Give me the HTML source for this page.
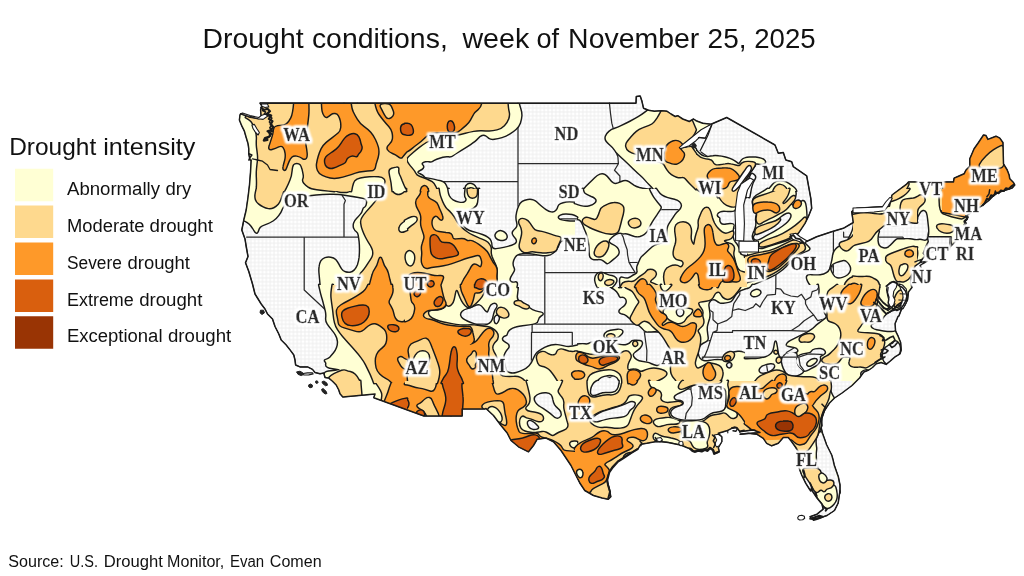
<!DOCTYPE html>
<html lang="en"><head><meta charset="utf-8"><title>Drought conditions, week of November 25, 2025</title>
<style>html,body{margin:0;padding:0;background:#fff;overflow:hidden}svg{display:block}</style></head>
<body>
<svg width="1024" height="576" viewBox="0 0 1024 576">
<defs>
<pattern id="dots" width="3.86" height="3.86" patternUnits="userSpaceOnUse"><rect width="3.86" height="3.86" fill="#f0f0f0"/><rect x="0.55" y="0.55" width="2.76" height="2.76" fill="#fff"/></pattern>
<clipPath id="land"><path d="M260,103 L636,103.2 L636.3,96.5 L640.2,96 L641.8,100.7 L643.5,108.2 L648.5,110.2 L654.3,111.2 L661.8,110.7 L666.8,111.2 L671,114 L675.2,116.5 L677.7,115.7 L682.7,119 L689.3,121.5 L693.5,119 L696,120.7 L702.7,123.2 L711,124.3 L726.7,117.5 L775,145 L778.3,153.3 L783.3,152.5 L785.8,160 L791.7,161.7 L793.3,166.7 L806.7,175.8 L810.8,198.3 L811.7,208.3 L808.3,216.7 L805,223.3 L801.7,228.3 L798.3,233.3 L795.8,236.7 L800,241.7 L803.3,243 L816.7,236.7 L831.7,231.7 L843.3,228.3 L853.3,222.5 L851.7,211.7 L856.7,208.3 L889.5,206.2 L892,195 L907,183.8 L908.5,181.9 L953.5,181.9 L954.1,178.1 L958.5,176.2 L964.1,173.8 L966,170 L969.8,166.2 L969.8,158.8 L974.1,148.8 L978.5,142.5 L983.5,135 L986,135.6 L987.9,139.4 L996,136.2 L999.8,138.1 L1002.9,142.5 L1003.5,163.8 L1007.2,170 L1009.1,175 L1009.8,178.8 L1013.5,182.5 L1014.8,185 L1012.2,188.1 L1006,190 L998.1,192.5 L992.5,196.7 L988.3,200.9 L982.7,205.2 L978.4,208 L971.4,212.2 L965.8,216.4 L967.2,219.2 L964.4,222 L965.1,224.8 L963,231 L958,238 L953,244 L950,247 L940,250 L930,252 L925,256 L922.5,258.8 L920,262.5 L915,266.2 L913.1,271.2 L911.2,277.5 L910.6,282.5 L911.9,287.5 L908.5,291.9 L907.5,300 L905,305 L901.2,310 L898.8,316.2 L898.1,316.2 L895,323.8 L895.6,331.2 L898.1,336.2 L900.6,342.5 L901.2,350 L900,353.8 L895,356.9 L890,361.2 L886.2,364.4 L881.2,362.5 L876.2,363.8 L872.5,367.5 L868.8,370 L863.8,372 L859.5,378 L852,385.5 L842,393 L834.5,398 L829.5,403 L824.5,410.5 L822,418 L821.2,428 L822.5,433.3 L826.7,445 L831.7,455 L833.3,460.8 L834.2,465 L838.3,476.7 L840,485 L840,493.3 L840,490.5 L838.2,503 L834.5,510.5 L827,515.5 L819.5,518 L812,519.2 L810,516.8 L817,514.2 L823.2,509.2 L822,504.2 L817,498 L812,490.5 L810,490 L805.8,483.3 L801.7,475 L799.2,468.3 L798.3,451.7 L795.8,447.5 L791.7,441.7 L788.3,437.5 L783.3,437.5 L778.3,443.3 L771.7,445.8 L766.7,443.3 L763.3,438.3 L756.7,434.2 L748.3,433.3 L740,434.2 L760,432.5 L753.3,430 L746.7,430.8 L740,431.7 L736.7,427.5 L731.7,428.3 L726.7,430.8 L718.3,433.3 L721.7,436.7 L721.7,441.7 L718.3,447.5 L719.2,451.7 L714.2,453.7 L713.3,450 L710,447.5 L706.7,450 L700,450.8 L694.2,451.7 L691.7,449.2 L686.7,447.5 L680.8,445 L676.7,444.2 L668.3,442.5 L661.7,441.7 L655,441.7 L646.7,443.3 L640.8,444.2 L638.3,448.3 L631.7,452.5 L625,456.7 L618.3,460.8 L612.5,466.7 L609.2,471.7 L606.7,480 L609.2,488.3 L610.8,496.7 L608.3,499.2 L602.2,498 L593.5,495.5 L584.8,490.5 L579.8,483 L576,475.5 L571,465.5 L566,458 L561,450.5 L553.5,441.8 L546,438 L537.2,439.2 L533.5,445.5 L528.5,451.8 L518.5,446.8 L511,440.5 L507.2,433 L501,425.5 L493.5,415.5 L486,408.5 L484.8,408.9 L462.2,408.9 L462.2,416 L423.9,416 L373.8,397.7 L375,394 L342.8,397 L340,393.8 L338.8,390 L336.2,385 L332.5,381.2 L328.8,378.1 L325,377.5 L323.8,373.1 L320,373.8 L315,372.5 L312.5,369.4 L307.5,366.9 L300,366.9 L295.6,365 L295,360 L293.8,355 L290.6,350.6 L286.2,345 L281.2,340 L278.8,334 L275,326.5 L272.5,319 L267.5,314 L265,309 L261.2,304 L255,294 L252.5,284 L248.8,271.5 L245.5,262.8 L248,256.5 L246.2,246.5 L245,239 L241.8,230 L243.8,220 L246.2,210 L248,197.5 L249.5,185 L250.5,172.5 L251.2,160 L250,160 L248.8,153.8 L248.8,148.8 L248.1,143.8 L246.2,137.5 L244.4,131.2 L241.9,126.2 L239.4,120 L240,115 L240.6,113.8 L248.8,116.9 L258.8,118.8 L261.2,116.9 L260.6,110 L261.9,106.2 L260,103.1Z"/></clipPath>
<filter id="halo" x="-20%" y="-30%" width="140%" height="160%"><feMorphology in="SourceAlpha" operator="dilate" radius="1.6" result="d"/><feGaussianBlur in="d" stdDeviation="0.8" result="b"/><feFlood flood-color="#fff"/><feComposite in2="b" operator="in" result="h"/><feMerge><feMergeNode in="h"/><feMergeNode in="h"/><feMergeNode in="SourceGraphic"/></feMerge></filter>
</defs>
<rect width="1024" height="576" fill="#fff"/>
<path d="M260,103 L636,103.2 L636.3,96.5 L640.2,96 L641.8,100.7 L643.5,108.2 L648.5,110.2 L654.3,111.2 L661.8,110.7 L666.8,111.2 L671,114 L675.2,116.5 L677.7,115.7 L682.7,119 L689.3,121.5 L693.5,119 L696,120.7 L702.7,123.2 L711,124.3 L726.7,117.5 L775,145 L778.3,153.3 L783.3,152.5 L785.8,160 L791.7,161.7 L793.3,166.7 L806.7,175.8 L810.8,198.3 L811.7,208.3 L808.3,216.7 L805,223.3 L801.7,228.3 L798.3,233.3 L795.8,236.7 L800,241.7 L803.3,243 L816.7,236.7 L831.7,231.7 L843.3,228.3 L853.3,222.5 L851.7,211.7 L856.7,208.3 L889.5,206.2 L892,195 L907,183.8 L908.5,181.9 L953.5,181.9 L954.1,178.1 L958.5,176.2 L964.1,173.8 L966,170 L969.8,166.2 L969.8,158.8 L974.1,148.8 L978.5,142.5 L983.5,135 L986,135.6 L987.9,139.4 L996,136.2 L999.8,138.1 L1002.9,142.5 L1003.5,163.8 L1007.2,170 L1009.1,175 L1009.8,178.8 L1013.5,182.5 L1014.8,185 L1012.2,188.1 L1006,190 L998.1,192.5 L992.5,196.7 L988.3,200.9 L982.7,205.2 L978.4,208 L971.4,212.2 L965.8,216.4 L967.2,219.2 L964.4,222 L965.1,224.8 L963,231 L958,238 L953,244 L950,247 L940,250 L930,252 L925,256 L922.5,258.8 L920,262.5 L915,266.2 L913.1,271.2 L911.2,277.5 L910.6,282.5 L911.9,287.5 L908.5,291.9 L907.5,300 L905,305 L901.2,310 L898.8,316.2 L898.1,316.2 L895,323.8 L895.6,331.2 L898.1,336.2 L900.6,342.5 L901.2,350 L900,353.8 L895,356.9 L890,361.2 L886.2,364.4 L881.2,362.5 L876.2,363.8 L872.5,367.5 L868.8,370 L863.8,372 L859.5,378 L852,385.5 L842,393 L834.5,398 L829.5,403 L824.5,410.5 L822,418 L821.2,428 L822.5,433.3 L826.7,445 L831.7,455 L833.3,460.8 L834.2,465 L838.3,476.7 L840,485 L840,493.3 L840,490.5 L838.2,503 L834.5,510.5 L827,515.5 L819.5,518 L812,519.2 L810,516.8 L817,514.2 L823.2,509.2 L822,504.2 L817,498 L812,490.5 L810,490 L805.8,483.3 L801.7,475 L799.2,468.3 L798.3,451.7 L795.8,447.5 L791.7,441.7 L788.3,437.5 L783.3,437.5 L778.3,443.3 L771.7,445.8 L766.7,443.3 L763.3,438.3 L756.7,434.2 L748.3,433.3 L740,434.2 L760,432.5 L753.3,430 L746.7,430.8 L740,431.7 L736.7,427.5 L731.7,428.3 L726.7,430.8 L718.3,433.3 L721.7,436.7 L721.7,441.7 L718.3,447.5 L719.2,451.7 L714.2,453.7 L713.3,450 L710,447.5 L706.7,450 L700,450.8 L694.2,451.7 L691.7,449.2 L686.7,447.5 L680.8,445 L676.7,444.2 L668.3,442.5 L661.7,441.7 L655,441.7 L646.7,443.3 L640.8,444.2 L638.3,448.3 L631.7,452.5 L625,456.7 L618.3,460.8 L612.5,466.7 L609.2,471.7 L606.7,480 L609.2,488.3 L610.8,496.7 L608.3,499.2 L602.2,498 L593.5,495.5 L584.8,490.5 L579.8,483 L576,475.5 L571,465.5 L566,458 L561,450.5 L553.5,441.8 L546,438 L537.2,439.2 L533.5,445.5 L528.5,451.8 L518.5,446.8 L511,440.5 L507.2,433 L501,425.5 L493.5,415.5 L486,408.5 L484.8,408.9 L462.2,408.9 L462.2,416 L423.9,416 L373.8,397.7 L375,394 L342.8,397 L340,393.8 L338.8,390 L336.2,385 L332.5,381.2 L328.8,378.1 L325,377.5 L323.8,373.1 L320,373.8 L315,372.5 L312.5,369.4 L307.5,366.9 L300,366.9 L295.6,365 L295,360 L293.8,355 L290.6,350.6 L286.2,345 L281.2,340 L278.8,334 L275,326.5 L272.5,319 L267.5,314 L265,309 L261.2,304 L255,294 L252.5,284 L248.8,271.5 L245.5,262.8 L248,256.5 L246.2,246.5 L245,239 L241.8,230 L243.8,220 L246.2,210 L248,197.5 L249.5,185 L250.5,172.5 L251.2,160 L250,160 L248.8,153.8 L248.8,148.8 L248.1,143.8 L246.2,137.5 L244.4,131.2 L241.9,126.2 L239.4,120 L240,115 L240.6,113.8 L248.8,116.9 L258.8,118.8 L261.2,116.9 L260.6,110 L261.9,106.2 L260,103.1Z" fill="url(#dots)" stroke="#222" stroke-width="1" stroke-linejoin="round"/>
<path id="borders" fill="none" stroke="#2a2a2a" stroke-width="1.25" stroke-linejoin="round" stroke-linecap="round" d="M344,103 L343.9,154.4 L345.5,162.5M250.6,157.5 L261.3,159.1 L266.7,165.4 L267.3,170.2 L274.7,171.2 L280.1,168.3 L288.1,168.3 L297.5,169.3 L309.6,164.5 L317.9,162.5 L345.5,162.5M345.5,162.5 L351.5,170.2 L348.4,176 L346.4,183.6 L341.7,191.1 L342.4,195.8 L345.4,200.5 L344,204.2 L344,237.1M246.6,237.1 L424.2,237.1M304.2,237.1 L304.2,290 L376.2,357.2M384.1,237.1 L384,324M384,324 L384,337.4 L379.3,339.1 L374.7,340.7 L375.8,349 L376.2,357.2M376.2,357.2 L379.5,366.2 L382.8,369.2 L377.9,375.1 L375,383.1 L377.9,389.5 L375,394M384,324 L644.4,324M424.2,237.1 L424.2,255 L451,255 L451,324 L451,416M451,255 L544.8,255 L544.8,272.6M424.2,181.7 L424.2,237.1M424.2,181.7 L518,181.7M357.2,103 L357.2,123.2 L361.6,129.2 L361.8,134.2 L367.2,138.1 L371.9,144.1 L376.6,149.9 L380.2,149.9 L379.3,164.5 L377.3,171.2 L380.6,173.1 L385.3,168.3 L388.7,176 L394.7,185.5 L400,192 L407.4,191.1 L414.1,190.2 L418.1,190.2 L419.5,186.4 L424.2,191.1M518,103 L518,255M518,163.7 L618.4,163.7M518,218.9 L592.4,218.9 L600.4,221.7 L607.1,221.7 L612.5,223.5 L619.5,228.1M544.8,272.6 L544.8,324M544.8,272.6 L635.2,272.6M609.4,103 L610.5,113.2 L611.8,123.2 L614.5,133.2 L614.8,143.1 L615.4,150.9 L617.9,156.7 L618.4,163.7M618.4,163.7 L614.5,170.2 L619.9,176 L619.9,209.7M619.9,209.7 L618.5,213.4 L619.9,217.1 L618.5,220.8 L619.5,228.1M619.9,209.7 L690,209.7M619.5,228.1 L621.2,233.5 L623.2,237.1 L624.6,242.5 L627.2,249.7 L627.6,255 L629,262.1 L631.9,267.4 L635.2,272.6M629,262.5 L683.1,262.1 L687.3,266M635.2,272.6 L640.6,276.1 L638,280.5 L640.6,284.8 L644.5,288.3 L644.4,324 L644.4,332.4M644.4,332.4 L704.3,332.4 L701.4,340.7 L710.3,340.7M644.4,332.4 L646.9,350.6 L646.1,379.3M532.1,324 L532.1,332.4M531.5,332.4 L572.3,332.4 L572.3,364.4 L576.3,367 L583,370.2 L591.1,371.8 L597.8,371 L603.1,375.1 L609.8,377.5 L613.8,375.1 L620.5,378.3 L628.6,375.9 L636.6,374.3 L642,378.3 L646.1,379.3 L652.2,380.7M652.2,380.7 L652.2,405.4 L658.7,421.1 L656.5,428.9 L656.7,435.1 L654.7,441.3M652.2,389.2 L690.6,389.2M531.5,332.4 L531.3,405.4 L483.6,405.4 L484.8,408.9M675.6,149.7 L675.6,161 L667.9,168.3 L670.1,176 L668.8,186.4 L675.5,190.2 L687.6,200.5 L690,209.7 L690.9,218.9 L696.9,224.4 L697.7,228.1 L704,235.3 L702.3,241.6 L699.6,246.1 L692.3,247.9 L692.9,256.8 L687.6,262.1 L687.3,266 L687.2,274.4 L688.2,277.9 L696.3,284.8 L699,291.7 L704.3,292.6 L703.6,296.9 L701.6,303.7 L707.7,308.8 L713,312.2 L713,319.8 L717.7,324 L717,330.7 L713,332.4 L710.3,340.7 L707.7,349 L705,355.5 L699.6,362.1 L694.3,370.2 L691.6,378.3 L690.9,389.5 L692.3,397.5 L691.6,405.4 L686.2,413.3 L684.9,421.1M684.9,421.1 L709.9,421.1 L709,426.6 L712.4,433.6M697.7,228.1 L735.8,228.1M701,151.9 L707.7,156.7 L718.4,160.6 L725.1,163.5 L731.8,166.4 L735.1,174.1 L738.5,179.8M739.4,242.5 L739.4,284 L739.8,294.3 L733.8,303.7 L732.5,310.5M776,242.5 L775.8,288.3M743.9,241.4 L776,241.4 L794.1,242M717.7,324 L726.4,320.7 L731.8,316.5 L732.5,310.5 L738.5,308.8 L745.2,310.5 L753.2,307.1 L755.9,303.7 L759.9,307.1 L762.6,302 L767.3,295.2 L775.4,294.3 L775.8,288.3 L780.7,289.2 L784.1,293.5 L790.8,296 L797.5,296.9 L801.5,294.3 L805.5,300.3 L810.9,296.9 L812.2,291.7 L816.9,290 L821.6,283.1 L827,279.6 L829,277.9 L832.3,265.6 L833.4,261.4M833.4,277.5 L833.4,231.7M843.6,232.2 L843.6,237.1 L902.7,237.1 L911.4,248.6 L922.1,255M833.4,277.5 L896.9,277.5M805.5,300.3 L805.5,303.7 L808.2,308.8 L813.6,314.8 L804.2,320.7 L798.8,325.7 L791,330.7M817.8,331.6 L791,330.7 L732.5,330.7 L732.5,332.4 L713,332.4M817.8,331.6 L895.7,331.6M817.8,330.9 L817.6,334.9 L812.2,339.1 L805.5,341.5 L797.5,344.9 L793.5,348.2 L786.8,352.3 L782.5,357.2M798.8,357.2 L702.3,357.2M730.5,357.2 L731.8,358.8 L727.1,405.4 L727.1,421.1 L727.8,432.8M765.3,357.2 L770.9,391.6 L774,400.7 L772.7,413.3 L773.3,421.1 L775.2,425.7M739.8,432.4 L740.5,430.5 L738.5,421.1 L773.3,421.1M775.2,425.7 L810.6,427.8 L812.9,431.1 L814.2,425 L820.9,425.8M798.8,357.2 L800.2,365.3 L806.2,373.5 L813.6,381.5 L820.3,389.5 L822.9,397.5 L828.3,404.6M798.8,357.2 L808.2,353.9 L826.3,354.7 L828.3,356.4 L829.6,360.5 L844.4,360.5 L859.8,375.9M813.6,314.8 L817.6,320.7 L824.3,319 L829.6,319 L836.3,315.6 L840.4,308.8 L844.4,300.3 L849.7,296.9 L855.5,292.6 L862.5,288.3 L870.5,284.8 L870.9,284.5M870.9,284.5 L864.5,279.6 L856.5,278.8 L853.8,282.2 L847.2,286.6 L847.3,277.5M870.9,284.5 L873.9,288.3 L879.9,291.7 L876.6,300.3 L881.9,303.7 L890,307.1M900.7,275.6 L896.9,277.5 L898,299.5 L906.7,299.5M911.4,248.6 L906,255 L904.7,262.1 L910.1,269.1 L905.4,274.4 L900,279.6M925.5,255 L927.5,249.7 L927.5,236.2 L930.6,223.5 L930.8,207.9 L928.8,207.9 L929.5,191.1 L929.5,181.7M954.3,181.7 L953,186.4 L951.6,193 L946.9,194.9 L946.3,202.3 L942.2,207.9 L941.6,215.3 L941.4,223.9M930.6,223.5 L957,223.9 L963.4,221.1M959.9,176 L961.3,207.9 L964.4,217.1M927.5,236.2 L950.3,236.6 L949.6,249.3"/>
<g clip-path="url(#land)" stroke-linejoin="round">
<defs>
<path id="p1" d="M235,93L407,93L407,191L235,191ZM405,93L516,93L517.7,99.8Q519.3,106.5 520.3,109.4Q521.3,112.3 521.2,115.7Q521,119 519.8,122.8Q518.5,126.5 515.6,129Q512.7,131.5 509.3,133.6Q506,135.7 501.8,136.9Q497.7,138.2 494.3,138.6Q491,139 489.3,137.8Q487.7,136.5 486,135.2Q484.3,134 481.8,134.8Q479.3,135.7 477.7,137.8Q476,139.8 474.3,141.1Q472.7,142.3 470.2,144Q467.7,145.7 464.3,147.8Q461,149.8 457.7,151.9Q454.3,154 452.7,155.2Q451,156.5 448.5,156.1Q446,155.7 442.7,156.5Q439.3,157.3 436.4,158.6Q433.5,159.8 432.2,160.7Q431,161.5 429.3,161.1Q427.7,160.7 425.2,161.1Q422.7,161.5 421.8,162.8Q421,164 422.2,165.2Q423.5,166.5 422.7,167.8Q421.8,169 419.8,169.8Q417.7,170.7 417.2,171.9Q416.8,173.2 419.8,174.4Q422.7,175.7 423.5,176.9Q424.3,178.2 426.8,178.6Q429.3,179 433.5,179.8Q437.7,180.7 440.6,181.5Q443.5,182.3 444.8,184Q446,185.7 446.8,188.3L447.7,191L405,191ZM465.2,191L465.6,188.3Q466,185.7 467.7,184.7Q469.3,183.7 471.4,184.2Q473.5,184.8 474.8,186.5Q476,188.2 476.4,189.6L476.8,191ZM648.5,102.3L712.7,102.3L712.7,124.3L710.2,124.8L705.6,127.3Q701,129.8 696.8,133.2Q692.7,136.5 688.5,139.8Q684.3,143.2 681.8,145.4L679.3,147.7L681,148.2Q682.7,148.7 686.8,147.8Q691,147 693.1,147.6Q695.2,148.2 695.6,149L696,149.8L696,191L656,191L654.3,189.2Q652.7,187.3 650.2,184.8Q647.7,182.3 645.2,179.4Q642.7,176.5 640.2,174.4Q637.7,172.3 633.5,168.2Q629.3,164 625.2,160.2Q621,156.5 618.5,154Q616,151.5 614.8,149.4Q613.5,147.3 611,145.2Q608.5,143.2 606.8,141.1Q605.2,139 606,136.5Q606.8,134 609.3,131.9Q611.8,129.8 614.8,129Q617.7,128.2 621.8,126.1Q626,124 630.2,121.9Q634.3,119.8 638.5,117.3Q642.7,114.8 645.6,112.5L648.5,110.2ZM582.7,191L584.3,189.2Q586,187.3 589.3,184Q592.7,180.7 595.2,178.2Q597.7,175.7 600.2,174.8Q602.7,174 604.8,175.2Q606.8,176.5 608.9,179.4Q611,182.3 613.1,183.6Q615.2,184.8 618.1,183.6Q621,182.3 623.5,181.5Q626,180.7 628.5,182.3Q631,184 633.5,185.7Q636,187.3 639.3,188.2Q642.7,189 646,189.4Q649.3,189.8 651,190.4L652.7,191ZM767.7,191L769.3,189.2Q771,187.3 772.7,185.2Q774.3,183.2 776.8,182.1Q779.3,181 782.7,181.7Q786,182.3 788.5,184Q791,185.7 793.1,187.3Q795.2,189 795.6,190L796,191ZM895.7,191L909,180.7L944,180.7L944,191ZM235,189L407,189L407,287L321,287L320.6,282.7Q320.2,278.3 319.8,274.2Q319.3,270 319.8,266.7Q320.2,263.3 321.4,261.2Q322.7,259.2 325.2,258.3Q327.7,257.5 330.6,257.9Q333.5,258.3 335.2,260Q336.8,261.7 338.1,264.2Q339.3,266.7 341,269.2Q342.7,271.7 345.2,272.5Q347.7,273.3 350.2,272.9Q352.7,272.5 354.8,270.4Q356.8,268.3 358.1,265Q359.3,261.7 359.8,257.5Q360.2,253.3 360.2,249.2Q360.2,245 359.8,241.2Q359.3,237.5 358.9,235Q358.5,232.5 356.8,231.2Q355.2,230 354.3,227.9Q353.5,225.8 354.3,223.3Q355.2,220.8 357.2,218.8Q359.3,216.7 361,214.6Q362.7,212.5 363.1,210.4Q363.5,208.3 365.2,207.5Q366.8,206.7 367.2,203.3Q367.7,200 366,198.8Q364.3,197.5 358.5,196.7Q352.7,195.8 347.7,195Q342.7,194.2 339.3,193.8Q336,193.3 329.3,193.5Q322.7,193.7 316,194.3Q309.3,195 302.7,195.8Q296,196.7 291,199.2Q286,201.7 283.9,205Q281.8,208.3 281.2,210Q280.7,211.7 278.3,215Q276,218.3 272.7,220.4Q269.3,222.5 265.2,223.9Q261,225.3 259.8,226.8Q258.5,228.3 257.7,231Q256.8,233.7 255.6,231.8Q254.3,230 253.1,227.9Q251.8,225.8 249.8,223.8Q247.7,221.7 245.2,220.7L242.7,219.7L235,219.7ZM405,189L577,189L577,287L405,287ZM575,189L747,189L747,287L575,287ZM794.3,189L795.2,192Q796,195 794.3,197.5Q792.7,200 791,201.7Q789.3,203.3 791,204.6Q792.7,205.8 794.3,207.1Q796,208.3 798.5,205Q801,201.7 802.7,201.2Q804.3,200.8 805,203.8Q805.7,206.7 806,210.8Q806.3,215 806.3,218.3Q806.3,221.7 805.8,223.8Q805.2,225.8 803.5,227.9Q801.8,230 800.6,232.5Q799.3,235 800.2,237.5Q801,240 802.7,241.7Q804.3,243.3 806,245Q807.7,246.7 808.8,247.9Q810,249.2 807.5,250.2Q805,251.2 801.8,252.7Q798.7,254.2 795.6,256.7Q792.5,259.2 790,261.7Q787.5,264.2 785,266.7Q782.5,269.2 779.3,271.4Q776.2,273.7 773.1,275.2Q770,276.7 767.5,277.9Q765,279.2 761.8,280.4Q758.7,281.7 755.7,282.9Q752.7,284.2 749.3,285.6L746,287L745,287L745,252L745.5,252Q746,252 749.3,251Q752.7,250 755.2,248.8Q757.7,247.5 758.1,245.8Q758.5,244.2 757.2,242.9Q756,241.7 754.3,240Q752.7,238.3 753.1,235.8Q753.5,233.3 754.8,230.8Q756,228.3 756.4,225.8Q756.8,223.3 756.4,220.8Q756,218.3 756.8,215.8Q757.7,213.3 756.4,210.8Q755.2,208.3 753.9,205.8Q752.7,203.3 753.1,201.2Q753.5,199.2 754.8,197.5Q756,195.8 759.3,194.2Q762.7,192.5 765.2,190.8L767.7,189ZM917,189L917,287L812.7,287L811,285.2Q809.3,283.3 808.1,280.8Q806.8,278.3 807.2,276.7Q807.7,275 811.8,275.4Q816,275.8 820.2,275.4Q824.3,275 826.8,273.3Q829.3,271.7 830.2,269.2Q831,266.7 831.8,263.3Q832.7,260 833.1,256.7Q833.5,253.3 834.8,251.2Q836,249.2 837.7,247.9Q839.3,246.7 841.8,245.8Q844.3,245 846,243.3Q847.7,241.7 848.9,239.2Q850.2,236.7 851.4,234.2Q852.7,231.7 853.5,228.3Q854.3,225 854.3,220.8Q854.3,216.7 853.5,214.2Q852.7,211.7 857.7,210.7Q862.7,209.7 867.7,209.2Q872.7,208.7 878.5,208.1Q884.3,207.5 886,204.6Q887.7,201.7 889.3,198.8Q891,195.8 893.5,192.4L896,189ZM853,189L1025,189L1025,287L853,287ZM407,285L407,383L326.8,383L326.4,380.3Q326,377.7 325.2,376Q324.3,374.3 325.2,373.1Q326,371.8 331,371.4Q336,371 338.5,370.3Q341,369.7 338.5,369.1Q336,368.5 332.7,368.1Q329.3,367.7 327.7,366.8Q326,366 326.4,364.3Q326.8,362.7 325.6,361.4Q324.3,360.2 326.4,359.8Q328.5,359.3 330.2,357.7Q331.8,356 333.9,353.5Q336,351 337.2,347.7Q338.5,344.3 338.1,341Q337.7,337.7 336,334.8Q334.3,331.8 331.8,328.9Q329.3,326 327.7,323.5Q326,321 326.4,317.7Q326.8,314.3 326,311Q325.2,307.7 324.3,304.3Q323.5,301 322.2,296.8Q321,292.7 320.2,288.8L319.3,285ZM405,285L577,285L577,383L405,383ZM575,285L747,285L747,383L575,383ZM745,285L917,285L917,383L745,383ZM235,381L407,381L407,479L235,479ZM405,381L577,381L577,479L405,479ZM575,381L747,381L747,479L575,479ZM745,381L917,381L917,479L745,479ZM817.2,496.2Q816,493.3 817.7,491.7Q819.3,490 821.8,490.8Q824.3,491.7 825.2,490Q826,488.3 828.5,487.9Q831,487.5 832.7,486.2Q834.3,485 835.2,487.5Q836,490 836.4,493.3Q836.8,496.7 836,499.2Q835.2,501.7 833.5,503.8Q831.8,505.8 829.8,507.1Q827.7,508.3 826,507.5Q824.3,506.7 823.1,504.6Q821.8,502.5 820.2,500.8Q818.5,499.2 817.2,496.2ZM695,149.3L696.5,151Q698,152.7 699.9,154.4Q701.9,156.1 704.3,156.8Q706.7,157.6 708.7,157.1Q710.6,156.6 713.1,156.4Q715.5,156.1 718.5,156.5Q721.4,156.8 724.3,157.4Q727.2,158.1 729.7,159Q732.1,160 734.1,161.2Q736,162.5 737.5,163.7Q739,164.9 739.9,163.4Q740.9,162 741.9,160.5Q742.9,159 744.8,158.6Q746.8,158.1 749.7,157.8Q752.6,157.6 755.6,157.8Q758.5,158.1 760.9,158.8Q763.4,159.5 764.4,160.8Q765.3,162 764.4,162.9Q763.4,163.9 760.9,163.7Q758.5,163.4 757,163.2Q755.6,162.9 755.1,164.2Q754.6,165.4 753.6,166.9Q752.6,168.3 751.2,170.3Q749.7,172.2 748.2,174.7Q746.8,177.1 745.3,179.6Q743.9,182 742.9,184.4Q741.9,186.9 741.2,189.3Q740.4,191.8 739.9,194.4L739.5,197.1L695,197.1Z"/>
</defs>
<path d="M235,93M407,93M407,191M235,191M405,93M516,93L517.7,99.8Q519.3,106.5 520.3,109.4Q521.3,112.3 521.2,115.7Q521,119 519.8,122.8Q518.5,126.5 515.6,129Q512.7,131.5 509.3,133.6Q506,135.7 501.8,136.9Q497.7,138.2 494.3,138.6Q491,139 489.3,137.8Q487.7,136.5 486,135.2Q484.3,134 481.8,134.8Q479.3,135.7 477.7,137.8Q476,139.8 474.3,141.1Q472.7,142.3 470.2,144Q467.7,145.7 464.3,147.8Q461,149.8 457.7,151.9Q454.3,154 452.7,155.2Q451,156.5 448.5,156.1Q446,155.7 442.7,156.5Q439.3,157.3 436.4,158.6Q433.5,159.8 432.2,160.7Q431,161.5 429.3,161.1Q427.7,160.7 425.2,161.1Q422.7,161.5 421.8,162.8Q421,164 422.2,165.2Q423.5,166.5 422.7,167.8Q421.8,169 419.8,169.8Q417.7,170.7 417.2,171.9Q416.8,173.2 419.8,174.4Q422.7,175.7 423.5,176.9Q424.3,178.2 426.8,178.6Q429.3,179 433.5,179.8Q437.7,180.7 440.6,181.5Q443.5,182.3 444.8,184Q446,185.7 446.8,188.3L447.7,191M405,191M465.2,191L465.6,188.3Q466,185.7 467.7,184.7Q469.3,183.7 471.4,184.2Q473.5,184.8 474.8,186.5Q476,188.2 476.4,189.6L476.8,191M648.5,102.3M712.7,102.3M712.7,124.3M710.2,124.8L705.6,127.3Q701,129.8 696.8,133.2Q692.7,136.5 688.5,139.8Q684.3,143.2 681.8,145.4L679.3,147.7L681,148.2Q682.7,148.7 686.8,147.8Q691,147 693.1,147.6Q695.2,148.2 695.6,149L696,149.8M696,191M656,191L654.3,189.2Q652.7,187.3 650.2,184.8Q647.7,182.3 645.2,179.4Q642.7,176.5 640.2,174.4Q637.7,172.3 633.5,168.2Q629.3,164 625.2,160.2Q621,156.5 618.5,154Q616,151.5 614.8,149.4Q613.5,147.3 611,145.2Q608.5,143.2 606.8,141.1Q605.2,139 606,136.5Q606.8,134 609.3,131.9Q611.8,129.8 614.8,129Q617.7,128.2 621.8,126.1Q626,124 630.2,121.9Q634.3,119.8 638.5,117.3Q642.7,114.8 645.6,112.5L648.5,110.2M582.7,191L584.3,189.2Q586,187.3 589.3,184Q592.7,180.7 595.2,178.2Q597.7,175.7 600.2,174.8Q602.7,174 604.8,175.2Q606.8,176.5 608.9,179.4Q611,182.3 613.1,183.6Q615.2,184.8 618.1,183.6Q621,182.3 623.5,181.5Q626,180.7 628.5,182.3Q631,184 633.5,185.7Q636,187.3 639.3,188.2Q642.7,189 646,189.4Q649.3,189.8 651,190.4L652.7,191M767.7,191L769.3,189.2Q771,187.3 772.7,185.2Q774.3,183.2 776.8,182.1Q779.3,181 782.7,181.7Q786,182.3 788.5,184Q791,185.7 793.1,187.3Q795.2,189 795.6,190L796,191M895.7,191L909,180.7L944,180.7L944,191L895.7,191M235,189M407,189M407,287M321,287L320.6,282.7Q320.2,278.3 319.8,274.2Q319.3,270 319.8,266.7Q320.2,263.3 321.4,261.2Q322.7,259.2 325.2,258.3Q327.7,257.5 330.6,257.9Q333.5,258.3 335.2,260Q336.8,261.7 338.1,264.2Q339.3,266.7 341,269.2Q342.7,271.7 345.2,272.5Q347.7,273.3 350.2,272.9Q352.7,272.5 354.8,270.4Q356.8,268.3 358.1,265Q359.3,261.7 359.8,257.5Q360.2,253.3 360.2,249.2Q360.2,245 359.8,241.2Q359.3,237.5 358.9,235Q358.5,232.5 356.8,231.2Q355.2,230 354.3,227.9Q353.5,225.8 354.3,223.3Q355.2,220.8 357.2,218.8Q359.3,216.7 361,214.6Q362.7,212.5 363.1,210.4Q363.5,208.3 365.2,207.5Q366.8,206.7 367.2,203.3Q367.7,200 366,198.8Q364.3,197.5 358.5,196.7Q352.7,195.8 347.7,195Q342.7,194.2 339.3,193.8Q336,193.3 329.3,193.5Q322.7,193.7 316,194.3Q309.3,195 302.7,195.8Q296,196.7 291,199.2Q286,201.7 283.9,205Q281.8,208.3 281.2,210Q280.7,211.7 278.3,215Q276,218.3 272.7,220.4Q269.3,222.5 265.2,223.9Q261,225.3 259.8,226.8Q258.5,228.3 257.7,231Q256.8,233.7 255.6,231.8Q254.3,230 253.1,227.9Q251.8,225.8 249.8,223.8Q247.7,221.7 245.2,220.7L242.7,219.7M235,219.7M405,189M577,189M577,287M405,287M575,189M747,189M747,287M575,287M794.3,189L795.2,192Q796,195 794.3,197.5Q792.7,200 791,201.7Q789.3,203.3 791,204.6Q792.7,205.8 794.3,207.1Q796,208.3 798.5,205Q801,201.7 802.7,201.2Q804.3,200.8 805,203.8Q805.7,206.7 806,210.8Q806.3,215 806.3,218.3Q806.3,221.7 805.8,223.8Q805.2,225.8 803.5,227.9Q801.8,230 800.6,232.5Q799.3,235 800.2,237.5Q801,240 802.7,241.7Q804.3,243.3 806,245Q807.7,246.7 808.8,247.9Q810,249.2 807.5,250.2Q805,251.2 801.8,252.7Q798.7,254.2 795.6,256.7Q792.5,259.2 790,261.7Q787.5,264.2 785,266.7Q782.5,269.2 779.3,271.4Q776.2,273.7 773.1,275.2Q770,276.7 767.5,277.9Q765,279.2 761.8,280.4Q758.7,281.7 755.7,282.9Q752.7,284.2 749.3,285.6L746,287M745,287M745,252L745.5,252Q746,252 749.3,251Q752.7,250 755.2,248.8Q757.7,247.5 758.1,245.8Q758.5,244.2 757.2,242.9Q756,241.7 754.3,240Q752.7,238.3 753.1,235.8Q753.5,233.3 754.8,230.8Q756,228.3 756.4,225.8Q756.8,223.3 756.4,220.8Q756,218.3 756.8,215.8Q757.7,213.3 756.4,210.8Q755.2,208.3 753.9,205.8Q752.7,203.3 753.1,201.2Q753.5,199.2 754.8,197.5Q756,195.8 759.3,194.2Q762.7,192.5 765.2,190.8L767.7,189M917,189M917,287M812.7,287L811,285.2Q809.3,283.3 808.1,280.8Q806.8,278.3 807.2,276.7Q807.7,275 811.8,275.4Q816,275.8 820.2,275.4Q824.3,275 826.8,273.3Q829.3,271.7 830.2,269.2Q831,266.7 831.8,263.3Q832.7,260 833.1,256.7Q833.5,253.3 834.8,251.2Q836,249.2 837.7,247.9Q839.3,246.7 841.8,245.8Q844.3,245 846,243.3Q847.7,241.7 848.9,239.2Q850.2,236.7 851.4,234.2Q852.7,231.7 853.5,228.3Q854.3,225 854.3,220.8Q854.3,216.7 853.5,214.2Q852.7,211.7 857.7,210.7Q862.7,209.7 867.7,209.2Q872.7,208.7 878.5,208.1Q884.3,207.5 886,204.6Q887.7,201.7 889.3,198.8Q891,195.8 893.5,192.4L896,189M853,189M1025,189M1025,287M853,287M407,285M407,383M326.8,383L326.4,380.3Q326,377.7 325.2,376Q324.3,374.3 325.2,373.1Q326,371.8 331,371.4Q336,371 338.5,370.3Q341,369.7 338.5,369.1Q336,368.5 332.7,368.1Q329.3,367.7 327.7,366.8Q326,366 326.4,364.3Q326.8,362.7 325.6,361.4Q324.3,360.2 326.4,359.8Q328.5,359.3 330.2,357.7Q331.8,356 333.9,353.5Q336,351 337.2,347.7Q338.5,344.3 338.1,341Q337.7,337.7 336,334.8Q334.3,331.8 331.8,328.9Q329.3,326 327.7,323.5Q326,321 326.4,317.7Q326.8,314.3 326,311Q325.2,307.7 324.3,304.3Q323.5,301 322.2,296.8Q321,292.7 320.2,288.8L319.3,285M405,285M577,285M577,383M405,383M575,285M747,285M747,383M575,383M745,285M917,285M917,383M745,383M235,381M407,381M407,479M235,479M405,381M577,381M577,479M405,479M575,381M747,381M747,479M575,479M745,381M917,381M917,479M745,479M817.2,496.2Q816,493.3 817.7,491.7Q819.3,490 821.8,490.8Q824.3,491.7 825.2,490Q826,488.3 828.5,487.9Q831,487.5 832.7,486.2Q834.3,485 835.2,487.5Q836,490 836.4,493.3Q836.8,496.7 836,499.2Q835.2,501.7 833.5,503.8Q831.8,505.8 829.8,507.1Q827.7,508.3 826,507.5Q824.3,506.7 823.1,504.6Q821.8,502.5 820.2,500.8Q818.5,499.2 817.2,496.2M695,149.3L696.5,151Q698,152.7 699.9,154.4Q701.9,156.1 704.3,156.8Q706.7,157.6 708.7,157.1Q710.6,156.6 713.1,156.4Q715.5,156.1 718.5,156.5Q721.4,156.8 724.3,157.4Q727.2,158.1 729.7,159Q732.1,160 734.1,161.2Q736,162.5 737.5,163.7Q739,164.9 739.9,163.4Q740.9,162 741.9,160.5Q742.9,159 744.8,158.6Q746.8,158.1 749.7,157.8Q752.6,157.6 755.6,157.8Q758.5,158.1 760.9,158.8Q763.4,159.5 764.4,160.8Q765.3,162 764.4,162.9Q763.4,163.9 760.9,163.7Q758.5,163.4 757,163.2Q755.6,162.9 755.1,164.2Q754.6,165.4 753.6,166.9Q752.6,168.3 751.2,170.3Q749.7,172.2 748.2,174.7Q746.8,177.1 745.3,179.6Q743.9,182 742.9,184.4Q741.9,186.9 741.2,189.3Q740.4,191.8 739.9,194.4L739.5,197.1M695,197.1" fill="none" stroke="#1a1a1a" stroke-width="2.9" stroke-linecap="round"/>
<use href="#p1" fill="#ffffd4"/>
<defs>
<path id="p2" d="M577,189L577,201.7L573.2,201.2Q569.3,200.8 566,201.2Q562.7,201.7 560.2,202.9Q557.7,204.2 557.2,206.2Q556.8,208.3 555.2,210Q553.5,211.7 551.4,211.2Q549.3,210.8 546.8,209.2Q544.3,207.5 541.8,205.4Q539.3,203.3 537.7,201.7Q536,200 533.5,199.2Q531,198.3 527.7,198.8Q524.3,199.2 521.8,200.8Q519.3,202.5 518.1,205.4Q516.8,208.3 516,211.7Q515.2,215 515.2,217.5Q515.2,220 516,222.9Q516.8,225.8 515.2,227.5Q513.5,229.2 512.2,230.8Q511,232.5 511.8,234.6Q512.7,236.7 514.3,238.3Q516,240 515.6,241.7Q515.2,243.3 511.4,244.6Q507.7,245.8 503.5,246.7Q499.3,247.5 496,247.9Q492.7,248.3 492.7,245.8Q492.7,243.3 491.8,240.8Q491,238.3 488.5,236.7Q486,235 482.7,233.8Q479.3,232.5 476,231.7Q472.7,230.8 469.8,229.8Q466.8,228.7 464.6,226Q462.3,223.3 462.5,219.2Q462.7,215 466.4,212.9Q470.2,210.8 473.9,208.8Q477.7,206.7 478.3,202.5Q479,198.3 479,193.7L479,189ZM464.3,189L463.9,192.8Q463.5,196.7 464.8,198.3Q466,200 464.3,201Q462.7,202 459.3,201.4Q456,200.8 453.5,199.2Q451,197.5 450,195.4Q449,193.3 448.8,191.2L448.5,189ZM517.7,287L518.1,285.2Q518.5,283.3 517.7,282.1Q516.8,280.8 514.8,281.2Q512.7,281.7 511.4,280.8Q510.2,280 511.4,277.5Q512.7,275 514.3,272.5Q516,270 514.8,267.5Q513.5,265 513.9,262.5Q514.3,260 515.6,257.9Q516.8,255.8 519.8,255Q522.7,254.2 526,254.2Q529.3,254.2 533.5,255Q537.7,255.8 541,256.2Q544.3,256.7 547.7,256.2Q551,255.8 553.5,253.8Q556,251.7 557.7,249.2Q559.3,246.7 560.2,243.8Q561,240.8 569,240.8L577,240.8L577,287ZM559.3,217.7Q558.5,216.7 560.6,215.7Q562.7,214.7 566,214.7Q569.3,214.7 571.8,215.2Q574.3,215.8 575.7,216.7L577,217.5L577,220L574,220.2Q571,220.3 567.7,220Q564.3,219.7 562.2,219.2Q560.2,218.7 559.3,217.7ZM575,189L582.7,189L583.1,191.2Q583.5,193.3 586,194.8Q588.5,196.3 591,197.2Q593.5,198 594.8,199.4Q596,200.8 594.3,202.5Q592.7,204.2 589.3,205Q586,205.8 583.5,205.4Q581,205 578.5,204.2Q576,203.3 575.5,203.2L575,203ZM575,220L577.2,220.2Q579.3,220.5 580.3,221.9Q581.3,223.3 582.4,226.2Q583.5,229.2 584.8,232.1Q586,235 586.8,238.3Q587.7,241.7 588.1,245Q588.5,248.3 588.5,252.1Q588.5,255.8 589.3,257.5Q590.2,259.2 592.2,260Q594.3,260.8 597.7,260.4Q601,260 603.1,261.7Q605.2,263.3 606.4,264.2Q607.7,265 609.8,263.3Q611.8,261.7 613.9,260Q616,258.3 618.1,256.2Q620.2,254.2 619.9,251.7Q619.7,249.2 617.8,247.1Q616,245 613.9,244.2Q611.8,243.3 610.6,242.3Q609.3,241.3 610.6,239.8Q611.8,238.3 613.9,236.7Q616,235 618.1,234.3Q620.2,233.7 621.4,234.3Q622.7,235 624.3,234.6Q626,234.2 628.5,235.2Q631,236.3 634.3,237.2Q637.7,238 640.2,237.2Q642.7,236.3 644.8,235Q646.8,233.7 648.5,230.6Q650.2,227.5 651.4,225Q652.7,222.5 654.3,220Q656,217.5 657.7,215Q659.3,212.5 661,210Q662.7,207.5 661.4,205.8Q660.2,204.2 658.1,201.7Q656,199.2 654.3,196.7Q652.7,194.2 651.4,191.6L650.2,189L656,189L657.7,191.6Q659.3,194.2 661.8,195.8Q664.3,197.5 667.7,198.3Q671,199.2 674.3,200Q677.7,200.8 679.3,202.5Q681,204.2 680.6,206.2Q680.2,208.3 678.1,210Q676,211.7 674.3,214.2Q672.7,216.7 671,219.2Q669.3,221.7 668.1,223.8Q666.8,225.8 666.4,228.8Q666,231.7 666.4,235.8Q666.8,240 663.9,241.2Q661,242.5 657.7,243.3Q654.3,244.2 651.8,246.2Q649.3,248.3 646.8,250.8Q644.3,253.3 642.2,255Q640.2,256.7 639.3,258.8Q638.5,260.8 637.7,262.5Q636.8,264.2 636.2,266.2Q635.7,268.3 636.2,270.4Q636.8,272.5 634.8,273.3Q632.7,274.2 631,275.6Q629.3,277 627.7,277.2Q626,277.5 623.5,276.7Q621,275.8 619.8,277.1Q618.5,278.3 618.9,282.7L619.3,287L575,287ZM747,189L747,255L744,254.6Q741,254.2 740.6,251.2Q740.2,248.3 738.9,245.8Q737.7,243.3 736,241.7Q734.3,240 733.9,236.7Q733.5,233.3 733.9,230.8Q734.3,228.3 734.8,225.8Q735.2,223.3 732.2,222.9Q729.3,222.5 726,223.3Q722.7,224.2 721.4,222.5Q720.2,220.8 720.6,219.2Q721,217.5 719.3,216.7Q717.7,215.8 718.1,214.6Q718.5,213.3 720.6,212.5Q722.7,211.7 726,212.1Q729.3,212.5 732.7,212.1Q736,211.7 736.4,209.2Q736.8,206.7 737.7,202.5Q738.5,198.3 739.3,193.7L740.2,189ZM754.8,238.8Q753.5,237.5 754.8,235.8Q756,234.2 758.5,232.5Q761,230.8 764.3,229.2Q767.7,227.5 771,225.4Q774.3,223.3 776.8,221.2Q779.3,219.2 781.8,217.1Q784.3,215 786.4,214.2Q788.5,213.3 789.6,214.2Q790.7,215 790,217.1Q789.3,219.2 787.2,221.2Q785.2,223.3 782.2,225.4Q779.3,227.5 776,229.6Q772.7,231.7 769.3,233.3Q766,235 763.1,236.7Q760.2,238.3 758.1,239.2Q756,240 754.8,238.8ZM759.3,247.5Q757.7,246.7 760.2,245Q762.7,243.3 766.8,242.1Q771,240.8 775.2,239.6Q779.3,238.3 782.7,236.7Q786,235 788.5,234.3Q791,233.7 792.7,234.8Q794.3,235.8 792.7,237.1Q791,238.3 787.7,239.6Q784.3,240.8 780.2,242.1Q776,243.3 771.8,244.6Q767.7,245.8 764.3,247.1Q761,248.3 759.3,247.5ZM833.9,274.2Q832.7,271.7 831.8,270Q831,268.3 832.2,266.2Q833.5,264.2 836.4,263.3Q839.3,262.5 841.8,261.7Q844.3,260.8 846,262.1Q847.7,263.3 848.9,265.4Q850.2,267.5 849.8,270Q849.3,272.5 847.2,274.2Q845.2,275.8 842.2,276.7Q839.3,277.5 837.2,277.1Q835.2,276.7 833.9,274.2ZM878.8,240.8Q878.5,238.3 881.4,237.9Q884.3,237.5 887.7,238.1Q891,238.7 890.6,241.8Q890.2,245 888.1,246.2Q886,247.5 883.5,247.1Q881,246.7 880,245Q879,243.3 878.8,240.8ZM879.8,230.8Q879.3,227.5 881.8,226.7Q884.3,225.8 887.7,226.1Q891,226.3 893.5,226.9Q896,227.5 899.3,227.5Q902.7,227.5 906.8,227.9Q911,228.3 914,229.2L917,230L917,237.5L913.2,237.5Q909.3,237.5 905.2,237.9Q901,238.3 897.7,237.9Q894.3,237.5 890.2,237.1Q886,236.7 883.1,235.4Q880.2,234.2 879.8,230.8ZM879.4,233.8Q879.8,231.7 881.5,230.7Q883.2,229.7 886.1,229.4Q889,229.2 891.5,227.9Q894,226.7 899,226.2Q904,225.8 907.3,224.6Q910.7,223.3 913.2,222.5Q915.7,221.7 917.8,218.3Q919.8,215 920.7,213.3Q921.5,211.7 923.2,211.2Q924.8,210.8 925.7,212.9Q926.5,215 926.9,219.2Q927.3,223.3 927.8,227.5Q928.2,231.7 927.8,234.6Q927.3,237.5 926.5,238.8Q925.7,240 923.2,239.2Q920.7,238.3 918.2,238.8Q915.7,239.2 912.3,238.3Q909,237.5 905.7,237.9Q902.3,238.3 899.8,237.9Q897.3,237.5 895.7,238.8Q894,240 891.9,242.5Q889.8,245 887.8,245.8Q885.7,246.7 883.2,245.8Q880.7,245 879.7,242.9Q878.7,240.8 878.8,238.3Q879,235.8 879.4,233.8ZM928.2,237.5L950.7,237.5L950.7,255.8L925.7,255.8L924,253.3L926.5,246.7L929,241.7ZM577,285L577,344.3L574.8,344.8Q572.7,345.2 570.2,345.6Q567.7,346 564.3,345.2Q561,344.3 557.7,343.9Q554.3,343.5 551,344.3Q547.7,345.2 544.3,346.8Q541,348.5 538.5,350.2Q536,351.8 534.8,353.9Q533.5,356 532.2,359.3Q531,362.7 528.5,365.2Q526,367.7 522.7,369.3Q519.3,371 516,371.8Q512.7,372.7 509.8,371.8Q506.8,371 506.4,368.5Q506,366 505.6,363.5Q505.2,361 504.8,358.5Q504.3,356 505.6,353.5Q506.8,351 508.5,349.3Q510.2,347.7 509.8,345.6Q509.3,343.5 507.7,342.7Q506,341.8 504.3,340.6Q502.7,339.3 503.5,338.1Q504.3,336.8 506,336.4Q507.7,336 508.1,333.9Q508.5,331.8 510.6,330.2Q512.7,328.5 516,327.7Q519.3,326.8 522.7,326.4Q526,326 529.3,325.6Q532.7,325.2 535.6,324.3Q538.5,323.5 538.9,320.6Q539.3,317.7 541.8,316.4Q544.3,315.2 543.9,313.5Q543.5,311.8 541.4,311.4Q539.3,311 536,310.2Q532.7,309.3 530.2,307.2Q527.7,305.2 525.2,303.5Q522.7,301.8 520.2,300.6Q517.7,299.3 518.1,296Q518.5,292.7 518.9,288.8L519.3,285ZM461.4,315.2Q461,313.5 462.7,311.8Q464.3,310.2 467.7,309.3Q471,308.5 474.3,306.8Q477.7,305.2 479.3,305.6Q481,306 482.7,308.5Q484.3,311 486,312.2Q487.7,313.5 488.5,311.4Q489.3,309.3 490.2,307.2Q491,305.2 493.1,304.3Q495.2,303.5 496,304.8Q496.8,306 495.6,307.7Q494.3,309.3 493.5,311.8Q492.7,314.3 492.2,316.8Q491.8,319.3 490.6,321Q489.3,322.7 486.8,323.7Q484.3,324.7 481,324.3Q477.7,324 474.3,322.9Q471,321.8 468.1,320.6Q465.2,319.3 463.5,318.1Q461.8,316.8 461.4,315.2ZM494.9,318.5Q495.2,316.8 496.4,316Q497.7,315.2 498.3,316.4Q499,317.7 498.3,319.8Q497.7,321.8 496.7,322.7Q495.7,323.5 495.2,321.8Q494.7,320.2 494.9,318.5ZM575,285L607.7,285L608.5,286.3Q609.3,287.7 611.8,288.9Q614.3,290.2 616,292.2Q617.7,294.3 618.5,296.4Q619.3,298.5 621.4,298.1Q623.5,297.7 624.8,299.3Q626,301 625.2,303.1Q624.3,305.2 622.2,306.4Q620.2,307.7 618.9,309.3Q617.7,311 618.5,312.7Q619.3,314.3 621.8,314.8Q624.3,315.2 626,316.4Q627.7,317.7 629.3,319.3Q631,321 633.1,322.2Q635.2,323.5 637.2,325.2Q639.3,326.8 641,328.5Q642.7,330.2 643.9,331.6Q645.2,333 648.1,332.8Q651,332.7 654.3,332.5Q657.7,332.3 659.3,333.3Q661,334.3 662.7,336.8Q664.3,339.3 666,341.8Q667.7,344.3 668.9,346.8Q670.2,349.3 669.8,351Q669.3,352.7 666,354.3Q662.7,356 661,360.6Q659.3,365.2 656.8,364.8Q654.3,364.3 651.8,363.1Q649.3,361.8 646.8,361.4Q644.3,361 641.8,360.6Q639.3,360.2 637.2,358.9Q635.2,357.7 634.3,356Q633.5,354.3 635.2,353.1Q636.8,351.8 638.9,350.2Q641,348.5 642.2,346.4Q643.5,344.3 643.1,342.2Q642.7,340.2 640.2,339.8Q637.7,339.3 634.3,339.5Q631,339.7 630.2,341.2Q629.3,342.7 626.8,343.5Q624.3,344.3 621.8,343.9Q619.3,343.5 617.7,343.1Q616,342.7 604.3,341.4Q592.7,340.2 590.2,341.8Q587.7,343.5 585.2,343.1Q582.7,342.7 579.3,343.1Q576,343.5 575.5,343.5L575,343.5ZM710.2,302.7Q711,301 712.7,300.6Q714.3,300.2 716,301.4Q717.7,302.7 719.3,303.5Q721,304.3 723.5,303.9Q726,303.5 728.9,303.1Q731.8,302.7 733.1,300.6Q734.3,298.5 735.6,296.4Q736.8,294.3 738.9,292.7Q741,291 744,290.2L747,289.3L747,352.7L744,351.4Q741,350.2 737.7,350.6Q734.3,351 731.8,351.8Q729.3,352.7 727.2,354.3Q725.2,356 723.9,357.7Q722.7,359.3 720.2,358.9Q717.7,358.5 714.3,358.9Q711,359.3 708.5,359.8Q706,360.2 703.9,359.8Q701.8,359.3 700.6,357.7Q699.3,356 698.9,353.1Q698.5,350.2 699.8,347.7Q701,345.2 703.5,343.9Q706,342.7 707.7,341.4Q709.3,340.2 708.9,337.2Q708.5,334.3 708.1,331Q707.7,327.7 708.5,324.8Q709.3,321.8 710.2,318.9Q711,316 710.6,312.7Q710.2,309.3 709.8,306.8Q709.3,304.3 710.2,302.7ZM727.9,366.4Q726.8,365.2 727.7,364.1Q728.5,363 729.8,363.2Q731,363.5 731.2,364.8Q731.3,366 730.2,366.8Q729,367.7 727.9,366.4ZM752.7,285L817.7,285L818.1,288Q818.5,291 818.1,293.5Q817.7,296 818.9,301Q820.2,306 822.2,310.2Q824.3,314.3 825.2,315.6Q826,316.8 824.3,318.1Q822.7,319.3 821,320.6Q819.3,321.8 817.7,323.1Q816,324.3 814.3,326Q812.7,327.7 810.2,329.3Q807.7,331 805.2,332.2Q802.7,333.5 800.2,334.8Q797.7,336 795.2,337.2Q792.7,338.5 790.2,339.8Q787.7,341 786.4,342.7Q785.2,344.3 785.6,345.6Q786,346.8 788.5,347.2Q791,347.7 793.5,348.1Q796,348.5 796.8,349.8Q797.7,351 796,351.8Q794.3,352.7 791,352.7Q787.7,352.7 785.6,353.5Q783.5,354.3 782.7,356Q781.8,357.7 780.6,356.4Q779.3,355.2 778.9,352.2Q778.5,349.3 778.1,346.8Q777.7,344.3 777.2,342.2Q776.8,340.2 775.6,340.2Q774.3,340.2 773.9,342.2Q773.5,344.3 773.1,346.8Q772.7,349.3 771.8,351Q771,352.7 769.3,353.9Q767.7,355.2 765.2,356Q762.7,356.8 759.3,357.2Q756,357.7 751,357.8Q746,358 745.5,358L745,358L745,289.7L746.3,289.5Q747.7,289.3 749.3,288.5Q751,287.7 751.8,286.3ZM796.8,363.1Q796,361 796.8,358.9Q797.7,356.8 800.2,355.6Q802.7,354.3 806.8,353.9Q811,353.5 811.8,351.8Q812.7,350.2 815.2,349.6Q817.7,349 820.6,349.3Q823.5,349.7 824.3,351.2Q825.2,352.7 823.9,353.7Q822.7,354.7 821,355.3Q819.3,356 819.8,358.1Q820.2,360.2 818.9,362.2Q817.7,364.3 815.2,365.6Q812.7,366.8 810.6,368.1Q808.5,369.3 806.4,370.2Q804.3,371 802.7,369.8Q801,368.5 799.3,366.8Q797.7,365.2 796.8,363.1ZM782.2,362.2Q781.8,359.3 783.1,357.2Q784.3,355.2 786,354.1Q787.7,353 791,352.8Q794.3,352.7 795.6,353.5Q796.8,354.3 796.4,356.8Q796,359.3 796.4,362.2Q796.8,365.2 798.9,367.2Q801,369.3 802.2,370.6Q803.5,371.8 801.4,373.1Q799.3,374.3 796.8,375.2Q794.3,376 791.4,375.6Q788.5,375.2 786.8,373.1Q785.2,371 783.9,368.1Q782.7,365.2 782.2,362.2ZM760.2,371.4Q759.3,370.2 760.6,368.5Q761.8,366.8 764.8,365.8Q767.7,364.7 770.6,364.5Q773.5,364.3 773.9,365.6Q774.3,366.8 772.7,368.5Q771,370.2 768.5,371.2Q766,372.3 763.5,372.5Q761,372.7 760.2,371.4ZM872.7,327.2Q871,326 872.7,324.8Q874.3,323.5 878.5,322.7Q882.7,321.8 883.5,319.3Q884.3,316.8 886.8,314.8Q889.3,312.7 891.8,311.8Q894.3,311 896.8,310.2Q899.3,309.3 900.2,308.5Q901,307.7 900.2,311Q899.3,314.3 898.1,317.7Q896.8,321 896.4,324.3Q896,327.7 895.6,329.2Q895.2,330.7 891.4,330.7Q887.7,330.7 883.5,330.2Q879.3,329.7 876.8,329.1Q874.3,328.5 872.7,327.2ZM883.1,352.7Q883.5,349.3 885.6,348.1Q887.7,346.8 890.2,344.8Q892.7,342.7 894.3,341.8Q896,341 897.7,342.7Q899.3,344.3 899.8,347.7Q900.2,351 898.9,353.5Q897.7,356 895.2,357.7Q892.7,359.3 890.2,361.4Q887.7,363.5 886,362.7Q884.3,361.8 883.5,358.9Q882.7,356 883.1,352.7ZM861.8,375.2Q861,373.5 862.2,372.2Q863.5,371 865.6,370.6Q867.7,370.2 868.5,371.4Q869.3,372.7 868.1,374.3Q866.8,376 864.8,376.4Q862.7,376.8 861.8,375.2ZM817.2,438.2Q817.7,437 818.9,434.5L820.2,432L823.5,437L826,443.7L829.3,450.3L831.8,455.3L833.5,460.3L834.3,467L837.7,479L824.3,479L823.5,476.3Q822.7,473.7 821,472Q819.3,470.3 818.5,467.8Q817.7,465.3 817.2,459.5Q816.8,453.7 817.2,451.2Q817.7,448.7 817.2,446.2Q816.8,443.7 816.8,441.6Q816.8,439.5 817.2,438.2ZM830.2,381L852.7,381L849.3,388.7L842.7,392.8L837.7,396.2L835.2,397.8L833.9,395.8Q832.7,393.7 831.8,391.2Q831,388.7 830.6,384.8Z"/>
</defs>
<path d="M577,189M577,201.7L573.2,201.2Q569.3,200.8 566,201.2Q562.7,201.7 560.2,202.9Q557.7,204.2 557.2,206.2Q556.8,208.3 555.2,210Q553.5,211.7 551.4,211.2Q549.3,210.8 546.8,209.2Q544.3,207.5 541.8,205.4Q539.3,203.3 537.7,201.7Q536,200 533.5,199.2Q531,198.3 527.7,198.8Q524.3,199.2 521.8,200.8Q519.3,202.5 518.1,205.4Q516.8,208.3 516,211.7Q515.2,215 515.2,217.5Q515.2,220 516,222.9Q516.8,225.8 515.2,227.5Q513.5,229.2 512.2,230.8Q511,232.5 511.8,234.6Q512.7,236.7 514.3,238.3Q516,240 515.6,241.7Q515.2,243.3 511.4,244.6Q507.7,245.8 503.5,246.7Q499.3,247.5 496,247.9Q492.7,248.3 492.7,245.8Q492.7,243.3 491.8,240.8Q491,238.3 488.5,236.7Q486,235 482.7,233.8Q479.3,232.5 476,231.7Q472.7,230.8 469.8,229.8Q466.8,228.7 464.6,226Q462.3,223.3 462.5,219.2Q462.7,215 466.4,212.9Q470.2,210.8 473.9,208.8Q477.7,206.7 478.3,202.5Q479,198.3 479,193.7L479,189M464.3,189L463.9,192.8Q463.5,196.7 464.8,198.3Q466,200 464.3,201Q462.7,202 459.3,201.4Q456,200.8 453.5,199.2Q451,197.5 450,195.4Q449,193.3 448.8,191.2L448.5,189M517.7,287L518.1,285.2Q518.5,283.3 517.7,282.1Q516.8,280.8 514.8,281.2Q512.7,281.7 511.4,280.8Q510.2,280 511.4,277.5Q512.7,275 514.3,272.5Q516,270 514.8,267.5Q513.5,265 513.9,262.5Q514.3,260 515.6,257.9Q516.8,255.8 519.8,255Q522.7,254.2 526,254.2Q529.3,254.2 533.5,255Q537.7,255.8 541,256.2Q544.3,256.7 547.7,256.2Q551,255.8 553.5,253.8Q556,251.7 557.7,249.2Q559.3,246.7 560.2,243.8Q561,240.8 569,240.8L577,240.8M577,287M559.3,217.7Q558.5,216.7 560.6,215.7Q562.7,214.7 566,214.7Q569.3,214.7 571.8,215.2Q574.3,215.8 575.7,216.7L577,217.5M577,220L574,220.2Q571,220.3 567.7,220Q564.3,219.7 562.2,219.2Q560.2,218.7 559.3,217.7M575,189M582.7,189L583.1,191.2Q583.5,193.3 586,194.8Q588.5,196.3 591,197.2Q593.5,198 594.8,199.4Q596,200.8 594.3,202.5Q592.7,204.2 589.3,205Q586,205.8 583.5,205.4Q581,205 578.5,204.2Q576,203.3 575.5,203.2L575,203M575,220L577.2,220.2Q579.3,220.5 580.3,221.9Q581.3,223.3 582.4,226.2Q583.5,229.2 584.8,232.1Q586,235 586.8,238.3Q587.7,241.7 588.1,245Q588.5,248.3 588.5,252.1Q588.5,255.8 589.3,257.5Q590.2,259.2 592.2,260Q594.3,260.8 597.7,260.4Q601,260 603.1,261.7Q605.2,263.3 606.4,264.2Q607.7,265 609.8,263.3Q611.8,261.7 613.9,260Q616,258.3 618.1,256.2Q620.2,254.2 619.9,251.7Q619.7,249.2 617.8,247.1Q616,245 613.9,244.2Q611.8,243.3 610.6,242.3Q609.3,241.3 610.6,239.8Q611.8,238.3 613.9,236.7Q616,235 618.1,234.3Q620.2,233.7 621.4,234.3Q622.7,235 624.3,234.6Q626,234.2 628.5,235.2Q631,236.3 634.3,237.2Q637.7,238 640.2,237.2Q642.7,236.3 644.8,235Q646.8,233.7 648.5,230.6Q650.2,227.5 651.4,225Q652.7,222.5 654.3,220Q656,217.5 657.7,215Q659.3,212.5 661,210Q662.7,207.5 661.4,205.8Q660.2,204.2 658.1,201.7Q656,199.2 654.3,196.7Q652.7,194.2 651.4,191.6L650.2,189M656,189L657.7,191.6Q659.3,194.2 661.8,195.8Q664.3,197.5 667.7,198.3Q671,199.2 674.3,200Q677.7,200.8 679.3,202.5Q681,204.2 680.6,206.2Q680.2,208.3 678.1,210Q676,211.7 674.3,214.2Q672.7,216.7 671,219.2Q669.3,221.7 668.1,223.8Q666.8,225.8 666.4,228.8Q666,231.7 666.4,235.8Q666.8,240 663.9,241.2Q661,242.5 657.7,243.3Q654.3,244.2 651.8,246.2Q649.3,248.3 646.8,250.8Q644.3,253.3 642.2,255Q640.2,256.7 639.3,258.8Q638.5,260.8 637.7,262.5Q636.8,264.2 636.2,266.2Q635.7,268.3 636.2,270.4Q636.8,272.5 634.8,273.3Q632.7,274.2 631,275.6Q629.3,277 627.7,277.2Q626,277.5 623.5,276.7Q621,275.8 619.8,277.1Q618.5,278.3 618.9,282.7L619.3,287M575,287M747,189M747,255L744,254.6Q741,254.2 740.6,251.2Q740.2,248.3 738.9,245.8Q737.7,243.3 736,241.7Q734.3,240 733.9,236.7Q733.5,233.3 733.9,230.8Q734.3,228.3 734.8,225.8Q735.2,223.3 732.2,222.9Q729.3,222.5 726,223.3Q722.7,224.2 721.4,222.5Q720.2,220.8 720.6,219.2Q721,217.5 719.3,216.7Q717.7,215.8 718.1,214.6Q718.5,213.3 720.6,212.5Q722.7,211.7 726,212.1Q729.3,212.5 732.7,212.1Q736,211.7 736.4,209.2Q736.8,206.7 737.7,202.5Q738.5,198.3 739.3,193.7L740.2,189M754.8,238.8Q753.5,237.5 754.8,235.8Q756,234.2 758.5,232.5Q761,230.8 764.3,229.2Q767.7,227.5 771,225.4Q774.3,223.3 776.8,221.2Q779.3,219.2 781.8,217.1Q784.3,215 786.4,214.2Q788.5,213.3 789.6,214.2Q790.7,215 790,217.1Q789.3,219.2 787.2,221.2Q785.2,223.3 782.2,225.4Q779.3,227.5 776,229.6Q772.7,231.7 769.3,233.3Q766,235 763.1,236.7Q760.2,238.3 758.1,239.2Q756,240 754.8,238.8M759.3,247.5Q757.7,246.7 760.2,245Q762.7,243.3 766.8,242.1Q771,240.8 775.2,239.6Q779.3,238.3 782.7,236.7Q786,235 788.5,234.3Q791,233.7 792.7,234.8Q794.3,235.8 792.7,237.1Q791,238.3 787.7,239.6Q784.3,240.8 780.2,242.1Q776,243.3 771.8,244.6Q767.7,245.8 764.3,247.1Q761,248.3 759.3,247.5M833.9,274.2Q832.7,271.7 831.8,270Q831,268.3 832.2,266.2Q833.5,264.2 836.4,263.3Q839.3,262.5 841.8,261.7Q844.3,260.8 846,262.1Q847.7,263.3 848.9,265.4Q850.2,267.5 849.8,270Q849.3,272.5 847.2,274.2Q845.2,275.8 842.2,276.7Q839.3,277.5 837.2,277.1Q835.2,276.7 833.9,274.2M878.8,240.8Q878.5,238.3 881.4,237.9Q884.3,237.5 887.7,238.1Q891,238.7 890.6,241.8Q890.2,245 888.1,246.2Q886,247.5 883.5,247.1Q881,246.7 880,245Q879,243.3 878.8,240.8M879.8,230.8Q879.3,227.5 881.8,226.7Q884.3,225.8 887.7,226.1Q891,226.3 893.5,226.9Q896,227.5 899.3,227.5Q902.7,227.5 906.8,227.9Q911,228.3 914,229.2L917,230M917,237.5L913.2,237.5Q909.3,237.5 905.2,237.9Q901,238.3 897.7,237.9Q894.3,237.5 890.2,237.1Q886,236.7 883.1,235.4Q880.2,234.2 879.8,230.8M879.4,233.8Q879.8,231.7 881.5,230.7Q883.2,229.7 886.1,229.4Q889,229.2 891.5,227.9Q894,226.7 899,226.2Q904,225.8 907.3,224.6Q910.7,223.3 913.2,222.5Q915.7,221.7 917.8,218.3Q919.8,215 920.7,213.3Q921.5,211.7 923.2,211.2Q924.8,210.8 925.7,212.9Q926.5,215 926.9,219.2Q927.3,223.3 927.8,227.5Q928.2,231.7 927.8,234.6Q927.3,237.5 926.5,238.8Q925.7,240 923.2,239.2Q920.7,238.3 918.2,238.8Q915.7,239.2 912.3,238.3Q909,237.5 905.7,237.9Q902.3,238.3 899.8,237.9Q897.3,237.5 895.7,238.8Q894,240 891.9,242.5Q889.8,245 887.8,245.8Q885.7,246.7 883.2,245.8Q880.7,245 879.7,242.9Q878.7,240.8 878.8,238.3Q879,235.8 879.4,233.8M928.2,237.5L950.7,237.5L950.7,255.8L925.7,255.8L924,253.3L926.5,246.7L929,241.7L928.2,237.5M577,285M577,344.3L574.8,344.8Q572.7,345.2 570.2,345.6Q567.7,346 564.3,345.2Q561,344.3 557.7,343.9Q554.3,343.5 551,344.3Q547.7,345.2 544.3,346.8Q541,348.5 538.5,350.2Q536,351.8 534.8,353.9Q533.5,356 532.2,359.3Q531,362.7 528.5,365.2Q526,367.7 522.7,369.3Q519.3,371 516,371.8Q512.7,372.7 509.8,371.8Q506.8,371 506.4,368.5Q506,366 505.6,363.5Q505.2,361 504.8,358.5Q504.3,356 505.6,353.5Q506.8,351 508.5,349.3Q510.2,347.7 509.8,345.6Q509.3,343.5 507.7,342.7Q506,341.8 504.3,340.6Q502.7,339.3 503.5,338.1Q504.3,336.8 506,336.4Q507.7,336 508.1,333.9Q508.5,331.8 510.6,330.2Q512.7,328.5 516,327.7Q519.3,326.8 522.7,326.4Q526,326 529.3,325.6Q532.7,325.2 535.6,324.3Q538.5,323.5 538.9,320.6Q539.3,317.7 541.8,316.4Q544.3,315.2 543.9,313.5Q543.5,311.8 541.4,311.4Q539.3,311 536,310.2Q532.7,309.3 530.2,307.2Q527.7,305.2 525.2,303.5Q522.7,301.8 520.2,300.6Q517.7,299.3 518.1,296Q518.5,292.7 518.9,288.8L519.3,285M461.4,315.2Q461,313.5 462.7,311.8Q464.3,310.2 467.7,309.3Q471,308.5 474.3,306.8Q477.7,305.2 479.3,305.6Q481,306 482.7,308.5Q484.3,311 486,312.2Q487.7,313.5 488.5,311.4Q489.3,309.3 490.2,307.2Q491,305.2 493.1,304.3Q495.2,303.5 496,304.8Q496.8,306 495.6,307.7Q494.3,309.3 493.5,311.8Q492.7,314.3 492.2,316.8Q491.8,319.3 490.6,321Q489.3,322.7 486.8,323.7Q484.3,324.7 481,324.3Q477.7,324 474.3,322.9Q471,321.8 468.1,320.6Q465.2,319.3 463.5,318.1Q461.8,316.8 461.4,315.2M494.9,318.5Q495.2,316.8 496.4,316Q497.7,315.2 498.3,316.4Q499,317.7 498.3,319.8Q497.7,321.8 496.7,322.7Q495.7,323.5 495.2,321.8Q494.7,320.2 494.9,318.5M575,285M607.7,285L608.5,286.3Q609.3,287.7 611.8,288.9Q614.3,290.2 616,292.2Q617.7,294.3 618.5,296.4Q619.3,298.5 621.4,298.1Q623.5,297.7 624.8,299.3Q626,301 625.2,303.1Q624.3,305.2 622.2,306.4Q620.2,307.7 618.9,309.3Q617.7,311 618.5,312.7Q619.3,314.3 621.8,314.8Q624.3,315.2 626,316.4Q627.7,317.7 629.3,319.3Q631,321 633.1,322.2Q635.2,323.5 637.2,325.2Q639.3,326.8 641,328.5Q642.7,330.2 643.9,331.6Q645.2,333 648.1,332.8Q651,332.7 654.3,332.5Q657.7,332.3 659.3,333.3Q661,334.3 662.7,336.8Q664.3,339.3 666,341.8Q667.7,344.3 668.9,346.8Q670.2,349.3 669.8,351Q669.3,352.7 666,354.3Q662.7,356 661,360.6Q659.3,365.2 656.8,364.8Q654.3,364.3 651.8,363.1Q649.3,361.8 646.8,361.4Q644.3,361 641.8,360.6Q639.3,360.2 637.2,358.9Q635.2,357.7 634.3,356Q633.5,354.3 635.2,353.1Q636.8,351.8 638.9,350.2Q641,348.5 642.2,346.4Q643.5,344.3 643.1,342.2Q642.7,340.2 640.2,339.8Q637.7,339.3 634.3,339.5Q631,339.7 630.2,341.2Q629.3,342.7 626.8,343.5Q624.3,344.3 621.8,343.9Q619.3,343.5 617.7,343.1Q616,342.7 604.3,341.4Q592.7,340.2 590.2,341.8Q587.7,343.5 585.2,343.1Q582.7,342.7 579.3,343.1Q576,343.5 575.5,343.5L575,343.5M710.2,302.7Q711,301 712.7,300.6Q714.3,300.2 716,301.4Q717.7,302.7 719.3,303.5Q721,304.3 723.5,303.9Q726,303.5 728.9,303.1Q731.8,302.7 733.1,300.6Q734.3,298.5 735.6,296.4Q736.8,294.3 738.9,292.7Q741,291 744,290.2L747,289.3M747,352.7L744,351.4Q741,350.2 737.7,350.6Q734.3,351 731.8,351.8Q729.3,352.7 727.2,354.3Q725.2,356 723.9,357.7Q722.7,359.3 720.2,358.9Q717.7,358.5 714.3,358.9Q711,359.3 708.5,359.8Q706,360.2 703.9,359.8Q701.8,359.3 700.6,357.7Q699.3,356 698.9,353.1Q698.5,350.2 699.8,347.7Q701,345.2 703.5,343.9Q706,342.7 707.7,341.4Q709.3,340.2 708.9,337.2Q708.5,334.3 708.1,331Q707.7,327.7 708.5,324.8Q709.3,321.8 710.2,318.9Q711,316 710.6,312.7Q710.2,309.3 709.8,306.8Q709.3,304.3 710.2,302.7M727.9,366.4Q726.8,365.2 727.7,364.1Q728.5,363 729.8,363.2Q731,363.5 731.2,364.8Q731.3,366 730.2,366.8Q729,367.7 727.9,366.4M752.7,285M817.7,285L818.1,288Q818.5,291 818.1,293.5Q817.7,296 818.9,301Q820.2,306 822.2,310.2Q824.3,314.3 825.2,315.6Q826,316.8 824.3,318.1Q822.7,319.3 821,320.6Q819.3,321.8 817.7,323.1Q816,324.3 814.3,326Q812.7,327.7 810.2,329.3Q807.7,331 805.2,332.2Q802.7,333.5 800.2,334.8Q797.7,336 795.2,337.2Q792.7,338.5 790.2,339.8Q787.7,341 786.4,342.7Q785.2,344.3 785.6,345.6Q786,346.8 788.5,347.2Q791,347.7 793.5,348.1Q796,348.5 796.8,349.8Q797.7,351 796,351.8Q794.3,352.7 791,352.7Q787.7,352.7 785.6,353.5Q783.5,354.3 782.7,356Q781.8,357.7 780.6,356.4Q779.3,355.2 778.9,352.2Q778.5,349.3 778.1,346.8Q777.7,344.3 777.2,342.2Q776.8,340.2 775.6,340.2Q774.3,340.2 773.9,342.2Q773.5,344.3 773.1,346.8Q772.7,349.3 771.8,351Q771,352.7 769.3,353.9Q767.7,355.2 765.2,356Q762.7,356.8 759.3,357.2Q756,357.7 751,357.8Q746,358 745.5,358L745,358M745,289.7L746.3,289.5Q747.7,289.3 749.3,288.5Q751,287.7 751.8,286.3L752.7,285M796.8,363.1Q796,361 796.8,358.9Q797.7,356.8 800.2,355.6Q802.7,354.3 806.8,353.9Q811,353.5 811.8,351.8Q812.7,350.2 815.2,349.6Q817.7,349 820.6,349.3Q823.5,349.7 824.3,351.2Q825.2,352.7 823.9,353.7Q822.7,354.7 821,355.3Q819.3,356 819.8,358.1Q820.2,360.2 818.9,362.2Q817.7,364.3 815.2,365.6Q812.7,366.8 810.6,368.1Q808.5,369.3 806.4,370.2Q804.3,371 802.7,369.8Q801,368.5 799.3,366.8Q797.7,365.2 796.8,363.1M782.2,362.2Q781.8,359.3 783.1,357.2Q784.3,355.2 786,354.1Q787.7,353 791,352.8Q794.3,352.7 795.6,353.5Q796.8,354.3 796.4,356.8Q796,359.3 796.4,362.2Q796.8,365.2 798.9,367.2Q801,369.3 802.2,370.6Q803.5,371.8 801.4,373.1Q799.3,374.3 796.8,375.2Q794.3,376 791.4,375.6Q788.5,375.2 786.8,373.1Q785.2,371 783.9,368.1Q782.7,365.2 782.2,362.2M760.2,371.4Q759.3,370.2 760.6,368.5Q761.8,366.8 764.8,365.8Q767.7,364.7 770.6,364.5Q773.5,364.3 773.9,365.6Q774.3,366.8 772.7,368.5Q771,370.2 768.5,371.2Q766,372.3 763.5,372.5Q761,372.7 760.2,371.4M872.7,327.2Q871,326 872.7,324.8Q874.3,323.5 878.5,322.7Q882.7,321.8 883.5,319.3Q884.3,316.8 886.8,314.8Q889.3,312.7 891.8,311.8Q894.3,311 896.8,310.2Q899.3,309.3 900.2,308.5Q901,307.7 900.2,311Q899.3,314.3 898.1,317.7Q896.8,321 896.4,324.3Q896,327.7 895.6,329.2Q895.2,330.7 891.4,330.7Q887.7,330.7 883.5,330.2Q879.3,329.7 876.8,329.1Q874.3,328.5 872.7,327.2M883.1,352.7Q883.5,349.3 885.6,348.1Q887.7,346.8 890.2,344.8Q892.7,342.7 894.3,341.8Q896,341 897.7,342.7Q899.3,344.3 899.8,347.7Q900.2,351 898.9,353.5Q897.7,356 895.2,357.7Q892.7,359.3 890.2,361.4Q887.7,363.5 886,362.7Q884.3,361.8 883.5,358.9Q882.7,356 883.1,352.7M861.8,375.2Q861,373.5 862.2,372.2Q863.5,371 865.6,370.6Q867.7,370.2 868.5,371.4Q869.3,372.7 868.1,374.3Q866.8,376 864.8,376.4Q862.7,376.8 861.8,375.2M817.2,438.2Q817.7,437 818.9,434.5L820.2,432M823.5,437M826,443.7M829.3,450.3M831.8,455.3M833.5,460.3M834.3,467M837.7,479M824.3,479L823.5,476.3Q822.7,473.7 821,472Q819.3,470.3 818.5,467.8Q817.7,465.3 817.2,459.5Q816.8,453.7 817.2,451.2Q817.7,448.7 817.2,446.2Q816.8,443.7 816.8,441.6Q816.8,439.5 817.2,438.2M830.2,381M852.7,381M849.3,388.7M842.7,392.8M837.7,396.2M835.2,397.8L833.9,395.8Q832.7,393.7 831.8,391.2Q831,388.7 830.6,384.8L830.2,381" fill="none" stroke="#1a1a1a" stroke-width="2.9" stroke-linecap="round"/>
<use href="#p2" fill="url(#dots)"/>
<clipPath id="cp2"><use href="#p2"/></clipPath>
<use href="#borders" clip-path="url(#cp2)"/>
<defs>
<path id="p3" d="M496.4,237.5Q495.2,235.8 496,234.2Q496.8,232.5 498.5,231.7Q500.2,230.8 502.2,231.7Q504.3,232.5 505.6,234.2Q506.8,235.8 506.4,237.5Q506,239.2 503.9,239.6Q501.8,240 499.8,239.6Q497.7,239.2 496.4,237.5ZM596.7,284.8Q595.7,282.5 595.4,280.4Q595.2,278.3 596,276.2Q596.8,274.2 598.9,273.3Q601,272.5 603.1,273.3Q605.2,274.2 607.2,275Q609.3,275.8 611.8,276.2Q614.3,276.7 615.6,278.3Q616.8,280 615.6,282.3Q614.3,284.7 613.1,285.8L611.8,287L597.7,287L596.7,284.8ZM604.8,336.4Q604.3,335.2 605.6,333.5Q606.8,331.8 610.6,331Q614.3,330.2 617.7,329.9Q621,329.7 621.8,330.8Q622.7,331.8 621.4,333.5Q620.2,335.2 618.1,336.4Q616,337.7 612.7,338.1Q609.3,338.5 607.2,338.1Q605.2,337.7 604.8,336.4ZM751.4,294.6Q751,293.5 752.2,292.1Q753.5,290.7 755.6,290.2Q757.7,289.7 759.2,290.8Q760.7,291.8 760,293.2Q759.3,294.7 757.2,295.5Q755.2,296.3 753.5,296Q751.8,295.7 751.4,294.6ZM808.1,365.2Q806.8,364.3 808.1,362.7Q809.3,361 811.4,360Q813.5,359 815.2,359.2Q816.8,359.3 816.4,360.6Q816,361.8 814.3,363.1Q812.7,364.3 811,365.2Q809.3,366 808.1,365.2Z"/>
</defs>
<path d="M496.4,237.5Q495.2,235.8 496,234.2Q496.8,232.5 498.5,231.7Q500.2,230.8 502.2,231.7Q504.3,232.5 505.6,234.2Q506.8,235.8 506.4,237.5Q506,239.2 503.9,239.6Q501.8,240 499.8,239.6Q497.7,239.2 496.4,237.5M596.7,284.8Q595.7,282.5 595.4,280.4Q595.2,278.3 596,276.2Q596.8,274.2 598.9,273.3Q601,272.5 603.1,273.3Q605.2,274.2 607.2,275Q609.3,275.8 611.8,276.2Q614.3,276.7 615.6,278.3Q616.8,280 615.6,282.3Q614.3,284.7 613.1,285.8L611.8,287M597.7,287L596.7,284.8M604.8,336.4Q604.3,335.2 605.6,333.5Q606.8,331.8 610.6,331Q614.3,330.2 617.7,329.9Q621,329.7 621.8,330.8Q622.7,331.8 621.4,333.5Q620.2,335.2 618.1,336.4Q616,337.7 612.7,338.1Q609.3,338.5 607.2,338.1Q605.2,337.7 604.8,336.4M751.4,294.6Q751,293.5 752.2,292.1Q753.5,290.7 755.6,290.2Q757.7,289.7 759.2,290.8Q760.7,291.8 760,293.2Q759.3,294.7 757.2,295.5Q755.2,296.3 753.5,296Q751.8,295.7 751.4,294.6M808.1,365.2Q806.8,364.3 808.1,362.7Q809.3,361 811.4,360Q813.5,359 815.2,359.2Q816.8,359.3 816.4,360.6Q816,361.8 814.3,363.1Q812.7,364.3 811,365.2Q809.3,366 808.1,365.2" fill="none" stroke="#1a1a1a" stroke-width="2.9" stroke-linecap="round"/>
<use href="#p3" fill="#ffffd4"/>
<defs>
<path id="p4" d="M246,93L407,93L407,191L382.7,191L383.9,187.9Q385.2,184.8 385.6,182.3Q386,179.8 384.3,178.2Q382.7,176.5 378.5,176.1Q374.3,175.7 369.3,176.1Q364.3,176.5 360.2,177.3Q356,178.2 354.3,180.2Q352.7,182.3 351.8,186.7L351,191L334.3,191L328.5,190.4Q322.7,189.8 316.8,189Q311,188.2 308.5,186.5Q306,184.8 304.3,182.8Q302.7,180.7 303.5,179Q304.3,177.3 303.9,174.8Q303.5,172.3 302.7,169Q301.8,165.7 300.6,164.2Q299.3,162.7 296.8,162.7Q294.3,162.7 293.1,164.2Q291.8,165.7 291.4,170.7Q291,175.7 289.3,179.8Q287.7,184 285.8,187.5L284,191L256.8,191L257.1,186.7Q257.3,182.3 257.1,178.2Q256.8,174 257.2,169Q257.7,164 258.1,161.1Q258.5,158.2 258.1,154.4Q257.7,150.7 257.2,147.3Q256.8,144 257.1,139Q257.3,134 255.8,130.2Q254.3,126.5 253.1,123.6Q251.8,120.7 248.9,119L246,117.3ZM405,93L506.8,93L507.2,101Q507.7,109 508.5,111.9Q509.3,114.8 508.1,118.6Q506.8,122.3 503.9,125.2Q501,128.2 496.8,129.2Q492.7,130.2 489.3,130.2Q486,130.2 481.8,130Q477.7,129.8 473.5,130.7Q469.3,131.5 465.2,132.6Q461,133.7 454.3,135.1Q447.7,136.5 438.5,138.2Q429.3,139.8 426,141.9Q422.7,144 419.3,146.5Q416,149 412.7,151.9Q409.3,154.8 407.7,156.5Q406,158.2 406.4,160.2Q406.8,162.3 408.1,164Q409.3,165.7 411.8,168.6Q414.3,171.5 415.2,173.6Q416,175.7 419.3,176.9Q422.7,178.2 426,179.4Q429.3,180.7 431.8,182.3Q434.3,184 435.6,187.5L436.8,191L405,191ZM468,191L468.5,189.8Q469,188.7 470.4,188.4Q471.8,188.2 473.1,189Q474.3,189.8 474.5,190.4L474.7,191ZM661.8,102.3L689.3,102.3L691.8,120.7L692.7,122.8Q693.5,124.8 694.6,127.3L695.7,129.8L694.2,133.2Q692.7,136.5 688.5,139.8Q684.3,143.2 681.8,145.4L679.3,147.7L682.7,148.7L691,147L691.8,148Q692.7,149 694.3,151.5L696,154L696,189L694.3,187.3Q692.7,185.7 690.2,183.2Q687.7,180.7 686,178.6Q684.3,176.5 681.8,176.9Q679.3,177.3 676.8,176.5Q674.3,175.7 671.8,174Q669.3,172.3 667.7,169.8Q666,167.3 664.8,164.8Q663.5,162.3 659.8,161.5Q656,160.7 651,159Q646,157.3 641.8,155.7Q637.7,154 634.8,153.2Q631.8,152.3 629.3,150.7Q626.8,149 626.4,146.5Q626,144 627.7,141.9Q629.3,139.8 631.8,136.9Q634.3,134 636.8,131.9Q639.3,129.8 642.7,128.6Q646,127.3 649.3,126.1Q652.7,124.8 654.3,122.8Q656,120.7 657.7,118.2Q659.3,115.7 660.6,113.2L661.8,110.7ZM773.5,191L774.3,189.2Q775.2,187.3 776.8,186.1Q778.5,184.8 780.6,185.1Q782.7,185.3 784.3,186.8Q786,188.2 786.4,189.6L786.8,191ZM895.7,191L899,188.2Q902.3,185.3 905.7,183.8Q909,182.3 908.2,184.4Q907.3,186.5 906.1,188.8L904.8,191ZM284,189L282.5,192.8Q281,196.7 280.2,199.2Q279.3,201.7 277.7,203.8Q276,205.8 273.5,207.1Q271,208.3 268.5,207.9Q266,207.5 263.5,206.2Q261,205 258.9,203.3Q256.8,201.7 256,199.2Q255.2,196.7 256,192.8L256.8,189ZM351,189L350.2,190.2Q349.3,191.3 346.8,191.7Q344.3,192 341,191.7Q337.7,191.3 336,190.2L334.3,189ZM407,189L407,287L356,287L356.8,284.3Q357.7,281.7 358.5,279.2Q359.3,276.7 360.2,275Q361,273.3 362.7,271.7Q364.3,270 366,267.5Q367.7,265 369.3,262.5Q371,260 372.2,257.9Q373.5,255.8 373.5,252.9Q373.5,250 372.2,247.5Q371,245 369.3,242.5Q367.7,240 366,236.7Q364.3,233.3 363.1,230Q361.8,226.7 361.4,223.3Q361,220 362.7,217.5Q364.3,215 366.8,212.1Q369.3,209.2 372.7,205.4Q376,201.7 378.5,198.3Q381,195 381.8,192L382.7,189ZM519.3,221.7Q519.3,220 521,219.3Q522.7,218.7 525.2,219.8Q527.7,220.8 529.3,223.3Q531,225.8 532.7,228.3Q534.3,230.8 536.8,231.2Q539.3,231.7 541.8,232.1Q544.3,232.5 547.7,233.8Q551,235 553.5,235.8Q556,236.7 558.5,237.1Q561,237.5 560.2,239.6Q559.3,241.7 558.1,244.2Q556.8,246.7 556.4,248.8Q556,250.8 553.5,251.2Q551,251.7 547.7,252.1Q544.3,252.5 541,252.1Q537.7,251.7 534.3,251.2Q531,250.8 528.5,251.7Q526,252.5 523.9,251.7Q521.8,250.8 520.6,248.8Q519.3,246.7 520.2,243.3Q521,240 521.8,236.7Q522.7,233.3 522.2,230.4Q521.8,227.5 520.6,225.4Q519.3,223.3 519.3,221.7ZM476.8,189L476.8,192Q476.8,195 475.6,196.2Q474.3,197.5 472.2,197.5Q470.2,197.5 469.1,195.8Q468,194.2 467.8,191.6L467.7,189ZM405,189L438.5,189L438.9,192Q439.3,195 440.6,198.3Q441.8,201.7 443.5,205Q445.2,208.3 447.2,210Q449.3,211.7 451.4,214.2Q453.5,216.7 454.8,219.2Q456,221.7 457.7,223.8Q459.3,225.8 461.4,227.9Q463.5,230 466.4,232.1Q469.3,234.2 472.7,235.8Q476,237.5 479.3,238.8Q482.7,240 485.2,241.2Q487.7,242.5 489.3,245Q491,247.5 490.6,250.4Q490.2,253.3 491.4,256.7Q492.7,260 493.9,262.5Q495.2,265 496,267.5Q496.8,270 496.4,273.3Q496,276.7 496.4,279.2Q496.8,281.7 496.4,284.3L496,287L405,287ZM599.3,278.8Q598.5,276.7 599.3,275Q600.2,273.3 601.4,273.8Q602.7,274.2 602.5,276.2Q602.3,278.3 601.2,279.6Q600.2,280.8 599.3,278.8ZM605.4,282.9Q605.2,281.7 607.2,280.8Q609.3,280 611.4,280.4Q613.5,280.8 613.1,282.1Q612.7,283.3 610.6,284.2Q608.5,285 607.1,284.6Q605.7,284.2 605.4,282.9ZM583.1,221.7Q582.7,220 584.3,218.8Q586,217.5 588.5,218.3Q591,219.2 593.5,220Q596,220.8 597.7,217.9Q599.3,215 600.2,211.7Q601,208.3 603.5,207.1Q606,205.8 608.5,204.6Q611,203.3 613.9,203.2Q616.8,203 619.3,204Q621.8,205 622.7,206.7Q623.5,208.3 623.1,211.2Q622.7,214.2 621.8,217.1Q621,220 620.2,223.3Q619.3,226.7 618.5,229.6Q617.7,232.5 615.2,233.1Q612.7,233.7 609.3,233.3Q606,233 602.7,231.9Q599.3,230.8 596,229.6Q592.7,228.3 590.2,227.1Q587.7,225.8 585.6,224.6Q583.5,223.3 583.1,221.7ZM630.2,225.4Q628.5,223.3 629.3,221.7Q630.2,220 632.7,219.3Q635.2,218.7 637.2,219.3Q639.3,220 640,222.1Q640.7,224.2 639.2,225.6Q637.7,227 634.8,227.2Q631.8,227.5 630.2,225.4ZM596,255.4Q594.3,254.2 595.2,251.2Q596,248.3 597.7,246.2Q599.3,244.2 601.4,242.9Q603.5,241.7 605.6,241.8Q607.7,242 608.1,243.9Q608.5,245.8 607.2,248.8Q606,251.7 604.3,253.8Q602.7,255.8 600.2,256.2Q597.7,256.7 596,255.4ZM675.6,232.5Q675.2,230 675.6,227.5Q676,225 678.1,223.8Q680.2,222.5 683.1,222.5Q686,222.5 688.1,224.2Q690.2,225.8 690.6,228.8Q691,231.7 690.6,235Q690.2,238.3 691,240.8Q691.8,243.3 693.1,244.6Q694.3,245.8 694.8,242.9Q695.2,240 696,236.7Q696.8,233.3 698.1,230Q699.3,226.7 698.9,223.8Q698.5,220.8 699.8,217.9Q701,215 702.2,212.1Q703.5,209.2 705.2,208.3Q706.8,207.5 708.1,208.3Q709.3,209.2 710.2,212.1Q711,215 711.8,217.9Q712.7,220.8 713.9,223.3Q715.2,225.8 717.2,228.3Q719.3,230.8 721.8,232.5Q724.3,234.2 726.8,233.8Q729.3,233.3 731.4,232.1Q733.5,230.8 733.1,233.8Q732.7,236.7 731,237.9Q729.3,239.2 726,239.6Q722.7,240 724.3,241.7Q726,243.3 728.9,243.8Q731.8,244.2 733.1,246.2Q734.3,248.3 733.5,250.8Q732.7,253.3 733.5,256.7Q734.3,260 735.2,263.3Q736,266.7 737.7,269.2Q739.3,271.7 743.2,272.5L747,273.3L747,287L666,287L665.2,283.5Q664.3,280 664.3,276.7Q664.3,273.3 665.6,270.8Q666.8,268.3 669.8,267.1Q672.7,265.8 675.2,265.8Q677.7,265.8 679.3,267.1Q681,268.3 682.7,266.2Q684.3,264.2 683.5,262.1Q682.7,260 679.3,259.6Q676,259.2 674.8,257.1Q673.5,255 673.9,251.7Q674.3,248.3 675.6,245Q676.8,241.7 676.4,238.3Q676,235 675.6,232.5ZM740.2,189L739.3,193.7Q738.5,198.3 737.7,202.1Q736.8,205.8 734.8,206.2Q732.7,206.7 729.8,205.8Q726.8,205 724.3,202.9Q721.8,200.8 720.2,197.9Q718.5,195 718.1,192L717.7,189ZM621,287L621.8,285.2Q622.7,283.3 625.2,282.5Q627.7,281.7 630.2,282.1Q632.7,282.5 634.8,281.2Q636.8,280 638.5,278.3Q640.2,276.7 643.1,275Q646,273.3 646.8,271.7Q647.7,270 650.2,270Q652.7,270 654.3,271.2Q656,272.5 655.6,274.6Q655.2,276.7 653.1,277.9Q651,279.2 650.2,280.8Q649.3,282.5 651.8,283.3Q654.3,284.2 656.8,285.6L659.3,287ZM753.2,201.2Q753.5,199.2 756.4,197.9Q759.3,196.7 763.5,195.4Q767.7,194.2 771.8,192.5Q776,190.8 778.9,189.9L781.8,189L789.3,189L788.5,192Q787.7,195 786,197.5Q784.3,200 783.1,201.2Q781.8,202.5 782.7,203.8Q783.5,205 785.6,203.3Q787.7,201.7 789.8,199.2Q791.8,196.7 793.5,196.2Q795.2,195.8 794.8,197.9Q794.3,200 791.8,202.5Q789.3,205 787.7,207.1Q786,209.2 783.9,210.4Q781.8,211.7 778.9,213.3Q776,215 772.7,216.7Q769.3,218.3 766,220Q762.7,221.7 760.6,222.9Q758.5,224.2 757.4,222.1Q756.3,220 757,216.7Q757.7,213.3 756.4,210.8Q755.2,208.3 754.1,205.8Q753,203.3 753.2,201.2ZM755.6,231.2Q756,228.3 759.3,227.1Q762.7,225.8 766,224.6Q769.3,223.3 772.7,222.5Q776,221.7 778.5,220Q781,218.3 779.3,220.8Q777.7,223.3 774.3,225.4Q771,227.5 767.7,229.2Q764.3,230.8 761.4,232.1Q758.5,233.3 756.8,233.8Q755.2,234.2 755.6,231.2ZM759.8,245.4Q759.3,244.2 763.5,242.1Q767.7,240 772.7,238.3Q777.7,236.7 782.7,234.2Q787.7,231.7 791.8,228.8Q796,225.8 799.3,222.9Q802.7,220 804.2,218.3Q805.7,216.7 806,220Q806.3,223.3 805.3,225.4Q804.3,227.5 802.2,229.6Q800.2,231.7 797.2,233.3Q794.3,235 790.2,237.1Q786,239.2 781,240.8Q776,242.5 771,244.2Q766,245.8 763.1,246.2Q760.2,246.7 759.8,245.4ZM745.5,256.7Q746,256.7 749.3,255.7Q752.7,254.7 756,253.8Q759.3,253 764.3,252.3Q769.3,251.7 774.3,249.6Q779.3,247.5 783.5,245.2Q787.7,243 791,241.5Q794.3,240 797.7,240.8Q801,241.7 802.7,243.3Q804.3,245 804.7,247.5Q805,250 801.8,251.5Q798.7,253 795.6,255.2Q792.5,257.5 790,259.8Q787.5,262 785,264.3Q782.5,266.7 779.3,269Q776.2,271.3 773.1,273Q770,274.7 766.3,276.1Q762.7,277.5 758.5,278.8Q754.3,280 750.2,281.2Q746,282.5 745.5,282.5L745,282.5L745,256.7L745.5,256.7ZM843.5,249.2Q841,247.5 840.2,245.4Q839.3,243.3 841.8,242.5Q844.3,241.7 846.8,240.8Q849.3,240 851,238.3Q852.7,236.7 854.3,234.2Q856,231.7 857.7,228.3Q859.3,225 860.2,222.1Q861,219.2 861.8,217.1Q862.7,215 865.2,214.2Q867.7,213.3 871,213.8Q874.3,214.2 877.7,214.6Q881,215 883.5,214.2Q886,213.3 887.7,212.5Q889.3,211.7 891,212.5Q892.7,213.3 891.8,215.8Q891,218.3 889.3,220.4Q887.7,222.5 885.2,224.2Q882.7,225.8 880.2,227.5Q877.7,229.2 876,231.2Q874.3,233.3 872.2,235Q870.2,236.7 868.1,238.3Q866,240 864.3,240.8Q862.7,241.7 860.2,242.5Q857.7,243.3 855.2,244.2Q852.7,245 851,247.1Q849.3,249.2 847.7,250Q846,250.8 843.5,249.2ZM889.8,201.2Q888.5,201.7 889.8,199.2Q891,196.7 893.5,194.2Q896,191.7 898.5,190.3L901,189L909.3,189L907.7,191.2Q906,193.3 903.5,195Q901,196.7 898.5,197.9Q896,199.2 893.5,200Q891,200.8 889.8,201.2ZM901.7,202.9Q902.7,200 906,199.6Q909.3,199.2 913.2,198.8L917,198.3L917,222.5L914.8,222.5Q912.7,222.5 910.2,221.7Q907.7,220.8 905.6,219.2Q903.5,217.5 902.2,214.6Q901,211.7 900.8,208.8Q900.7,205.8 901.7,202.9ZM886.4,258.3Q886,256.7 888.5,255.4Q891,254.2 894.3,252.9Q897.7,251.7 901,250.4Q904.3,249.2 907.7,248.3Q911,247.5 914,247.5L917,247.5L917,270L914.8,270.4Q912.7,270.8 911.4,273.8Q910.2,276.7 908.1,278.8Q906,280.8 903.5,281.2Q901,281.7 898.9,280Q896.8,278.3 895.6,275.8Q894.3,273.3 893.5,270Q892.7,266.7 891.8,264.2Q891,261.7 888.9,260.8Q886.8,260 886.4,258.3ZM844.3,287L845.2,284.8Q846,282.5 848.1,280.4Q850.2,278.3 853.1,277.5Q856,276.7 859.3,277.5Q862.7,278.3 866.8,278.2Q871,278 874.3,279.4Q877.7,280.8 878.5,283.9L879.3,287ZM853,215L856.8,214.2Q860.7,213.3 864,213.3Q867.3,213.3 870.7,214.2Q874,215 877.3,216.2Q880.7,217.5 883.6,218.3Q886.5,219.2 886.1,221.2Q885.7,223.3 883.2,225.4Q880.7,227.5 878.2,229.6Q875.7,231.7 874,234.2Q872.3,236.7 870.7,238.8Q869,240.8 865.7,241.7Q862.3,242.5 859,243.3Q855.7,244.2 854.3,244.6L853,245ZM892.3,198.3Q889.8,197.5 891.9,195.4Q894,193.3 896.5,191.2L899,189L907.3,189L906.5,191.2Q905.7,193.3 903.2,195Q900.7,196.7 897.8,197.9Q894.8,199.2 892.3,198.3ZM901.5,205.8Q901.5,203.3 905.2,201.7Q909,200 912.3,199.2Q915.7,198.3 918.2,196.7Q920.7,195 922.3,195.8Q924,196.7 924.4,199.2Q924.8,201.7 922.8,203.3Q920.7,205 919,206.7Q917.3,208.3 916.9,211.7Q916.5,215 916.9,217.5Q917.3,220 915.7,221.2Q914,222.5 912.3,221.7Q910.7,220.8 907.3,217.1Q904,213.3 902.8,210.8Q901.5,208.3 901.5,205.8ZM937.8,227.9Q936.5,225.8 938.6,225Q940.7,224.2 944,224.6Q947.3,225 949.8,225.4Q952.3,225.8 953.2,227.9Q954,230 951.9,231.2Q949.8,232.5 946.9,232.5Q944,232.5 941.5,231.2Q939,230 937.8,227.9ZM942,189L942,211.7L964.8,216.3L963.6,217.5Q962.3,218.7 959,217.8Q955.7,217 951.5,216Q947.3,215 943.6,213.3Q939.8,211.7 939.8,200.3L939.8,189ZM886.5,260.4Q885.7,258.3 889,256.2Q892.3,254.2 896.5,252.5Q900.7,250.8 904.8,249.2Q909,247.5 912.3,247.1Q915.7,246.7 916.5,249.2Q917.3,251.7 916.9,255Q916.5,258.3 915.2,261.7Q914,265 912.3,267.5Q910.7,270 909,272.5Q907.3,275 904.8,277.5Q902.3,280 899.8,280.8Q897.3,281.7 896.1,279.2Q894.8,276.7 894,273.3Q893.2,270 892.3,267.1Q891.5,264.2 889.4,263.3Q887.3,262.5 886.5,260.4ZM853,276.7L856.8,277.1Q860.7,277.5 864.8,277.1Q869,276.7 872.3,278.3Q875.7,280 877.3,283.5L879,287L853,287ZM407,285L407,383L374.3,383L372.7,378.7Q371,374.3 369.3,371Q367.7,367.7 366,364.3Q364.3,361 361.8,357.7Q359.3,354.3 356,350.6Q352.7,346.8 349.3,343.1Q346,339.3 343.1,336Q340.2,332.7 338.1,329.3Q336,326 335.2,322.7Q334.3,319.3 333.9,315.2Q333.5,311 332.9,306.8Q332.3,302.7 331.8,298.5Q331.3,294.3 332,289.7L332.7,285ZM329.3,380.3Q328.5,377.7 331.4,376Q334.3,374.3 336.8,373.1Q339.3,371.8 341.8,371Q344.3,370.2 346,371Q347.7,371.8 350.2,372.2Q352.7,372.7 354.8,374.8Q356.8,376.8 358.5,379.9L360.2,383L330.2,383L329.3,380.3ZM405,285L440.2,285L441,288.8Q441.8,292.7 442.7,296Q443.5,299.3 444.8,301.8Q446,304.3 444.8,306Q443.5,307.7 440.6,308.5Q437.7,309.3 434.3,309.3Q431,309.3 429.3,310.2Q427.7,311 427.8,313.1Q428,315.2 429.5,316.8Q431,318.5 435.2,320.2Q439.3,321.8 443.5,322.7Q447.7,323.5 451.8,324.3Q456,325.2 460.2,325.6Q464.3,326 467.7,325.6Q471,325.2 474.3,325.6Q477.7,326 481,326.4Q484.3,326.8 487.2,327.2Q490.2,327.7 492.2,328.9Q494.3,330.2 496,332.2Q497.7,334.3 497.5,336.8Q497.3,339.3 495.8,340.6Q494.3,341.8 493.1,343.9Q491.8,346 492.2,348.5Q492.7,351 493.9,353.1Q495.2,355.2 496,357.2Q496.8,359.3 497.7,361.8Q498.5,364.3 498.9,369.3Q499.3,374.3 500.6,375.6Q501.8,376.8 505.6,377.1Q509.3,377.3 513.5,377.1Q517.7,376.8 520.2,378.1Q522.7,379.3 524.3,381.2L526,383L405,383ZM486,285L484.8,289.2Q483.5,293.5 481.4,296.4Q479.3,299.3 476.8,301.8Q474.3,304.3 471.8,306Q469.3,307.7 467.2,306.4Q465.2,305.2 463.5,302.7Q461.8,300.2 460.6,297.2Q459.3,294.3 458.5,291.8Q457.7,289.3 456.4,289.8Q455.2,290.2 454.8,293.1Q454.3,296 453.5,299.3Q452.7,302.7 451,304.3Q449.3,306 447.7,305.2Q446,304.3 444.8,301.8Q443.5,299.3 442.7,296Q441.8,292.7 441,288.8L440.2,285ZM497.2,312.7Q496.8,311 498.1,309.3Q499.3,307.7 501.8,308.1Q504.3,308.5 506,310.2Q507.7,311.8 508.1,313.9Q508.5,316 506.8,316.8Q505.2,317.7 503.1,317.2Q501,316.8 499.3,315.6Q497.7,314.3 497.2,312.7ZM515.2,303.7Q514.3,302.7 515.6,301.8Q516.8,301 518.9,301.2Q521,301.3 521.8,302.4Q522.7,303.5 524.8,304.3Q526.8,305.2 528.1,306Q529.3,306.8 528.1,307.7Q526.8,308.5 524.8,308.1Q522.7,307.7 521,306.4Q519.3,305.2 517.7,304.9Q516,304.7 515.2,303.7ZM538.5,363.1Q537.7,361 537.2,358.5Q536.8,356 538.1,354.3Q539.3,352.7 541.8,352.2Q544.3,351.8 546,353.1Q547.7,354.3 550.2,355.2Q552.7,356 554.8,355.2Q556.8,354.3 557.2,352.2Q557.7,350.2 559.8,349.8Q561.8,349.3 563.9,350.2Q566,351 568.5,351.7Q571,352.3 574,352.1L577,351.8L577,383L559.3,383L558.1,380.8Q556.8,378.5 554.8,375.6Q552.7,372.7 551,370.6Q549.3,368.5 546.8,367.2Q544.3,366 541.8,365.6Q539.3,365.2 538.5,363.1ZM607.7,337Q606.8,336 608.1,335.2Q609.3,334.3 611.4,334.5Q613.5,334.7 614.1,335.8Q614.7,336.8 613.2,337.4Q611.8,338 610.2,338Q608.5,338 607.7,337ZM633.6,344.6Q633.2,343.5 633.8,342.5Q634.3,341.5 635.3,341.7Q636.3,341.8 636.8,342.9Q637.3,344 636.7,345Q636,346 635,345.8Q634,345.7 633.6,344.6ZM741,285L740.2,286.8Q739.3,288.5 737.7,290.6Q736,292.7 734.3,294.8Q732.7,296.8 730.2,298.1Q727.7,299.3 725.2,298.1Q722.7,296.8 721.8,294.8Q721,292.7 719.3,291.8Q717.7,291 716,292.2Q714.3,293.5 713.5,295.6Q712.7,297.7 711,298.9Q709.3,300.2 706,300.6Q702.7,301 700.2,301.4Q697.7,301.8 698.1,303.9Q698.5,306 700.6,308.5Q702.7,311 702.2,313.5Q701.8,316 702.7,318.5Q703.5,321 703.1,323.1Q702.7,325.2 701,326.4Q699.3,327.7 698.1,329.3Q696.8,331 698.1,332.7Q699.3,334.3 699.8,336.8Q700.2,339.3 699.8,342.7Q699.3,346 698.5,349.3Q697.7,352.7 696.4,356Q695.2,359.3 694.8,361.8Q694.3,364.3 695.6,366.8Q696.8,369.3 698.9,368.5Q701,367.7 703.1,366.4Q705.2,365.2 707.2,364.3Q709.3,363.5 711.8,363.9Q714.3,364.3 716.8,365.2Q719.3,366 720.6,367.7Q721.8,369.3 722.2,371.8Q722.7,374.3 721.8,376.8Q721,379.3 720.2,381.2L719.3,383L677.7,383L676.8,381.2Q676,379.3 674.3,377.7Q672.7,376 671.8,373.5Q671,371 671.2,367.7Q671.3,364.3 672,360.2Q672.7,356 672.2,353.1Q671.8,350.2 670.2,347.7Q668.5,345.2 666.8,342.2Q665.2,339.3 663.1,336.4Q661,333.5 659.3,331.8Q657.7,330.2 655.2,328.1Q652.7,326 651,323.9Q649.3,321.8 646.8,321Q644.3,320.2 642.7,321Q641,321.8 639.3,323.5Q637.7,325.2 635.6,323.9Q633.5,322.7 631.8,320.6Q630.2,318.5 631.4,316.4Q632.7,314.3 633.9,311.8Q635.2,309.3 636.4,307.2Q637.7,305.2 638.9,303.5Q640.2,301.8 638.5,299.8Q636.8,297.7 635.6,295.2Q634.3,292.7 632.7,291Q631,289.3 628.5,288.5Q626,287.7 625.2,286.3L624.3,285ZM575,351.8L575.5,351.8Q576,351.8 578.5,352.2Q581,352.7 583.5,353.5Q586,354.3 589.3,354.8Q592.7,355.2 605.2,355.6Q617.7,356 620.2,354.3Q622.7,352.7 624.3,351.8Q626,351 627.7,351.8Q629.3,352.7 630.2,354.8Q631,356.8 629.8,358.9Q628.5,361 627.7,363.5Q626.8,366 627.2,368.5Q627.7,371 630.2,370.2Q632.7,369.3 635.2,369.8Q637.7,370.2 639.3,371.4Q641,372.7 643.5,371.4Q646,370.2 649.3,369.3Q652.7,368.5 656,368.9Q659.3,369.3 661.8,370.2Q664.3,371 665.6,372.2Q666.8,373.5 665.6,375.2Q664.3,376.8 661.8,378.1Q659.3,379.3 656.8,380.6Q654.3,381.8 652.7,382.4L651,383L575,383ZM723.9,360.2Q722.7,359.3 723.5,357.2Q724.3,355.2 726,353.9Q727.7,352.7 729.8,352.2Q731.8,351.8 733.1,353.1Q734.3,354.3 733.5,356.4Q732.7,358.5 731,359.8Q729.3,361 727.2,361Q725.2,361 723.9,360.2ZM800.2,340.6Q799.3,339.3 800.6,337.7Q801.8,336 804.3,335.2Q806.8,334.3 809.3,334.2Q811.8,334 813.1,335Q814.3,336 813.5,337.7Q812.7,339.3 811,340.6Q809.3,341.8 806.8,341.4Q804.3,341 802.7,341.4Q801,341.8 800.2,340.6ZM879.3,285L878.9,288Q878.5,291 878.1,293.5Q877.7,296 877.2,299.3Q876.8,302.7 875.6,306.8Q874.3,311 871.8,315.2Q869.3,319.3 866,320.6Q862.7,321.8 861.4,323.9Q860.2,326 858.5,328.1Q856.8,330.2 857.2,331.4Q857.7,332.7 861,333.1Q864.3,333.5 867.7,333.5Q871,333.5 874.3,333.9Q877.7,334.3 879.8,335.2Q881.8,336 883.1,338.5Q884.3,341 883.9,343.5Q883.5,346 882.7,348.1Q881.8,350.2 880.6,352.2Q879.3,354.3 880.2,356Q881,357.7 879.3,358.9Q877.7,360.2 876,361.4Q874.3,362.7 871.8,363.9Q869.3,365.2 867.7,366.4Q866,367.7 863.5,366.8Q861,366 858.5,366.4Q856,366.8 853.5,366.4Q851,366 850.2,364.8Q849.3,363.5 849.8,361.8Q850.2,360.2 850.6,358.5Q851,356.8 848.5,356.4Q846,356 843.9,356.4Q841.8,356.8 840.6,358.5Q839.3,360.2 838.1,361.8Q836.8,363.5 833.9,363.8Q831,364 827.7,363.3Q824.3,362.7 823.1,361.4Q821.8,360.2 823.1,358.9Q824.3,357.7 826.4,356.8Q828.5,356 830.6,353.9Q832.7,351.8 834.8,349.8Q836.8,347.7 838.1,345.6Q839.3,343.5 840.2,341.4Q841,339.3 841.4,336.4Q841.8,333.5 841,330.6Q840.2,327.7 838.5,325.6Q836.8,323.5 834.8,322.7Q832.7,321.8 830.2,321Q827.7,320.2 827.7,317.2Q827.7,314.3 827.5,310.2Q827.3,306 827.2,302.5Q827,299 827.5,295.2Q828,291.5 830.3,290Q832.7,288.5 834.8,286.8L837,285ZM754.3,383L756,380.8Q757.7,378.5 760.2,376.8Q762.7,375.2 766,373.9Q769.3,372.7 772.7,371.4Q776,370.2 779.3,371Q782.7,371.8 785.2,373.9Q787.7,376 791.8,376.4Q796,376.8 800.2,377.2Q804.3,377.7 808.5,377.5Q812.7,377.3 815.2,378.3Q817.7,379.3 818.5,381.2L819.3,383ZM774.8,352.7Q774.3,351.8 775,351.2Q775.7,350.7 776.5,351.2Q777.3,351.8 777.1,352.7Q776.8,353.5 776,353.5Q775.2,353.5 774.8,352.7ZM776.8,360.6Q776.8,359.3 777.7,358.3Q778.5,357.3 779.6,357.9Q780.7,358.5 780.7,359.9Q780.7,361.3 779.6,362Q778.5,362.7 777.7,362.2Q776.8,361.8 776.8,360.6ZM895.2,306Q893.5,304.3 894.3,301Q895.2,297.7 896.4,295.2Q897.7,292.7 899.3,291.4Q901,290.2 902.2,291.4Q903.5,292.7 903.1,295.6Q902.7,298.5 901.4,301.4Q900.2,304.3 898.5,306Q896.8,307.7 895.2,306ZM331,381L360.2,381L360.4,384.8Q360.7,388.7 361,391.8Q361.3,395 361.3,396.8L361.3,398.7L331,398.7ZM407,381L407,412L381,403.7L381.7,401.2Q382.3,398.7 382.5,395.8Q382.7,392.8 381,389.9Q379.3,387 377.2,384L375.2,381ZM405,381L577,381L577,479L405,479ZM575,381L747,381L747,479L575,479ZM745,381L830.2,381L830.6,384.8Q831,388.7 830.2,390.3Q829.3,392 828.9,395.3Q828.5,398.7 827.2,401.2Q826,403.7 824.8,406.2Q823.5,408.7 822.2,412Q821,415.3 820.2,418.7Q819.3,422 818.9,425.3Q818.5,428.7 817.9,432Q817.3,435.3 815.8,437.8Q814.3,440.3 812.7,442.8Q811,445.3 809.3,447.8Q807.7,450.3 805.2,451.6L802.7,452.8L745,452.8ZM803.9,472.1Q802.7,469.2 805.2,468.8Q807.7,468.3 811.8,468.3Q816,468.3 818.1,469.6Q820.2,470.8 820.6,472.9Q821,475 820.6,477.1Q820.2,479.2 821.4,480.8Q822.7,482.5 825.2,481.7Q827.7,480.8 830.2,480.8Q832.7,480.8 833.1,482.5Q833.5,484.2 832.2,485.8Q831,487.5 828.5,487.9Q826,488.3 825.2,490Q824.3,491.7 823.1,490.4Q821.8,489.2 820.6,489.6Q819.3,490 818.1,491.2Q816.8,492.5 815.6,491.2Q814.3,490 813.1,487.5Q811.8,485 810.2,482.5Q808.5,480 806.8,477.5Q805.2,475 803.9,472.1ZM825.6,498.2Q825.2,496.7 826,495.7Q826.8,494.7 828.1,494.4Q829.3,494.2 830.3,495Q831.3,495.8 831.2,497.5Q831,499.2 829.8,500Q828.5,500.8 827.2,500.2Q826,499.7 825.6,498.2ZM606.7,475.8L606.3,478.3L607.5,485L609.7,491.7L610,497.5L606.7,499.2L603.3,498.3L598.3,496.7L593.3,495L588.3,492.5L584.2,490.8L582.5,486.7L580,481.7L577.5,475.8ZM695,153.7L695.5,153.9Q696,154.2 698,156.1Q699.9,158.1 702.8,158.8Q705.8,159.5 708.7,160Q711.6,160.5 712.4,162.2Q713.1,163.9 714.8,164.9Q716.5,165.9 719.4,165.5Q722.4,165.2 725.3,164.6Q728.2,163.9 730.7,164.6Q733.1,165.2 735.6,165.7Q738,166.2 739,166.3Q739.9,166.4 740.9,164.9Q741.9,163.4 743.4,162.9Q744.8,162.3 747.8,162.1Q750.7,162 752.9,162.5Q755.1,162.9 754.8,164.2Q754.6,165.4 753.6,166.9Q752.6,168.3 751.2,170.3Q749.7,172.2 748.2,174.7Q746.8,177.1 745.3,179.6Q743.9,182 742.9,184.4Q741.9,186.9 741.2,189.3Q740.4,191.8 739.9,194.4L739.5,197.1L718,197.1L716.8,194.2Q715.5,191.3 710.6,192.2Q705.8,193.2 702.3,192Q698.9,190.8 697,188.8L695,186.9Z"/>
</defs>
<path d="M246,93M407,93M407,191M382.7,191L383.9,187.9Q385.2,184.8 385.6,182.3Q386,179.8 384.3,178.2Q382.7,176.5 378.5,176.1Q374.3,175.7 369.3,176.1Q364.3,176.5 360.2,177.3Q356,178.2 354.3,180.2Q352.7,182.3 351.8,186.7L351,191M334.3,191L328.5,190.4Q322.7,189.8 316.8,189Q311,188.2 308.5,186.5Q306,184.8 304.3,182.8Q302.7,180.7 303.5,179Q304.3,177.3 303.9,174.8Q303.5,172.3 302.7,169Q301.8,165.7 300.6,164.2Q299.3,162.7 296.8,162.7Q294.3,162.7 293.1,164.2Q291.8,165.7 291.4,170.7Q291,175.7 289.3,179.8Q287.7,184 285.8,187.5L284,191M256.8,191L257.1,186.7Q257.3,182.3 257.1,178.2Q256.8,174 257.2,169Q257.7,164 258.1,161.1Q258.5,158.2 258.1,154.4Q257.7,150.7 257.2,147.3Q256.8,144 257.1,139Q257.3,134 255.8,130.2Q254.3,126.5 253.1,123.6Q251.8,120.7 248.9,119L246,117.3M405,93M506.8,93L507.2,101Q507.7,109 508.5,111.9Q509.3,114.8 508.1,118.6Q506.8,122.3 503.9,125.2Q501,128.2 496.8,129.2Q492.7,130.2 489.3,130.2Q486,130.2 481.8,130Q477.7,129.8 473.5,130.7Q469.3,131.5 465.2,132.6Q461,133.7 454.3,135.1Q447.7,136.5 438.5,138.2Q429.3,139.8 426,141.9Q422.7,144 419.3,146.5Q416,149 412.7,151.9Q409.3,154.8 407.7,156.5Q406,158.2 406.4,160.2Q406.8,162.3 408.1,164Q409.3,165.7 411.8,168.6Q414.3,171.5 415.2,173.6Q416,175.7 419.3,176.9Q422.7,178.2 426,179.4Q429.3,180.7 431.8,182.3Q434.3,184 435.6,187.5L436.8,191M405,191M468,191L468.5,189.8Q469,188.7 470.4,188.4Q471.8,188.2 473.1,189Q474.3,189.8 474.5,190.4L474.7,191M661.8,102.3M689.3,102.3M691.8,120.7L692.7,122.8Q693.5,124.8 694.6,127.3L695.7,129.8L694.2,133.2Q692.7,136.5 688.5,139.8Q684.3,143.2 681.8,145.4L679.3,147.7M682.7,148.7M691,147L691.8,148Q692.7,149 694.3,151.5L696,154M696,189L694.3,187.3Q692.7,185.7 690.2,183.2Q687.7,180.7 686,178.6Q684.3,176.5 681.8,176.9Q679.3,177.3 676.8,176.5Q674.3,175.7 671.8,174Q669.3,172.3 667.7,169.8Q666,167.3 664.8,164.8Q663.5,162.3 659.8,161.5Q656,160.7 651,159Q646,157.3 641.8,155.7Q637.7,154 634.8,153.2Q631.8,152.3 629.3,150.7Q626.8,149 626.4,146.5Q626,144 627.7,141.9Q629.3,139.8 631.8,136.9Q634.3,134 636.8,131.9Q639.3,129.8 642.7,128.6Q646,127.3 649.3,126.1Q652.7,124.8 654.3,122.8Q656,120.7 657.7,118.2Q659.3,115.7 660.6,113.2L661.8,110.7M773.5,191L774.3,189.2Q775.2,187.3 776.8,186.1Q778.5,184.8 780.6,185.1Q782.7,185.3 784.3,186.8Q786,188.2 786.4,189.6L786.8,191M895.7,191L899,188.2Q902.3,185.3 905.7,183.8Q909,182.3 908.2,184.4Q907.3,186.5 906.1,188.8L904.8,191M284,189L282.5,192.8Q281,196.7 280.2,199.2Q279.3,201.7 277.7,203.8Q276,205.8 273.5,207.1Q271,208.3 268.5,207.9Q266,207.5 263.5,206.2Q261,205 258.9,203.3Q256.8,201.7 256,199.2Q255.2,196.7 256,192.8L256.8,189M351,189L350.2,190.2Q349.3,191.3 346.8,191.7Q344.3,192 341,191.7Q337.7,191.3 336,190.2L334.3,189M407,189M407,287M356,287L356.8,284.3Q357.7,281.7 358.5,279.2Q359.3,276.7 360.2,275Q361,273.3 362.7,271.7Q364.3,270 366,267.5Q367.7,265 369.3,262.5Q371,260 372.2,257.9Q373.5,255.8 373.5,252.9Q373.5,250 372.2,247.5Q371,245 369.3,242.5Q367.7,240 366,236.7Q364.3,233.3 363.1,230Q361.8,226.7 361.4,223.3Q361,220 362.7,217.5Q364.3,215 366.8,212.1Q369.3,209.2 372.7,205.4Q376,201.7 378.5,198.3Q381,195 381.8,192L382.7,189M519.3,221.7Q519.3,220 521,219.3Q522.7,218.7 525.2,219.8Q527.7,220.8 529.3,223.3Q531,225.8 532.7,228.3Q534.3,230.8 536.8,231.2Q539.3,231.7 541.8,232.1Q544.3,232.5 547.7,233.8Q551,235 553.5,235.8Q556,236.7 558.5,237.1Q561,237.5 560.2,239.6Q559.3,241.7 558.1,244.2Q556.8,246.7 556.4,248.8Q556,250.8 553.5,251.2Q551,251.7 547.7,252.1Q544.3,252.5 541,252.1Q537.7,251.7 534.3,251.2Q531,250.8 528.5,251.7Q526,252.5 523.9,251.7Q521.8,250.8 520.6,248.8Q519.3,246.7 520.2,243.3Q521,240 521.8,236.7Q522.7,233.3 522.2,230.4Q521.8,227.5 520.6,225.4Q519.3,223.3 519.3,221.7M476.8,189L476.8,192Q476.8,195 475.6,196.2Q474.3,197.5 472.2,197.5Q470.2,197.5 469.1,195.8Q468,194.2 467.8,191.6L467.7,189M405,189M438.5,189L438.9,192Q439.3,195 440.6,198.3Q441.8,201.7 443.5,205Q445.2,208.3 447.2,210Q449.3,211.7 451.4,214.2Q453.5,216.7 454.8,219.2Q456,221.7 457.7,223.8Q459.3,225.8 461.4,227.9Q463.5,230 466.4,232.1Q469.3,234.2 472.7,235.8Q476,237.5 479.3,238.8Q482.7,240 485.2,241.2Q487.7,242.5 489.3,245Q491,247.5 490.6,250.4Q490.2,253.3 491.4,256.7Q492.7,260 493.9,262.5Q495.2,265 496,267.5Q496.8,270 496.4,273.3Q496,276.7 496.4,279.2Q496.8,281.7 496.4,284.3L496,287M405,287M599.3,278.8Q598.5,276.7 599.3,275Q600.2,273.3 601.4,273.8Q602.7,274.2 602.5,276.2Q602.3,278.3 601.2,279.6Q600.2,280.8 599.3,278.8M605.4,282.9Q605.2,281.7 607.2,280.8Q609.3,280 611.4,280.4Q613.5,280.8 613.1,282.1Q612.7,283.3 610.6,284.2Q608.5,285 607.1,284.6Q605.7,284.2 605.4,282.9M583.1,221.7Q582.7,220 584.3,218.8Q586,217.5 588.5,218.3Q591,219.2 593.5,220Q596,220.8 597.7,217.9Q599.3,215 600.2,211.7Q601,208.3 603.5,207.1Q606,205.8 608.5,204.6Q611,203.3 613.9,203.2Q616.8,203 619.3,204Q621.8,205 622.7,206.7Q623.5,208.3 623.1,211.2Q622.7,214.2 621.8,217.1Q621,220 620.2,223.3Q619.3,226.7 618.5,229.6Q617.7,232.5 615.2,233.1Q612.7,233.7 609.3,233.3Q606,233 602.7,231.9Q599.3,230.8 596,229.6Q592.7,228.3 590.2,227.1Q587.7,225.8 585.6,224.6Q583.5,223.3 583.1,221.7M630.2,225.4Q628.5,223.3 629.3,221.7Q630.2,220 632.7,219.3Q635.2,218.7 637.2,219.3Q639.3,220 640,222.1Q640.7,224.2 639.2,225.6Q637.7,227 634.8,227.2Q631.8,227.5 630.2,225.4M596,255.4Q594.3,254.2 595.2,251.2Q596,248.3 597.7,246.2Q599.3,244.2 601.4,242.9Q603.5,241.7 605.6,241.8Q607.7,242 608.1,243.9Q608.5,245.8 607.2,248.8Q606,251.7 604.3,253.8Q602.7,255.8 600.2,256.2Q597.7,256.7 596,255.4M675.6,232.5Q675.2,230 675.6,227.5Q676,225 678.1,223.8Q680.2,222.5 683.1,222.5Q686,222.5 688.1,224.2Q690.2,225.8 690.6,228.8Q691,231.7 690.6,235Q690.2,238.3 691,240.8Q691.8,243.3 693.1,244.6Q694.3,245.8 694.8,242.9Q695.2,240 696,236.7Q696.8,233.3 698.1,230Q699.3,226.7 698.9,223.8Q698.5,220.8 699.8,217.9Q701,215 702.2,212.1Q703.5,209.2 705.2,208.3Q706.8,207.5 708.1,208.3Q709.3,209.2 710.2,212.1Q711,215 711.8,217.9Q712.7,220.8 713.9,223.3Q715.2,225.8 717.2,228.3Q719.3,230.8 721.8,232.5Q724.3,234.2 726.8,233.8Q729.3,233.3 731.4,232.1Q733.5,230.8 733.1,233.8Q732.7,236.7 731,237.9Q729.3,239.2 726,239.6Q722.7,240 724.3,241.7Q726,243.3 728.9,243.8Q731.8,244.2 733.1,246.2Q734.3,248.3 733.5,250.8Q732.7,253.3 733.5,256.7Q734.3,260 735.2,263.3Q736,266.7 737.7,269.2Q739.3,271.7 743.2,272.5L747,273.3M747,287M666,287L665.2,283.5Q664.3,280 664.3,276.7Q664.3,273.3 665.6,270.8Q666.8,268.3 669.8,267.1Q672.7,265.8 675.2,265.8Q677.7,265.8 679.3,267.1Q681,268.3 682.7,266.2Q684.3,264.2 683.5,262.1Q682.7,260 679.3,259.6Q676,259.2 674.8,257.1Q673.5,255 673.9,251.7Q674.3,248.3 675.6,245Q676.8,241.7 676.4,238.3Q676,235 675.6,232.5M740.2,189L739.3,193.7Q738.5,198.3 737.7,202.1Q736.8,205.8 734.8,206.2Q732.7,206.7 729.8,205.8Q726.8,205 724.3,202.9Q721.8,200.8 720.2,197.9Q718.5,195 718.1,192L717.7,189M621,287L621.8,285.2Q622.7,283.3 625.2,282.5Q627.7,281.7 630.2,282.1Q632.7,282.5 634.8,281.2Q636.8,280 638.5,278.3Q640.2,276.7 643.1,275Q646,273.3 646.8,271.7Q647.7,270 650.2,270Q652.7,270 654.3,271.2Q656,272.5 655.6,274.6Q655.2,276.7 653.1,277.9Q651,279.2 650.2,280.8Q649.3,282.5 651.8,283.3Q654.3,284.2 656.8,285.6L659.3,287M753.2,201.2Q753.5,199.2 756.4,197.9Q759.3,196.7 763.5,195.4Q767.7,194.2 771.8,192.5Q776,190.8 778.9,189.9L781.8,189M789.3,189L788.5,192Q787.7,195 786,197.5Q784.3,200 783.1,201.2Q781.8,202.5 782.7,203.8Q783.5,205 785.6,203.3Q787.7,201.7 789.8,199.2Q791.8,196.7 793.5,196.2Q795.2,195.8 794.8,197.9Q794.3,200 791.8,202.5Q789.3,205 787.7,207.1Q786,209.2 783.9,210.4Q781.8,211.7 778.9,213.3Q776,215 772.7,216.7Q769.3,218.3 766,220Q762.7,221.7 760.6,222.9Q758.5,224.2 757.4,222.1Q756.3,220 757,216.7Q757.7,213.3 756.4,210.8Q755.2,208.3 754.1,205.8Q753,203.3 753.2,201.2M755.6,231.2Q756,228.3 759.3,227.1Q762.7,225.8 766,224.6Q769.3,223.3 772.7,222.5Q776,221.7 778.5,220Q781,218.3 779.3,220.8Q777.7,223.3 774.3,225.4Q771,227.5 767.7,229.2Q764.3,230.8 761.4,232.1Q758.5,233.3 756.8,233.8Q755.2,234.2 755.6,231.2M759.8,245.4Q759.3,244.2 763.5,242.1Q767.7,240 772.7,238.3Q777.7,236.7 782.7,234.2Q787.7,231.7 791.8,228.8Q796,225.8 799.3,222.9Q802.7,220 804.2,218.3Q805.7,216.7 806,220Q806.3,223.3 805.3,225.4Q804.3,227.5 802.2,229.6Q800.2,231.7 797.2,233.3Q794.3,235 790.2,237.1Q786,239.2 781,240.8Q776,242.5 771,244.2Q766,245.8 763.1,246.2Q760.2,246.7 759.8,245.4M745.5,256.7Q746,256.7 749.3,255.7Q752.7,254.7 756,253.8Q759.3,253 764.3,252.3Q769.3,251.7 774.3,249.6Q779.3,247.5 783.5,245.2Q787.7,243 791,241.5Q794.3,240 797.7,240.8Q801,241.7 802.7,243.3Q804.3,245 804.7,247.5Q805,250 801.8,251.5Q798.7,253 795.6,255.2Q792.5,257.5 790,259.8Q787.5,262 785,264.3Q782.5,266.7 779.3,269Q776.2,271.3 773.1,273Q770,274.7 766.3,276.1Q762.7,277.5 758.5,278.8Q754.3,280 750.2,281.2Q746,282.5 745.5,282.5L745,282.5M745,256.7L745.5,256.7M843.5,249.2Q841,247.5 840.2,245.4Q839.3,243.3 841.8,242.5Q844.3,241.7 846.8,240.8Q849.3,240 851,238.3Q852.7,236.7 854.3,234.2Q856,231.7 857.7,228.3Q859.3,225 860.2,222.1Q861,219.2 861.8,217.1Q862.7,215 865.2,214.2Q867.7,213.3 871,213.8Q874.3,214.2 877.7,214.6Q881,215 883.5,214.2Q886,213.3 887.7,212.5Q889.3,211.7 891,212.5Q892.7,213.3 891.8,215.8Q891,218.3 889.3,220.4Q887.7,222.5 885.2,224.2Q882.7,225.8 880.2,227.5Q877.7,229.2 876,231.2Q874.3,233.3 872.2,235Q870.2,236.7 868.1,238.3Q866,240 864.3,240.8Q862.7,241.7 860.2,242.5Q857.7,243.3 855.2,244.2Q852.7,245 851,247.1Q849.3,249.2 847.7,250Q846,250.8 843.5,249.2M889.8,201.2Q888.5,201.7 889.8,199.2Q891,196.7 893.5,194.2Q896,191.7 898.5,190.3L901,189M909.3,189L907.7,191.2Q906,193.3 903.5,195Q901,196.7 898.5,197.9Q896,199.2 893.5,200Q891,200.8 889.8,201.2M901.7,202.9Q902.7,200 906,199.6Q909.3,199.2 913.2,198.8L917,198.3M917,222.5L914.8,222.5Q912.7,222.5 910.2,221.7Q907.7,220.8 905.6,219.2Q903.5,217.5 902.2,214.6Q901,211.7 900.8,208.8Q900.7,205.8 901.7,202.9M886.4,258.3Q886,256.7 888.5,255.4Q891,254.2 894.3,252.9Q897.7,251.7 901,250.4Q904.3,249.2 907.7,248.3Q911,247.5 914,247.5L917,247.5M917,270L914.8,270.4Q912.7,270.8 911.4,273.8Q910.2,276.7 908.1,278.8Q906,280.8 903.5,281.2Q901,281.7 898.9,280Q896.8,278.3 895.6,275.8Q894.3,273.3 893.5,270Q892.7,266.7 891.8,264.2Q891,261.7 888.9,260.8Q886.8,260 886.4,258.3M844.3,287L845.2,284.8Q846,282.5 848.1,280.4Q850.2,278.3 853.1,277.5Q856,276.7 859.3,277.5Q862.7,278.3 866.8,278.2Q871,278 874.3,279.4Q877.7,280.8 878.5,283.9L879.3,287M853,215L856.8,214.2Q860.7,213.3 864,213.3Q867.3,213.3 870.7,214.2Q874,215 877.3,216.2Q880.7,217.5 883.6,218.3Q886.5,219.2 886.1,221.2Q885.7,223.3 883.2,225.4Q880.7,227.5 878.2,229.6Q875.7,231.7 874,234.2Q872.3,236.7 870.7,238.8Q869,240.8 865.7,241.7Q862.3,242.5 859,243.3Q855.7,244.2 854.3,244.6L853,245M892.3,198.3Q889.8,197.5 891.9,195.4Q894,193.3 896.5,191.2L899,189M907.3,189L906.5,191.2Q905.7,193.3 903.2,195Q900.7,196.7 897.8,197.9Q894.8,199.2 892.3,198.3M901.5,205.8Q901.5,203.3 905.2,201.7Q909,200 912.3,199.2Q915.7,198.3 918.2,196.7Q920.7,195 922.3,195.8Q924,196.7 924.4,199.2Q924.8,201.7 922.8,203.3Q920.7,205 919,206.7Q917.3,208.3 916.9,211.7Q916.5,215 916.9,217.5Q917.3,220 915.7,221.2Q914,222.5 912.3,221.7Q910.7,220.8 907.3,217.1Q904,213.3 902.8,210.8Q901.5,208.3 901.5,205.8M937.8,227.9Q936.5,225.8 938.6,225Q940.7,224.2 944,224.6Q947.3,225 949.8,225.4Q952.3,225.8 953.2,227.9Q954,230 951.9,231.2Q949.8,232.5 946.9,232.5Q944,232.5 941.5,231.2Q939,230 937.8,227.9M942,189M942,211.7M964.8,216.3L963.6,217.5Q962.3,218.7 959,217.8Q955.7,217 951.5,216Q947.3,215 943.6,213.3Q939.8,211.7 939.8,200.3L939.8,189M886.5,260.4Q885.7,258.3 889,256.2Q892.3,254.2 896.5,252.5Q900.7,250.8 904.8,249.2Q909,247.5 912.3,247.1Q915.7,246.7 916.5,249.2Q917.3,251.7 916.9,255Q916.5,258.3 915.2,261.7Q914,265 912.3,267.5Q910.7,270 909,272.5Q907.3,275 904.8,277.5Q902.3,280 899.8,280.8Q897.3,281.7 896.1,279.2Q894.8,276.7 894,273.3Q893.2,270 892.3,267.1Q891.5,264.2 889.4,263.3Q887.3,262.5 886.5,260.4M853,276.7L856.8,277.1Q860.7,277.5 864.8,277.1Q869,276.7 872.3,278.3Q875.7,280 877.3,283.5L879,287M853,287M407,285M407,383M374.3,383L372.7,378.7Q371,374.3 369.3,371Q367.7,367.7 366,364.3Q364.3,361 361.8,357.7Q359.3,354.3 356,350.6Q352.7,346.8 349.3,343.1Q346,339.3 343.1,336Q340.2,332.7 338.1,329.3Q336,326 335.2,322.7Q334.3,319.3 333.9,315.2Q333.5,311 332.9,306.8Q332.3,302.7 331.8,298.5Q331.3,294.3 332,289.7L332.7,285M329.3,380.3Q328.5,377.7 331.4,376Q334.3,374.3 336.8,373.1Q339.3,371.8 341.8,371Q344.3,370.2 346,371Q347.7,371.8 350.2,372.2Q352.7,372.7 354.8,374.8Q356.8,376.8 358.5,379.9L360.2,383M330.2,383L329.3,380.3M405,285M440.2,285L441,288.8Q441.8,292.7 442.7,296Q443.5,299.3 444.8,301.8Q446,304.3 444.8,306Q443.5,307.7 440.6,308.5Q437.7,309.3 434.3,309.3Q431,309.3 429.3,310.2Q427.7,311 427.8,313.1Q428,315.2 429.5,316.8Q431,318.5 435.2,320.2Q439.3,321.8 443.5,322.7Q447.7,323.5 451.8,324.3Q456,325.2 460.2,325.6Q464.3,326 467.7,325.6Q471,325.2 474.3,325.6Q477.7,326 481,326.4Q484.3,326.8 487.2,327.2Q490.2,327.7 492.2,328.9Q494.3,330.2 496,332.2Q497.7,334.3 497.5,336.8Q497.3,339.3 495.8,340.6Q494.3,341.8 493.1,343.9Q491.8,346 492.2,348.5Q492.7,351 493.9,353.1Q495.2,355.2 496,357.2Q496.8,359.3 497.7,361.8Q498.5,364.3 498.9,369.3Q499.3,374.3 500.6,375.6Q501.8,376.8 505.6,377.1Q509.3,377.3 513.5,377.1Q517.7,376.8 520.2,378.1Q522.7,379.3 524.3,381.2L526,383M405,383M486,285L484.8,289.2Q483.5,293.5 481.4,296.4Q479.3,299.3 476.8,301.8Q474.3,304.3 471.8,306Q469.3,307.7 467.2,306.4Q465.2,305.2 463.5,302.7Q461.8,300.2 460.6,297.2Q459.3,294.3 458.5,291.8Q457.7,289.3 456.4,289.8Q455.2,290.2 454.8,293.1Q454.3,296 453.5,299.3Q452.7,302.7 451,304.3Q449.3,306 447.7,305.2Q446,304.3 444.8,301.8Q443.5,299.3 442.7,296Q441.8,292.7 441,288.8L440.2,285M497.2,312.7Q496.8,311 498.1,309.3Q499.3,307.7 501.8,308.1Q504.3,308.5 506,310.2Q507.7,311.8 508.1,313.9Q508.5,316 506.8,316.8Q505.2,317.7 503.1,317.2Q501,316.8 499.3,315.6Q497.7,314.3 497.2,312.7M515.2,303.7Q514.3,302.7 515.6,301.8Q516.8,301 518.9,301.2Q521,301.3 521.8,302.4Q522.7,303.5 524.8,304.3Q526.8,305.2 528.1,306Q529.3,306.8 528.1,307.7Q526.8,308.5 524.8,308.1Q522.7,307.7 521,306.4Q519.3,305.2 517.7,304.9Q516,304.7 515.2,303.7M538.5,363.1Q537.7,361 537.2,358.5Q536.8,356 538.1,354.3Q539.3,352.7 541.8,352.2Q544.3,351.8 546,353.1Q547.7,354.3 550.2,355.2Q552.7,356 554.8,355.2Q556.8,354.3 557.2,352.2Q557.7,350.2 559.8,349.8Q561.8,349.3 563.9,350.2Q566,351 568.5,351.7Q571,352.3 574,352.1L577,351.8M577,383M559.3,383L558.1,380.8Q556.8,378.5 554.8,375.6Q552.7,372.7 551,370.6Q549.3,368.5 546.8,367.2Q544.3,366 541.8,365.6Q539.3,365.2 538.5,363.1M607.7,337Q606.8,336 608.1,335.2Q609.3,334.3 611.4,334.5Q613.5,334.7 614.1,335.8Q614.7,336.8 613.2,337.4Q611.8,338 610.2,338Q608.5,338 607.7,337M633.6,344.6Q633.2,343.5 633.8,342.5Q634.3,341.5 635.3,341.7Q636.3,341.8 636.8,342.9Q637.3,344 636.7,345Q636,346 635,345.8Q634,345.7 633.6,344.6M741,285L740.2,286.8Q739.3,288.5 737.7,290.6Q736,292.7 734.3,294.8Q732.7,296.8 730.2,298.1Q727.7,299.3 725.2,298.1Q722.7,296.8 721.8,294.8Q721,292.7 719.3,291.8Q717.7,291 716,292.2Q714.3,293.5 713.5,295.6Q712.7,297.7 711,298.9Q709.3,300.2 706,300.6Q702.7,301 700.2,301.4Q697.7,301.8 698.1,303.9Q698.5,306 700.6,308.5Q702.7,311 702.2,313.5Q701.8,316 702.7,318.5Q703.5,321 703.1,323.1Q702.7,325.2 701,326.4Q699.3,327.7 698.1,329.3Q696.8,331 698.1,332.7Q699.3,334.3 699.8,336.8Q700.2,339.3 699.8,342.7Q699.3,346 698.5,349.3Q697.7,352.7 696.4,356Q695.2,359.3 694.8,361.8Q694.3,364.3 695.6,366.8Q696.8,369.3 698.9,368.5Q701,367.7 703.1,366.4Q705.2,365.2 707.2,364.3Q709.3,363.5 711.8,363.9Q714.3,364.3 716.8,365.2Q719.3,366 720.6,367.7Q721.8,369.3 722.2,371.8Q722.7,374.3 721.8,376.8Q721,379.3 720.2,381.2L719.3,383M677.7,383L676.8,381.2Q676,379.3 674.3,377.7Q672.7,376 671.8,373.5Q671,371 671.2,367.7Q671.3,364.3 672,360.2Q672.7,356 672.2,353.1Q671.8,350.2 670.2,347.7Q668.5,345.2 666.8,342.2Q665.2,339.3 663.1,336.4Q661,333.5 659.3,331.8Q657.7,330.2 655.2,328.1Q652.7,326 651,323.9Q649.3,321.8 646.8,321Q644.3,320.2 642.7,321Q641,321.8 639.3,323.5Q637.7,325.2 635.6,323.9Q633.5,322.7 631.8,320.6Q630.2,318.5 631.4,316.4Q632.7,314.3 633.9,311.8Q635.2,309.3 636.4,307.2Q637.7,305.2 638.9,303.5Q640.2,301.8 638.5,299.8Q636.8,297.7 635.6,295.2Q634.3,292.7 632.7,291Q631,289.3 628.5,288.5Q626,287.7 625.2,286.3L624.3,285M575,351.8L575.5,351.8Q576,351.8 578.5,352.2Q581,352.7 583.5,353.5Q586,354.3 589.3,354.8Q592.7,355.2 605.2,355.6Q617.7,356 620.2,354.3Q622.7,352.7 624.3,351.8Q626,351 627.7,351.8Q629.3,352.7 630.2,354.8Q631,356.8 629.8,358.9Q628.5,361 627.7,363.5Q626.8,366 627.2,368.5Q627.7,371 630.2,370.2Q632.7,369.3 635.2,369.8Q637.7,370.2 639.3,371.4Q641,372.7 643.5,371.4Q646,370.2 649.3,369.3Q652.7,368.5 656,368.9Q659.3,369.3 661.8,370.2Q664.3,371 665.6,372.2Q666.8,373.5 665.6,375.2Q664.3,376.8 661.8,378.1Q659.3,379.3 656.8,380.6Q654.3,381.8 652.7,382.4L651,383M575,383M723.9,360.2Q722.7,359.3 723.5,357.2Q724.3,355.2 726,353.9Q727.7,352.7 729.8,352.2Q731.8,351.8 733.1,353.1Q734.3,354.3 733.5,356.4Q732.7,358.5 731,359.8Q729.3,361 727.2,361Q725.2,361 723.9,360.2M800.2,340.6Q799.3,339.3 800.6,337.7Q801.8,336 804.3,335.2Q806.8,334.3 809.3,334.2Q811.8,334 813.1,335Q814.3,336 813.5,337.7Q812.7,339.3 811,340.6Q809.3,341.8 806.8,341.4Q804.3,341 802.7,341.4Q801,341.8 800.2,340.6M879.3,285L878.9,288Q878.5,291 878.1,293.5Q877.7,296 877.2,299.3Q876.8,302.7 875.6,306.8Q874.3,311 871.8,315.2Q869.3,319.3 866,320.6Q862.7,321.8 861.4,323.9Q860.2,326 858.5,328.1Q856.8,330.2 857.2,331.4Q857.7,332.7 861,333.1Q864.3,333.5 867.7,333.5Q871,333.5 874.3,333.9Q877.7,334.3 879.8,335.2Q881.8,336 883.1,338.5Q884.3,341 883.9,343.5Q883.5,346 882.7,348.1Q881.8,350.2 880.6,352.2Q879.3,354.3 880.2,356Q881,357.7 879.3,358.9Q877.7,360.2 876,361.4Q874.3,362.7 871.8,363.9Q869.3,365.2 867.7,366.4Q866,367.7 863.5,366.8Q861,366 858.5,366.4Q856,366.8 853.5,366.4Q851,366 850.2,364.8Q849.3,363.5 849.8,361.8Q850.2,360.2 850.6,358.5Q851,356.8 848.5,356.4Q846,356 843.9,356.4Q841.8,356.8 840.6,358.5Q839.3,360.2 838.1,361.8Q836.8,363.5 833.9,363.8Q831,364 827.7,363.3Q824.3,362.7 823.1,361.4Q821.8,360.2 823.1,358.9Q824.3,357.7 826.4,356.8Q828.5,356 830.6,353.9Q832.7,351.8 834.8,349.8Q836.8,347.7 838.1,345.6Q839.3,343.5 840.2,341.4Q841,339.3 841.4,336.4Q841.8,333.5 841,330.6Q840.2,327.7 838.5,325.6Q836.8,323.5 834.8,322.7Q832.7,321.8 830.2,321Q827.7,320.2 827.7,317.2Q827.7,314.3 827.5,310.2Q827.3,306 827.2,302.5Q827,299 827.5,295.2Q828,291.5 830.3,290Q832.7,288.5 834.8,286.8L837,285M754.3,383L756,380.8Q757.7,378.5 760.2,376.8Q762.7,375.2 766,373.9Q769.3,372.7 772.7,371.4Q776,370.2 779.3,371Q782.7,371.8 785.2,373.9Q787.7,376 791.8,376.4Q796,376.8 800.2,377.2Q804.3,377.7 808.5,377.5Q812.7,377.3 815.2,378.3Q817.7,379.3 818.5,381.2L819.3,383M774.8,352.7Q774.3,351.8 775,351.2Q775.7,350.7 776.5,351.2Q777.3,351.8 777.1,352.7Q776.8,353.5 776,353.5Q775.2,353.5 774.8,352.7M776.8,360.6Q776.8,359.3 777.7,358.3Q778.5,357.3 779.6,357.9Q780.7,358.5 780.7,359.9Q780.7,361.3 779.6,362Q778.5,362.7 777.7,362.2Q776.8,361.8 776.8,360.6M895.2,306Q893.5,304.3 894.3,301Q895.2,297.7 896.4,295.2Q897.7,292.7 899.3,291.4Q901,290.2 902.2,291.4Q903.5,292.7 903.1,295.6Q902.7,298.5 901.4,301.4Q900.2,304.3 898.5,306Q896.8,307.7 895.2,306M331,381M360.2,381L360.4,384.8Q360.7,388.7 361,391.8Q361.3,395 361.3,396.8L361.3,398.7M331,398.7M407,381M407,412M381,403.7L381.7,401.2Q382.3,398.7 382.5,395.8Q382.7,392.8 381,389.9Q379.3,387 377.2,384L375.2,381M405,381M577,381M577,479M405,479M575,381M747,381M747,479M575,479M745,381M830.2,381L830.6,384.8Q831,388.7 830.2,390.3Q829.3,392 828.9,395.3Q828.5,398.7 827.2,401.2Q826,403.7 824.8,406.2Q823.5,408.7 822.2,412Q821,415.3 820.2,418.7Q819.3,422 818.9,425.3Q818.5,428.7 817.9,432Q817.3,435.3 815.8,437.8Q814.3,440.3 812.7,442.8Q811,445.3 809.3,447.8Q807.7,450.3 805.2,451.6L802.7,452.8M745,452.8M803.9,472.1Q802.7,469.2 805.2,468.8Q807.7,468.3 811.8,468.3Q816,468.3 818.1,469.6Q820.2,470.8 820.6,472.9Q821,475 820.6,477.1Q820.2,479.2 821.4,480.8Q822.7,482.5 825.2,481.7Q827.7,480.8 830.2,480.8Q832.7,480.8 833.1,482.5Q833.5,484.2 832.2,485.8Q831,487.5 828.5,487.9Q826,488.3 825.2,490Q824.3,491.7 823.1,490.4Q821.8,489.2 820.6,489.6Q819.3,490 818.1,491.2Q816.8,492.5 815.6,491.2Q814.3,490 813.1,487.5Q811.8,485 810.2,482.5Q808.5,480 806.8,477.5Q805.2,475 803.9,472.1M825.6,498.2Q825.2,496.7 826,495.7Q826.8,494.7 828.1,494.4Q829.3,494.2 830.3,495Q831.3,495.8 831.2,497.5Q831,499.2 829.8,500Q828.5,500.8 827.2,500.2Q826,499.7 825.6,498.2M606.7,475.8L606.3,478.3L607.5,485L609.7,491.7L610,497.5L606.7,499.2L603.3,498.3L598.3,496.7L593.3,495L588.3,492.5L584.2,490.8L582.5,486.7L580,481.7L577.5,475.8L606.7,475.8M695,153.7L695.5,153.9Q696,154.2 698,156.1Q699.9,158.1 702.8,158.8Q705.8,159.5 708.7,160Q711.6,160.5 712.4,162.2Q713.1,163.9 714.8,164.9Q716.5,165.9 719.4,165.5Q722.4,165.2 725.3,164.6Q728.2,163.9 730.7,164.6Q733.1,165.2 735.6,165.7Q738,166.2 739,166.3Q739.9,166.4 740.9,164.9Q741.9,163.4 743.4,162.9Q744.8,162.3 747.8,162.1Q750.7,162 752.9,162.5Q755.1,162.9 754.8,164.2Q754.6,165.4 753.6,166.9Q752.6,168.3 751.2,170.3Q749.7,172.2 748.2,174.7Q746.8,177.1 745.3,179.6Q743.9,182 742.9,184.4Q741.9,186.9 741.2,189.3Q740.4,191.8 739.9,194.4L739.5,197.1M718,197.1L716.8,194.2Q715.5,191.3 710.6,192.2Q705.8,193.2 702.3,192Q698.9,190.8 697,188.8L695,186.9" fill="none" stroke="#1a1a1a" stroke-width="2.9" stroke-linecap="round"/>
<use href="#p4" fill="#fed98e"/>
<defs>
<path id="p5" d="M392.7,191L392.2,186.7Q391.8,182.3 391,179Q390.2,175.7 389.8,172.8Q389.3,169.8 391.8,169Q394.3,168.2 396.4,167.8Q398.5,167.3 398.1,169.8Q397.7,172.3 398.9,174.8Q400.2,177.3 401.4,180.7Q402.7,184 404.3,187.5L406,191ZM406,189L404.3,190.8Q402.7,192.5 400.6,193.3Q398.5,194.2 396.4,193.3Q394.3,192.5 393.5,190.8L392.7,189ZM399.8,230.2Q399.3,229.2 399.8,227.5Q400.2,225.8 401.8,224.2Q403.5,222.5 405.2,221.7L407,220.8L407,230L404.8,230.8Q402.7,231.7 401.4,231.5Q400.2,231.3 399.8,230.2ZM405,220.8L407.2,219.6Q409.3,218.3 411.8,217.5Q414.3,216.7 415.6,217.5Q416.8,218.3 416.4,220Q416,221.7 413.5,223.3Q411,225 408.5,227.1Q406,229.2 405.5,229.6L405,230ZM406.2,254.2Q406.8,252.5 408.1,251.7Q409.3,250.8 411,251.7Q412.7,252.5 413.5,254.6Q414.3,256.7 413.9,259.6Q413.5,262.5 412.2,264.2Q411,265.8 409.3,265Q407.7,264.2 406.8,262.1Q406,260 405.8,257.9Q405.7,255.8 406.2,254.2ZM899.8,269.6Q900.2,266.7 901,265.8Q901.8,265 903.9,265.2Q906,265.3 906.4,266.8Q906.8,268.3 905.6,270.8Q904.3,273.3 902.7,274.6Q901,275.8 900.2,274.2Q899.3,272.5 899.8,269.6ZM900.2,269.2Q900.7,266.7 902.3,265.4Q904,264.2 905.7,264.6Q907.3,265 907.2,267.1Q907,269.2 905.5,271.2Q904,273.3 902.8,274.2Q901.5,275 900.7,273.3Q899.8,271.7 900.2,269.2ZM663.9,311Q664.3,309.3 666.8,308.5Q669.3,307.7 672.7,307.7Q676,307.7 680.2,308.1Q684.3,308.5 688.5,308.9Q692.7,309.3 691.8,311.4Q691,313.5 688.5,315.2Q686,316.8 685.2,318.9Q684.3,321 681.8,322.2Q679.3,323.5 676.8,322.7Q674.3,321.8 671.8,320.6Q669.3,319.3 667.7,317.7Q666,316 664.8,314.3Q663.5,312.7 663.9,311ZM671,285L669.3,287.2Q667.7,289.3 666,290.2Q664.3,291 663.1,289.8Q661.8,288.5 661.4,286.8L661,285ZM587.7,383L588.1,380.3Q588.5,377.7 590.6,375.6Q592.7,373.5 596,372.7Q599.3,371.8 603.5,371Q607.7,370.2 611,370.6Q614.3,371 616.8,372.7Q619.3,374.3 620.2,376.8Q621,379.3 621,381.2L621,383ZM561.8,381L560.6,384Q559.3,387 558.1,389.1Q556.8,391.2 558.1,393.2Q559.3,395.3 561.4,397.8Q563.5,400.3 563.1,403.7Q562.7,407 563.5,410.3Q564.3,413.7 565.2,417Q566,420.3 566.8,422.8Q567.7,425.3 566.8,427Q566,428.7 563.5,429.5Q561,430.3 558.5,431.6Q556,432.8 554.3,434.1Q552.7,435.3 551,434.1Q549.3,432.8 546.8,431.6Q544.3,430.3 541.8,430.8Q539.3,431.2 536.8,431.6Q534.3,432 531,431.6Q527.7,431.2 525.2,430.3Q522.7,429.5 521.4,427.4Q520.2,425.3 520.2,422.4Q520.2,419.5 521.4,417.8Q522.7,416.2 524.3,417.4Q526,418.7 528.5,419.1Q531,419.5 533.5,420.8Q536,422 538.5,422.4Q541,422.8 542.7,421.6Q544.3,420.3 544.3,418.2Q544.3,416.2 542.7,414.5Q541,412.8 537.7,412Q534.3,411.2 531,410.8Q527.7,410.3 526.8,409.1Q526,407.8 527.7,406.6Q529.3,405.3 530.2,402.8Q531,400.3 530.6,397Q530.2,393.7 529.3,390.3Q528.5,387 527.7,384L526.8,381ZM570.4,444.1Q570.2,442.8 571.4,442.2Q572.7,441.7 574.8,441.8L577,442L577,447L574.8,447.2Q572.7,447.3 571.7,446.3Q570.7,445.3 570.4,444.1ZM587.7,381L621,381L620.6,384Q620.2,387 618.9,389.5Q617.7,392 615.2,393.2Q612.7,394.5 609.3,394.1Q606,393.7 602.7,394.5Q599.3,395.3 596,396Q592.7,396.7 591,395.6Q589.3,394.5 588.7,391.6Q588,388.7 587.8,384.8ZM591.8,422.8Q589.3,420.3 591.8,417.8Q594.3,415.3 597.7,413.7Q601,412 605.2,410.8Q609.3,409.5 613.5,408.2Q617.7,407 621,405.8Q624.3,404.5 626,402.4Q627.7,400.3 628.5,398.2Q629.3,396.2 632.7,395.8Q636,395.3 639.3,396.2Q642.7,397 641.4,399.1Q640.2,401.2 638.5,402.8Q636.8,404.5 635.2,407Q633.5,409.5 632.2,412.4Q631,415.3 630.2,417.8Q629.3,420.3 628.5,422.4Q627.7,424.5 626,425.8Q624.3,427 620.2,427.4Q616,427.8 611.8,427Q607.7,426.2 604.3,426.6Q601,427 597.7,426.2Q594.3,425.3 591.8,422.8ZM727.7,381L727.2,383.2Q726.8,385.3 727.7,387.8Q728.5,390.3 728.1,393.7Q727.7,397 727.2,400.3Q726.8,403.7 727.7,406.2Q728.5,408.7 730.6,409.5Q732.7,410.3 734.5,411.3Q736.3,412.3 736.6,414.5Q736.8,416.7 734.3,417.5Q731.8,418.3 729.8,416.2Q727.7,414 726,412.8Q724.3,411.7 721.8,412.5Q719.3,413.3 716,413.7Q712.7,414 710.2,415.1Q707.7,416.2 706,418.1Q704.3,420 701.8,420.8Q699.3,421.7 696,421.4Q692.7,421.2 688.5,420.9Q684.3,420.7 680.2,420.1Q676,419.5 673.5,418.2Q671,417 670.2,414.9Q669.3,412.8 670.2,410.8Q671,408.7 673.5,407.8Q676,407 679.3,406.6Q682.7,406.2 683.1,404.1Q683.5,402 681.4,401.2Q679.3,400.3 676,400.8Q672.7,401.2 669.3,401.6Q666,402 663.5,400.8Q661,399.5 661.8,397.4Q662.7,395.3 661.8,392.8Q661,390.3 658.5,389.5Q656,388.7 653.5,387.8Q651,387 650.2,384L649.3,381ZM654.8,423.7Q653.5,422 654.8,420.8Q656,419.5 659.3,419.1Q662.7,418.7 666,418.2Q669.3,417.8 672.7,418.7Q676,419.5 678.1,420.8Q680.2,422 678.1,422.8Q676,423.7 672.7,423.5Q669.3,423.3 666.8,423.9Q664.3,424.5 661.8,425.3Q659.3,426.2 657.7,425.8Q656,425.3 654.8,423.7ZM682.2,425.3Q682.7,422 687.7,421.8Q692.7,421.7 697.7,421.8Q702.7,422 705.2,423.2Q707.7,424.5 708.5,427.4Q709.3,430.3 708.9,433.7Q708.5,437 707.2,439.5Q706,442 706.8,444.5Q707.7,447 705.2,447.8Q702.7,448.7 699.3,448.7Q696,448.7 694.3,447Q692.7,445.3 691.8,442.8Q691,440.3 688.5,439.5Q686,438.7 684.3,437Q682.7,435.3 682.2,432Q681.8,428.7 682.2,425.3ZM655.6,439.9Q653.5,438.7 653.9,436.2Q654.3,433.7 656,434.1Q657.7,434.5 659.3,435.8Q661,437 664.3,437.4Q667.7,437.8 671,438.7Q674.3,439.5 676.8,440.3Q679.3,441.2 679.8,442.8Q680.2,444.5 678.1,444.1Q676,443.7 672.7,442.8Q669.3,442 666,441.6Q662.7,441.2 660.2,441.2Q657.7,441.2 655.6,439.9ZM625.2,457.7Q623.5,457 624.8,455.8Q626,454.5 628.1,453.7Q630.2,452.8 631.4,453.4Q632.7,454 631.8,455.3Q631,456.7 628.9,457.5Q626.8,458.3 625.2,457.7ZM819.5,476.7Q819.3,475 820.6,474.2Q821.8,473.3 823.5,474.6Q825.2,475.8 826,477.5Q826.8,479.2 825.6,480.8Q824.3,482.5 822.7,482.1Q821,481.7 820.3,480Q819.7,478.3 819.5,476.7Z"/>
</defs>
<path d="M392.7,191L392.2,186.7Q391.8,182.3 391,179Q390.2,175.7 389.8,172.8Q389.3,169.8 391.8,169Q394.3,168.2 396.4,167.8Q398.5,167.3 398.1,169.8Q397.7,172.3 398.9,174.8Q400.2,177.3 401.4,180.7Q402.7,184 404.3,187.5L406,191M406,189L404.3,190.8Q402.7,192.5 400.6,193.3Q398.5,194.2 396.4,193.3Q394.3,192.5 393.5,190.8L392.7,189M399.8,230.2Q399.3,229.2 399.8,227.5Q400.2,225.8 401.8,224.2Q403.5,222.5 405.2,221.7L407,220.8M407,230L404.8,230.8Q402.7,231.7 401.4,231.5Q400.2,231.3 399.8,230.2M405,220.8L407.2,219.6Q409.3,218.3 411.8,217.5Q414.3,216.7 415.6,217.5Q416.8,218.3 416.4,220Q416,221.7 413.5,223.3Q411,225 408.5,227.1Q406,229.2 405.5,229.6L405,230M406.2,254.2Q406.8,252.5 408.1,251.7Q409.3,250.8 411,251.7Q412.7,252.5 413.5,254.6Q414.3,256.7 413.9,259.6Q413.5,262.5 412.2,264.2Q411,265.8 409.3,265Q407.7,264.2 406.8,262.1Q406,260 405.8,257.9Q405.7,255.8 406.2,254.2M899.8,269.6Q900.2,266.7 901,265.8Q901.8,265 903.9,265.2Q906,265.3 906.4,266.8Q906.8,268.3 905.6,270.8Q904.3,273.3 902.7,274.6Q901,275.8 900.2,274.2Q899.3,272.5 899.8,269.6M900.2,269.2Q900.7,266.7 902.3,265.4Q904,264.2 905.7,264.6Q907.3,265 907.2,267.1Q907,269.2 905.5,271.2Q904,273.3 902.8,274.2Q901.5,275 900.7,273.3Q899.8,271.7 900.2,269.2M663.9,311Q664.3,309.3 666.8,308.5Q669.3,307.7 672.7,307.7Q676,307.7 680.2,308.1Q684.3,308.5 688.5,308.9Q692.7,309.3 691.8,311.4Q691,313.5 688.5,315.2Q686,316.8 685.2,318.9Q684.3,321 681.8,322.2Q679.3,323.5 676.8,322.7Q674.3,321.8 671.8,320.6Q669.3,319.3 667.7,317.7Q666,316 664.8,314.3Q663.5,312.7 663.9,311M671,285L669.3,287.2Q667.7,289.3 666,290.2Q664.3,291 663.1,289.8Q661.8,288.5 661.4,286.8L661,285M587.7,383L588.1,380.3Q588.5,377.7 590.6,375.6Q592.7,373.5 596,372.7Q599.3,371.8 603.5,371Q607.7,370.2 611,370.6Q614.3,371 616.8,372.7Q619.3,374.3 620.2,376.8Q621,379.3 621,381.2L621,383M561.8,381L560.6,384Q559.3,387 558.1,389.1Q556.8,391.2 558.1,393.2Q559.3,395.3 561.4,397.8Q563.5,400.3 563.1,403.7Q562.7,407 563.5,410.3Q564.3,413.7 565.2,417Q566,420.3 566.8,422.8Q567.7,425.3 566.8,427Q566,428.7 563.5,429.5Q561,430.3 558.5,431.6Q556,432.8 554.3,434.1Q552.7,435.3 551,434.1Q549.3,432.8 546.8,431.6Q544.3,430.3 541.8,430.8Q539.3,431.2 536.8,431.6Q534.3,432 531,431.6Q527.7,431.2 525.2,430.3Q522.7,429.5 521.4,427.4Q520.2,425.3 520.2,422.4Q520.2,419.5 521.4,417.8Q522.7,416.2 524.3,417.4Q526,418.7 528.5,419.1Q531,419.5 533.5,420.8Q536,422 538.5,422.4Q541,422.8 542.7,421.6Q544.3,420.3 544.3,418.2Q544.3,416.2 542.7,414.5Q541,412.8 537.7,412Q534.3,411.2 531,410.8Q527.7,410.3 526.8,409.1Q526,407.8 527.7,406.6Q529.3,405.3 530.2,402.8Q531,400.3 530.6,397Q530.2,393.7 529.3,390.3Q528.5,387 527.7,384L526.8,381M570.4,444.1Q570.2,442.8 571.4,442.2Q572.7,441.7 574.8,441.8L577,442M577,447L574.8,447.2Q572.7,447.3 571.7,446.3Q570.7,445.3 570.4,444.1M587.7,381M621,381L620.6,384Q620.2,387 618.9,389.5Q617.7,392 615.2,393.2Q612.7,394.5 609.3,394.1Q606,393.7 602.7,394.5Q599.3,395.3 596,396Q592.7,396.7 591,395.6Q589.3,394.5 588.7,391.6Q588,388.7 587.8,384.8L587.7,381M591.8,422.8Q589.3,420.3 591.8,417.8Q594.3,415.3 597.7,413.7Q601,412 605.2,410.8Q609.3,409.5 613.5,408.2Q617.7,407 621,405.8Q624.3,404.5 626,402.4Q627.7,400.3 628.5,398.2Q629.3,396.2 632.7,395.8Q636,395.3 639.3,396.2Q642.7,397 641.4,399.1Q640.2,401.2 638.5,402.8Q636.8,404.5 635.2,407Q633.5,409.5 632.2,412.4Q631,415.3 630.2,417.8Q629.3,420.3 628.5,422.4Q627.7,424.5 626,425.8Q624.3,427 620.2,427.4Q616,427.8 611.8,427Q607.7,426.2 604.3,426.6Q601,427 597.7,426.2Q594.3,425.3 591.8,422.8M727.7,381L727.2,383.2Q726.8,385.3 727.7,387.8Q728.5,390.3 728.1,393.7Q727.7,397 727.2,400.3Q726.8,403.7 727.7,406.2Q728.5,408.7 730.6,409.5Q732.7,410.3 734.5,411.3Q736.3,412.3 736.6,414.5Q736.8,416.7 734.3,417.5Q731.8,418.3 729.8,416.2Q727.7,414 726,412.8Q724.3,411.7 721.8,412.5Q719.3,413.3 716,413.7Q712.7,414 710.2,415.1Q707.7,416.2 706,418.1Q704.3,420 701.8,420.8Q699.3,421.7 696,421.4Q692.7,421.2 688.5,420.9Q684.3,420.7 680.2,420.1Q676,419.5 673.5,418.2Q671,417 670.2,414.9Q669.3,412.8 670.2,410.8Q671,408.7 673.5,407.8Q676,407 679.3,406.6Q682.7,406.2 683.1,404.1Q683.5,402 681.4,401.2Q679.3,400.3 676,400.8Q672.7,401.2 669.3,401.6Q666,402 663.5,400.8Q661,399.5 661.8,397.4Q662.7,395.3 661.8,392.8Q661,390.3 658.5,389.5Q656,388.7 653.5,387.8Q651,387 650.2,384L649.3,381M654.8,423.7Q653.5,422 654.8,420.8Q656,419.5 659.3,419.1Q662.7,418.7 666,418.2Q669.3,417.8 672.7,418.7Q676,419.5 678.1,420.8Q680.2,422 678.1,422.8Q676,423.7 672.7,423.5Q669.3,423.3 666.8,423.9Q664.3,424.5 661.8,425.3Q659.3,426.2 657.7,425.8Q656,425.3 654.8,423.7M682.2,425.3Q682.7,422 687.7,421.8Q692.7,421.7 697.7,421.8Q702.7,422 705.2,423.2Q707.7,424.5 708.5,427.4Q709.3,430.3 708.9,433.7Q708.5,437 707.2,439.5Q706,442 706.8,444.5Q707.7,447 705.2,447.8Q702.7,448.7 699.3,448.7Q696,448.7 694.3,447Q692.7,445.3 691.8,442.8Q691,440.3 688.5,439.5Q686,438.7 684.3,437Q682.7,435.3 682.2,432Q681.8,428.7 682.2,425.3M655.6,439.9Q653.5,438.7 653.9,436.2Q654.3,433.7 656,434.1Q657.7,434.5 659.3,435.8Q661,437 664.3,437.4Q667.7,437.8 671,438.7Q674.3,439.5 676.8,440.3Q679.3,441.2 679.8,442.8Q680.2,444.5 678.1,444.1Q676,443.7 672.7,442.8Q669.3,442 666,441.6Q662.7,441.2 660.2,441.2Q657.7,441.2 655.6,439.9M625.2,457.7Q623.5,457 624.8,455.8Q626,454.5 628.1,453.7Q630.2,452.8 631.4,453.4Q632.7,454 631.8,455.3Q631,456.7 628.9,457.5Q626.8,458.3 625.2,457.7M819.5,476.7Q819.3,475 820.6,474.2Q821.8,473.3 823.5,474.6Q825.2,475.8 826,477.5Q826.8,479.2 825.6,480.8Q824.3,482.5 822.7,482.1Q821,481.7 820.3,480Q819.7,478.3 819.5,476.7" fill="none" stroke="#1a1a1a" stroke-width="2.9" stroke-linecap="round"/>
<use href="#p5" fill="#ffffd4"/>
<defs>
<path id="p6" d="M677.1,312.5Q676.8,311 677.7,310Q678.5,309 680.2,309.2Q681.8,309.3 682.7,310.6Q683.5,311.8 682.9,313.5Q682.3,315.2 680.8,315.6Q679.3,316 678.3,315Q677.3,314 677.1,312.5ZM597.7,383L598.5,381.2Q599.3,379.3 601.8,378.1Q604.3,376.8 607.7,376.4Q611,376 613.9,376.8Q616.8,377.7 617.7,380.3L618.5,383ZM535.6,401.2Q534.3,398.7 535.6,397Q536.8,395.3 539.8,394.3Q542.7,393.3 546,393.5Q549.3,393.7 550.6,395.3Q551.8,397 552.2,399.9Q552.7,402.8 553.9,404.9Q555.2,407 557.2,408.7Q559.3,410.3 560.2,412.4Q561,414.5 559.8,416.2Q558.5,417.8 556.8,417.4Q555.2,417 553.1,414.9Q551,412.8 548.5,411.2Q546,409.5 543.5,407.8Q541,406.2 538.9,404.9Q536.8,403.7 535.6,401.2ZM528.1,423.8Q527.7,422 528.9,421.3Q530.2,420.7 531.8,421.8Q533.5,422.8 535.2,424.2Q536.8,425.7 537.7,426.8Q538.5,427.8 536.8,428.4Q535.2,429 533.1,428.7Q531,428.3 529.8,427Q528.5,425.7 528.1,423.8ZM591.4,393.5Q591,392 591.4,389.5Q591.8,387 593.1,384.9Q594.3,382.8 596,381.9L597.7,381L618.5,381L618.1,384Q617.7,387 616.4,389.1Q615.2,391.2 612.2,391.6Q609.3,392 606,391.8Q602.7,391.7 599.3,393.1Q596,394.5 593.9,394.8Q591.8,395 591.4,393.5ZM593.9,420.6Q591.8,419.5 593.9,417.4Q596,415.3 599.3,413.7Q602.7,412 606.8,410.8Q611,409.5 615.2,408.2Q619.3,407 622.7,405.8Q626,404.5 628.5,403.2Q631,402 633.1,402.4Q635.2,402.8 634.3,404.9Q633.5,407 631.4,408.2Q629.3,409.5 628.5,411.6Q627.7,413.7 626,414.9Q624.3,416.2 621,416.6Q617.7,417 613.5,417.4Q609.3,417.8 606,418.7Q602.7,419.5 599.3,420.6Q596,421.7 593.9,420.6ZM675.2,398.2Q674.3,397 676,395.8Q677.7,394.5 681,393.2Q684.3,392 686.8,390.3Q689.3,388.7 691,387.4Q692.7,386.2 696,385.8Q699.3,385.3 711.8,386.2Q724.3,387 724.8,391.2Q725.2,395.3 725.2,399.5Q725.2,403.7 724.8,406.6Q724.3,409.5 721.8,410.3Q719.3,411.2 716,411.6Q712.7,412 710.2,413.2Q707.7,414.5 706,416.2Q704.3,417.8 701.8,418.7Q699.3,419.5 696,419.5Q692.7,419.5 688.5,419.5Q684.3,419.5 681,418.9Q677.7,418.3 675.2,417.2Q672.7,416.2 671.8,414.5Q671,412.8 671.8,411.2Q672.7,409.5 675.2,408.2Q677.7,407 680.6,406.2Q683.5,405.3 683.9,403.7Q684.3,402 682.7,400.8Q681,399.5 678.5,399.5Q676,399.5 675.2,398.2Z"/>
</defs>
<path d="M677.1,312.5Q676.8,311 677.7,310Q678.5,309 680.2,309.2Q681.8,309.3 682.7,310.6Q683.5,311.8 682.9,313.5Q682.3,315.2 680.8,315.6Q679.3,316 678.3,315Q677.3,314 677.1,312.5M597.7,383L598.5,381.2Q599.3,379.3 601.8,378.1Q604.3,376.8 607.7,376.4Q611,376 613.9,376.8Q616.8,377.7 617.7,380.3L618.5,383M535.6,401.2Q534.3,398.7 535.6,397Q536.8,395.3 539.8,394.3Q542.7,393.3 546,393.5Q549.3,393.7 550.6,395.3Q551.8,397 552.2,399.9Q552.7,402.8 553.9,404.9Q555.2,407 557.2,408.7Q559.3,410.3 560.2,412.4Q561,414.5 559.8,416.2Q558.5,417.8 556.8,417.4Q555.2,417 553.1,414.9Q551,412.8 548.5,411.2Q546,409.5 543.5,407.8Q541,406.2 538.9,404.9Q536.8,403.7 535.6,401.2M528.1,423.8Q527.7,422 528.9,421.3Q530.2,420.7 531.8,421.8Q533.5,422.8 535.2,424.2Q536.8,425.7 537.7,426.8Q538.5,427.8 536.8,428.4Q535.2,429 533.1,428.7Q531,428.3 529.8,427Q528.5,425.7 528.1,423.8M591.4,393.5Q591,392 591.4,389.5Q591.8,387 593.1,384.9Q594.3,382.8 596,381.9L597.7,381M618.5,381L618.1,384Q617.7,387 616.4,389.1Q615.2,391.2 612.2,391.6Q609.3,392 606,391.8Q602.7,391.7 599.3,393.1Q596,394.5 593.9,394.8Q591.8,395 591.4,393.5M593.9,420.6Q591.8,419.5 593.9,417.4Q596,415.3 599.3,413.7Q602.7,412 606.8,410.8Q611,409.5 615.2,408.2Q619.3,407 622.7,405.8Q626,404.5 628.5,403.2Q631,402 633.1,402.4Q635.2,402.8 634.3,404.9Q633.5,407 631.4,408.2Q629.3,409.5 628.5,411.6Q627.7,413.7 626,414.9Q624.3,416.2 621,416.6Q617.7,417 613.5,417.4Q609.3,417.8 606,418.7Q602.7,419.5 599.3,420.6Q596,421.7 593.9,420.6M675.2,398.2Q674.3,397 676,395.8Q677.7,394.5 681,393.2Q684.3,392 686.8,390.3Q689.3,388.7 691,387.4Q692.7,386.2 696,385.8Q699.3,385.3 711.8,386.2Q724.3,387 724.8,391.2Q725.2,395.3 725.2,399.5Q725.2,403.7 724.8,406.6Q724.3,409.5 721.8,410.3Q719.3,411.2 716,411.6Q712.7,412 710.2,413.2Q707.7,414.5 706,416.2Q704.3,417.8 701.8,418.7Q699.3,419.5 696,419.5Q692.7,419.5 688.5,419.5Q684.3,419.5 681,418.9Q677.7,418.3 675.2,417.2Q672.7,416.2 671.8,414.5Q671,412.8 671.8,411.2Q672.7,409.5 675.2,408.2Q677.7,407 680.6,406.2Q683.5,405.3 683.9,403.7Q684.3,402 682.7,400.8Q681,399.5 678.5,399.5Q676,399.5 675.2,398.2" fill="none" stroke="#1a1a1a" stroke-width="2.9" stroke-linecap="round"/>
<use href="#p6" fill="url(#dots)"/>
<clipPath id="cp6"><use href="#p6"/></clipPath>
<use href="#borders" clip-path="url(#cp6)"/>
<defs>
<path id="p7" d="M680.2,388.4Q678.5,387.8 679.3,385.8Q680.2,383.7 681.4,382.3L682.7,381L721,381L720.2,382.2Q719.3,383.3 714.3,383.7Q709.3,384 704.3,383.8Q699.3,383.7 696,384.1Q692.7,384.5 689.3,385.8Q686,387 683.9,388Q681.8,389 680.2,388.4Z"/>
</defs>
<path d="M680.2,388.4Q678.5,387.8 679.3,385.8Q680.2,383.7 681.4,382.3L682.7,381M721,381L720.2,382.2Q719.3,383.3 714.3,383.7Q709.3,384 704.3,383.8Q699.3,383.7 696,384.1Q692.7,384.5 689.3,385.8Q686,387 683.9,388Q681.8,389 680.2,388.4" fill="none" stroke="#1a1a1a" stroke-width="2.9" stroke-linecap="round"/>
<use href="#p7" fill="#fed98e"/>
<defs>
<path id="p8" d="M307.7,93L308.1,101.8Q308.5,110.7 308.1,114.8Q307.7,119 306.8,125.7Q306,132.3 305.2,136.5Q304.3,140.7 305.2,144.8Q306,149 306.4,152.8Q306.8,156.5 305.8,157.9Q304.7,159.3 302.4,157.7Q300.2,156 296.8,155.4Q293.5,154.8 291.6,156.5Q289.7,158.2 288.5,161.1Q287.3,164 286.2,167.1Q285.2,170.2 284.2,169.6Q283.2,169 283.8,166.5Q284.3,164 285.3,160.7Q286.3,157.3 285.8,153.2Q285.2,149 283.5,146.9Q281.8,144.8 278.5,146.2Q275.2,147.7 271.8,148.8Q268.5,149.8 269.8,146.1Q271,142.3 272.2,138.6Q273.5,134.8 273.8,132.3Q274,129.8 274.6,128.2Q275.2,126.5 280.2,126.1Q285.2,125.7 287.2,124Q289.3,122.3 291.4,118.2Q293.5,114 294.3,103.5L295.2,93ZM349.3,93L350.2,101Q351,109 352.7,112.3Q354.3,115.7 356.8,119.8Q359.3,124 363.5,126.9Q367.7,129.8 370.2,132.8Q372.7,135.7 374.8,139.8Q376.8,144 377.7,147.3Q378.5,150.7 378.1,154Q377.7,157.3 376.4,160.7Q375.2,164 374.8,166.9Q374.3,169.8 371,170.1Q367.7,170.3 363.5,170.7Q359.3,171 355.2,172.5Q351,174 346.8,175.2Q342.7,176.5 338.5,177.3Q334.3,178.2 330.2,177.3Q326,176.5 322.7,174.8Q319.3,173.2 318.1,170.2Q316.8,167.3 317.2,164Q317.7,160.7 318.9,156.5Q320.2,152.3 321.8,149Q323.5,145.7 326.4,143.2Q329.3,140.7 332.7,138.2Q336,135.7 338.5,133.6Q341,131.5 341.4,127.8Q341.8,124 341,120.7Q340.2,117.3 338.9,115.2Q337.7,113.2 335.2,112.8Q332.7,112.3 330.6,114Q328.5,115.7 327.2,116.5Q326,117.3 324.8,115.7Q323.5,114 322.9,111.5Q322.3,109 322.1,101L321.8,93ZM407,93L407,150.7L404.8,153.2Q402.7,155.7 401.8,156.9Q401,158.2 398.5,156.1Q396,154 392.7,152.8Q389.3,151.5 388.1,149.4Q386.8,147.3 389.8,144.8Q392.7,142.3 393.1,139Q393.5,135.7 392.7,132.3Q391.8,129 389.3,126.1Q386.8,123.2 384.3,120.2Q381.8,117.3 379.3,113.6Q376.8,109.8 375.2,101.4L373.5,93ZM482.7,93L481.8,99.8Q481,106.5 477.7,109Q474.3,111.5 472.7,114.4Q471,117.3 469.8,119.8Q468.5,122.3 465.6,124.8Q462.7,127.3 460.2,129.4Q457.7,131.5 455.2,132.1Q452.7,132.7 449.3,132.3Q446,132 442.7,132Q439.3,132 435.2,132.2Q431,132.3 428.5,134Q426,135.7 423.5,138.2Q421,140.7 417.7,143.2Q414.3,145.7 411.8,147.8Q409.3,149.8 407.2,151.1L405,152.3L405,93ZM421,191L421.4,189.2Q421.8,187.3 423.1,186.7Q424.3,186 425.6,186.5Q426.8,187 427.4,189L428,191ZM664.8,153.2Q665.2,150.7 666,148.2Q666.8,145.7 668.9,144Q671,142.3 673.5,141.5Q676,140.7 678.1,141.5Q680.2,142.3 681.4,144Q682.7,145.7 681,146.9Q679.3,148.2 680.6,149.8Q681.8,151.5 683.1,152.8Q684.3,154 683.5,156.5Q682.7,159 681,160.7Q679.3,162.3 677.2,163.2Q675.2,164 672.2,163.2Q669.3,162.3 667.2,161.5Q665.2,160.7 664.8,158.2Q664.3,155.7 664.8,153.2ZM943.2,180.7L954,180.3L954.8,176.5L960.7,174.8L964.8,169.8L968.7,166.5L968.7,159L973.2,149L978.2,142L984,134L987.3,134.8L988.7,138.7L996.5,135.3L1000.3,137.3L1003.7,142.3L1004,164L1008.2,169L1009.8,178.2L1014,181.5L1015.7,184.8L1012.3,189L1009,191L943.2,191ZM369.3,287L370.6,282.7Q371.8,278.3 372.7,275Q373.5,271.7 375.6,268.8Q377.7,265.8 378.5,262.5Q379.3,259.2 380,258.3Q380.7,257.5 381.2,258.8Q381.8,260 382.7,262.9Q383.5,265.8 385.2,267.9Q386.8,270 387.7,273.3Q388.5,276.7 389.3,280Q390.2,283.3 390.6,285.2L391,287ZM532.5,240.8Q532.7,239.2 533.9,238.8Q535.2,238.3 535.6,239.6Q536,240.8 535.2,242.1Q534.3,243.3 533.3,242.9Q532.3,242.5 532.5,240.8ZM427.7,189L427.2,191.2Q426.8,193.3 427.2,195.8Q427.7,198.3 430.2,199.6Q432.7,200.8 434.8,202.1Q436.8,203.3 437.7,205.8Q438.5,208.3 439.8,210.8Q441,213.3 441.8,215.8Q442.7,218.3 441.8,219.2Q441,220 438.9,217.5Q436.8,215 434.8,215.8Q432.7,216.7 431.8,219.2Q431,221.7 431.4,224.6Q431.8,227.5 433.5,229.6Q435.2,231.7 438.9,232.3Q442.7,233 446,233.2Q449.3,233.3 450.6,234.2Q451.8,235 452.2,237.5Q452.7,240 456,239.6Q459.3,239.2 461.8,239.2Q464.3,239.2 466,240.4Q467.7,241.7 469.3,241.2Q471,240.8 473.5,242.1Q476,243.3 478.5,245Q481,246.7 483.9,249.2Q486.8,251.7 488.1,254.2Q489.3,256.7 491,260Q492.7,263.3 493.9,264.6Q495.2,265.8 496,267.9Q496.8,270 496.4,273.3Q496,276.7 496.4,279.2Q496.8,281.7 496.8,284.3L496.8,287L461,287L461.8,284.8Q462.7,282.5 464.3,279.6Q466,276.7 467.7,274.2Q469.3,271.7 470.6,269.2Q471.8,266.7 473.1,265.4Q474.3,264.2 476,265Q477.7,265.8 479.3,267.1Q481,268.3 481.8,265.8Q482.7,263.3 482.2,260.8Q481.8,258.3 480.6,256.2Q479.3,254.2 476,255Q472.7,255.8 468.5,257.1Q464.3,258.3 460.2,260Q456,261.7 451.8,262.9Q447.7,264.2 443.5,265Q439.3,265.8 435.2,266.2Q431,266.7 428.5,267.5Q426,268.3 424.3,266.7Q422.7,265 422.2,262.5Q421.8,260 422.2,256.7Q422.7,253.3 422.2,250Q421.8,246.7 422.7,244.2Q423.5,241.7 424.3,239.2Q425.2,236.7 423.9,233.3Q422.7,230 421.8,226.7Q421,223.3 421.4,220.4Q421.8,217.5 421,214.6Q420.2,211.7 418.5,209.2Q416.8,206.7 416.4,203.3Q416,200 418.5,197.5Q421,195 421.4,192L421.8,189ZM409.3,287L409.2,285.2Q409,283.3 408.8,280Q408.7,276.7 409.8,275.4Q411,274.2 412.7,273.8Q414.3,273.3 417.7,273.3Q421,273.3 424.3,274Q427.7,274.7 431.8,275.7Q436,276.7 439.8,276.2Q443.5,275.8 442.7,278.3Q441.8,280.8 440.6,283.9L439.3,287ZM682.7,281.7Q680.2,280.8 681.4,277.9Q682.7,275 684.8,272.1Q686.8,269.2 689.8,267.1Q692.7,265 695.6,262.5Q698.5,260 701,257.1Q703.5,254.2 704.8,250.4Q706,246.7 705.8,242.5Q705.7,238.3 705.2,234.2Q704.7,230 705.3,227.9Q706,225.8 707.7,225.4Q709.3,225 710.6,227.1Q711.8,229.2 712.2,232.5Q712.7,235.8 713.1,238.8Q713.5,241.7 715.2,244.2Q716.8,246.7 719.8,245.8Q722.7,245 724.8,244.2Q726.8,243.3 727.7,245Q728.5,246.7 727.2,248.8Q726,250.8 728.5,253.3Q731,255.8 732.7,258.8Q734.3,261.7 735.6,265.8Q736.8,270 738.5,274.2Q740.2,278.3 739.3,280Q738.5,281.7 735.6,281.2Q732.7,280.8 729.3,281.2Q726,281.7 723.5,280.8Q721,280 719.3,283.5L717.7,287L700.2,287L699.8,282.7Q699.3,278.3 698.9,275.8Q698.5,273.3 696.8,272.5Q695.2,271.7 693.9,273.8Q692.7,275.8 691,277.9Q689.3,280 687.2,281.2Q685.2,282.5 682.7,281.7ZM635.2,287L636.8,284.3Q638.5,281.7 640.2,280.4Q641.8,279.2 643.5,279.6Q645.2,280 646,282.1Q646.8,284.2 646.4,285.6L646,287ZM753.5,207.5Q753.5,205 755.6,204.2Q757.7,203.3 761,202.9Q764.3,202.5 767.7,202.8Q771,203 773.9,203.6Q776.8,204.2 778.1,206.2Q779.3,208.3 778.9,210Q778.5,211.7 776.8,212.1Q775.2,212.5 773.1,210.8Q771,209.2 767.7,209.2Q764.3,209.2 761.4,210Q758.5,210.8 756.8,212.1Q755.2,213.3 754.3,211.7Q753.5,210 753.5,207.5ZM793.9,206.7Q793.5,205.8 794.3,203.8Q795.2,201.7 796.8,201Q798.5,200.3 799.8,201.4Q801,202.5 800.6,204.2Q800.2,205.8 798.5,206.9Q796.8,208 795.6,207.8Q794.3,207.5 793.9,206.7ZM748.5,260.4Q748.5,258.3 750.6,257.5Q752.7,256.7 756.8,256Q761,255.3 765.2,254.5Q769.3,253.7 773.5,252.2Q777.7,250.8 781.8,248.8Q786,246.7 790.2,245.2Q794.3,243.7 796.8,244.2Q799.3,244.7 798.1,246.9Q796.8,249.2 794.8,251.2Q792.7,253.3 790.2,255.8Q787.7,258.3 785.2,260.8Q782.7,263.3 780.2,265.4Q777.7,267.5 775.2,268.8Q772.7,270 770.2,270.7Q767.7,271.3 766,269.8Q764.3,268.3 761,267.5Q757.7,266.7 754.3,266.2Q751,265.8 749.8,264.2Q748.5,262.5 748.5,260.4ZM906,255.1Q905.2,254.2 906,252.8Q906.8,251.3 908.5,250.8Q910.2,250.3 911.4,251.2Q912.7,252 912.7,253.5Q912.7,255 911.4,255.7Q910.2,256.3 908.5,256.2Q906.8,256 906,255.1ZM849.3,287L850.2,285.8Q851,284.7 852.7,284.2Q854.3,283.7 856,284.3Q857.7,285 858.1,286L858.5,287ZM905.9,254.2Q905.3,252.5 906.8,251.4Q908.2,250.3 909.8,250.8Q911.5,251.3 912.1,252.8Q912.7,254.2 911.2,255.2Q909.8,256.3 908.2,256.1Q906.5,255.8 905.9,254.2ZM1010.7,189L1010.7,190L987.3,200L980.7,205L965.7,213.3L964.8,216.3L961.9,215.7Q959,215 954.8,214.2Q950.7,213.3 946.3,212.5L942,211.7L942,189ZM391.8,285L392.2,288Q392.7,291 391.8,293.5Q391,296 389.3,298.9Q387.7,301.8 388.9,303.9Q390.2,306 391.4,308.5Q392.7,311 393.1,313.5Q393.5,316 394.8,318.5Q396,321 398.5,321.8Q401,322.7 404,322.2L407,321.8L407,383L392.7,383L391,381.2Q389.3,379.3 386,377.7Q382.7,376 380.2,373.5Q377.7,371 376.8,367.7Q376,364.3 376,361Q376,357.7 377.2,354.8Q378.5,351.8 380.6,350.2Q382.7,348.5 384.8,346.4Q386.8,344.3 387.2,341Q387.7,337.7 387.2,334.3Q386.8,331 384.8,328.9Q382.7,326.8 380.2,325.2Q377.7,323.5 375.2,323.1Q372.7,322.7 370.2,323.9Q367.7,325.2 365.6,327.2Q363.5,329.3 361.4,330.6Q359.3,331.8 354.3,330.2Q349.3,328.5 344.3,327.2Q339.3,326 338.9,322.7Q338.5,319.3 337.7,316Q336.8,312.7 337.2,310.2Q337.7,307.7 341,305.6Q344.3,303.5 348.5,301.4Q352.7,299.3 356.8,296.8Q361,294.3 363.5,292.2Q366,290.2 367.2,287.6L368.5,285ZM572.7,375.6Q571.8,373.5 573.1,372.7Q574.3,371.8 575.7,371.8L577,371.8L577,378.5L575.2,378.1Q573.5,377.7 572.7,375.6ZM405,285L440.2,285L441,288.8Q441.8,292.7 442.7,296Q443.5,299.3 444.8,301.8Q446,304.3 444.3,306Q442.7,307.7 440.2,308.3Q437.7,309 434.3,309.2Q431,309.3 428.9,309.8Q426.8,310.2 424.8,311.8Q422.7,313.5 422.7,315.2Q422.7,316.8 424.3,318.1Q426,319.3 428.5,319.8Q431,320.2 433.5,321Q436,321.8 438.5,323.1Q441,324.3 444.3,325Q447.7,325.7 451.8,326.2Q456,326.8 460.2,327.1Q464.3,327.3 467.2,327.1Q470.2,326.8 471,328.5Q471.8,330.2 472.2,332.7Q472.7,335.2 473.3,337.7Q474,340.2 472.9,341.8Q471.8,343.5 470.4,344.3Q469,345.2 470.8,344.8Q472.7,344.3 475.2,342.7Q477.7,341 479.3,338.5Q481,336 482.7,333.9Q484.3,331.8 486,330.4Q487.7,329 489.3,329Q491,329 492.2,330.4Q493.5,331.8 493.1,333.9Q492.7,336 491,337.7Q489.3,339.3 488.5,341.8Q487.7,344.3 488.1,346.8Q488.5,349.3 488.1,351.8Q487.7,354.3 488.5,357.7Q489.3,361 490.2,365.2Q491,369.3 491.4,372.7Q491.8,376 492.2,379.5L492.7,383L405,383ZM484.3,285L483.9,287.2Q483.5,289.3 481.4,291Q479.3,292.7 476.8,292.2Q474.3,291.8 473.9,293.9Q473.5,296 472.7,299.3Q471.8,302.7 470.6,305Q469.3,307.3 468.1,304.6Q466.8,301.8 465.6,298.9Q464.3,296 463.1,293.5Q461.8,291 461.4,288L461,285ZM649.3,285L650.6,286.3Q651.8,287.7 653.1,289.3Q654.3,291 655.2,293.1Q656,295.2 655.2,297.2Q654.3,299.3 655.2,301.8Q656,304.3 656.8,306.8Q657.7,309.3 659.3,311.4Q661,313.5 662.7,313.9Q664.3,314.3 665.6,316Q666.8,317.7 665.6,319.3Q664.3,321 662.7,322.2Q661,323.5 661.8,325.2Q662.7,326.8 664.3,325.6Q666,324.3 667.7,323.5Q669.3,322.7 671.8,323.1Q674.3,323.5 676,324.8Q677.7,326 680.2,326.8Q682.7,327.7 685.2,326.8Q687.7,326 689.3,324.8Q691,323.5 692.7,323.5Q694.3,323.5 695.2,324.3Q696,325.2 695.6,327.2Q695.2,329.3 694.8,331.4Q694.3,333.5 693.1,335.6Q691.8,337.7 689.8,339.3Q687.7,341 685.2,341.4Q682.7,341.8 680.2,341Q677.7,340.2 676.4,338.1Q675.2,336 673.9,333.9Q672.7,331.8 671,330.6Q669.3,329.3 666.8,328.9Q664.3,328.5 661.8,327.2Q659.3,326 657.7,323.9Q656,321.8 654.3,319.3Q652.7,316.8 651,313.9Q649.3,311 648.5,308.1Q647.7,305.2 646.8,302.7Q646,300.2 644.8,298.1Q643.5,296 641.4,294.8Q639.3,293.5 638.1,291.4Q636.8,289.3 636.4,287.2L636,285ZM695.6,315.8Q693.5,315.2 694.8,313.1Q696,311 697.2,310.2Q698.5,309.3 699.8,311Q701,312.7 701.4,314.2Q701.8,315.7 699.8,316Q697.7,316.3 695.6,315.8ZM712.7,285L711.8,286.8Q711,288.5 708.5,288.9Q706,289.3 703.5,288.7Q701,288 700.2,286.5L699.3,285ZM576.8,358.8Q576.3,356.8 576.8,355.2Q577.3,353.5 578.8,353.1Q580.2,352.7 582.2,353.5Q584.3,354.3 586,356Q587.7,357.7 590.2,358.5Q592.7,359.3 596,358.5Q599.3,357.7 602.7,356.8Q606,356 610.2,355.8Q614.3,355.7 616.8,356.2Q619.3,356.8 618.5,358.5Q617.7,360.2 615.2,361.4Q612.7,362.7 610.2,363.5Q607.7,364.3 605.2,366Q602.7,367.7 600.2,368.1Q597.7,368.5 595.2,367.2Q592.7,366 589.3,365.2Q586,364.3 583.5,363.1Q581,361.8 579.2,361.2Q577.3,360.7 576.8,358.8ZM575,371.8L577.2,371.6Q579.3,371.3 581.4,372Q583.5,372.7 583.9,374.3Q584.3,376 582.7,377.2Q581,378.5 578.5,378.5Q576,378.5 575.5,378.5L575,378.5ZM628.1,379.5Q627.7,376 628.1,373.9Q628.5,371.8 630.2,371Q631.8,370.2 634.3,370.6Q636.8,371 638.5,372.2Q640.2,373.5 639.8,375.6Q639.3,377.7 637.7,379.3Q636,381 634.8,382L633.5,383L628.5,383L628.1,379.5ZM703.8,373.5Q703.5,371 704.3,368.5Q705.2,366 706.8,364.3Q708.5,362.7 709.8,363.5Q711,364.3 711.8,366.4Q712.7,368.5 713.9,370.6Q715.2,372.7 714.8,375.2Q714.3,377.7 712.7,378.9Q711,380.2 708.9,379.8Q706.8,379.3 705.4,377.7Q704,376 703.8,373.5ZM725.4,358.7Q725.2,357.7 726,356.8Q726.8,356 728.1,356.2Q729.3,356.3 729.8,357.4Q730.2,358.5 729.1,359.3Q728,360.2 726.8,359.9Q725.7,359.7 725.4,358.7ZM861,285L860.6,287.2Q860.2,289.3 859.3,291.4Q858.5,293.5 857.2,295.6Q856,297.7 854.3,299.8Q852.7,301.8 851,302.7Q849.3,303.5 847.7,302.7Q846,301.8 844.3,300.2Q842.7,298.5 842,296.4Q841.3,294.3 842,292.7Q842.7,291 844.3,289.3Q846,287.7 847.7,286.3L849.3,285ZM863.1,305.3Q861,304.3 861.8,301.8Q862.7,299.3 863.9,297.2Q865.2,295.2 866.8,293.5Q868.5,291.8 870.6,290.8Q872.7,289.7 874.3,290.3Q876,291 876.4,293.1Q876.8,295.2 876,297.7Q875.2,300.2 874.3,302.2Q873.5,304.3 871.8,305.3Q870.2,306.3 867.7,306.3Q865.2,306.3 863.1,305.3ZM868.1,345.4Q868,343.5 868.5,341.6Q869,339.7 870.2,338.8Q871.3,338 872.7,338.5Q874,339 874.2,340.8Q874.3,342.7 873.5,344.8Q872.7,346.8 871.4,347.9Q870.2,349 869.2,348.2Q868.2,347.3 868.1,345.4ZM774.3,383L775.2,380.8Q776,378.5 777.7,376.8Q779.3,375.2 781.4,374.8Q783.5,374.3 784.8,375.6Q786,376.8 785.6,378.9Q785.2,381 784.3,382L783.5,383ZM407,381L407,412L384.3,402.8L385.2,400.8Q386,398.7 387.2,395.8Q388.5,392.8 389.3,389.9Q390.2,387 391.4,384L392.7,381ZM405,381L491,381L491.8,384Q492.7,387 493.5,389.9Q494.3,392.8 495.6,394.1Q496.8,395.3 499.8,394.5Q502.7,393.7 505.2,392Q507.7,390.3 510.2,389.5Q512.7,388.7 515.2,389.5Q517.7,390.3 520.2,392.4Q522.7,394.5 523.9,396.6Q525.2,398.7 525.6,401.2Q526,403.7 524.3,405.3Q522.7,407 520.6,407.8Q518.5,408.7 517.2,410.8Q516,412.8 515.6,415.8Q515.2,418.7 515.6,422Q516,425.3 516.8,427.8Q517.7,430.3 518.5,432Q519.3,433.7 522.7,434.1Q526,434.5 529.3,434.2Q532.7,434 535.2,433.8Q537.7,433.7 538.5,435.3Q539.3,437 541.8,437.8Q544.3,438.7 547.7,439.5Q551,440.3 553.5,441.6Q556,442.8 558.5,444.5Q561,446.2 561.8,448.2Q562.7,450.3 564.3,450.8Q566,451.2 569.3,451.6Q572.7,452 574.8,452L577,452L577,479L405,479ZM575,448.7L576.3,447Q577.7,445.3 580.2,443.7Q582.7,442 586,440.8Q589.3,439.5 591.8,438.2Q594.3,437 596,435.3Q597.7,433.7 600.2,432.4Q602.7,431.2 605.2,431.6Q607.7,432 609.3,433.7Q611,435.3 614.3,435.5Q617.7,435.7 621,434.7Q624.3,433.7 627.7,432.4Q631,431.2 634.3,430.3Q637.7,429.5 641,429.2Q644.3,429 645.6,430.5Q646.8,432 646.8,434.5Q646.8,437 645.6,438.7Q644.3,440.3 642.2,439.9Q640.2,439.5 638.1,438.2Q636,437 633.5,436.6Q631,436.2 628.9,437Q626.8,437.8 626.4,439.5Q626,441.2 627.7,442Q629.3,442.8 631,444.1Q632.7,445.3 632.2,446.6Q631.8,447.8 628.9,449.1Q626,450.3 623.5,451.6Q621,452.8 618.5,454.5Q616,456.2 613.5,457.8Q611,459.5 608.5,460.8Q606,462 604.8,463.2Q603.5,464.5 604.8,465.8Q606,467 607.2,468.2Q608.5,469.5 608.9,471.2Q609.3,472.8 608.9,474.1Q608.5,475.3 607.7,477.2L606.8,479L575,479ZM649.8,394.9Q648.5,393.7 649.3,391.6Q650.2,389.5 651.4,388.7Q652.7,387.8 654.3,388.7Q656,389.5 655.2,391.6Q654.3,393.7 652.7,394.9Q651,396.2 649.8,394.9ZM657.6,410.8Q657.2,409.5 657.8,408.2Q658.5,407 661,407Q663.5,407 665.6,407.7Q667.7,408.3 667.2,410Q666.8,411.7 664.3,412.2Q661.8,412.8 659.9,412.4Q658,412 657.6,410.8ZM642.1,420.8Q640.7,419.5 641.2,417.8Q641.8,416.2 643.9,415.8Q646,415.3 648.1,416.6Q650.2,417.8 651,419.5Q651.8,421.2 650.2,422.2Q648.5,423.3 646,422.7Q643.5,422 642.1,420.8ZM669.8,431.3Q668.5,430.3 669.3,429.1Q670.2,427.8 673.1,427.6Q676,427.3 678.5,427.8Q681,428.3 681.4,429.5Q681.8,430.7 678.9,431.3Q676,432 673.5,432.2Q671,432.3 669.8,431.3ZM579.3,404.5Q578.5,403.7 579.3,401.2Q580.2,398.7 581.8,397.4Q583.5,396.2 585.6,396.6Q587.7,397 588.5,398.7Q589.3,400.3 588.9,402.4Q588.5,404.5 586.4,404.9Q584.3,405.3 582.2,405.3Q580.2,405.3 579.3,404.5ZM636.8,381L636.4,381.9Q636,382.8 634.8,383.7Q633.5,384.5 631.8,384.1Q630.2,383.7 629.3,382.3L628.5,381ZM729.8,408.2Q726.8,407 727.7,404.5Q728.5,402 729.3,399.5Q730.2,397 729.8,394.5Q729.3,392 730.2,390.2Q731.2,388.3 733.2,387.7Q735.2,387 737.7,387.2Q740.2,387.5 743.6,387.9L747,388.3L747,423.7L745.7,422Q744.3,420.3 742.7,417.8Q741,415.3 739.3,413.7Q737.7,412 735.2,410.8Q732.7,409.5 729.8,408.2ZM745,388.3L748.8,388.2Q752.7,388 757.6,389Q762.5,390 764.2,388Q766,386 769,383.5L772,381L786,381L785.5,382.3Q785,383.7 784.3,385.6Q783.7,387.5 782.4,388.8Q781.2,390 787.8,392.2Q794.3,394.5 800.9,394.1Q807.5,393.7 808.8,396.2Q810.2,398.7 810.7,401.8Q811.2,405 812.4,406.8Q813.7,408.7 815.6,410.6Q817.5,412.5 818.1,415Q818.7,417.5 818.2,420.2Q817.7,422.8 816.8,425.3Q816,427.8 814.3,429.9Q812.7,432 811,434.1Q809.3,436.2 808.1,438.2Q806.8,440.3 805.6,442Q804.3,443.7 801,444.1Q797.7,444.5 796,442.8Q794.3,441.2 792.7,439.9Q791,438.7 789.3,439.1L787.7,439.5L764.3,440.3L759.3,435.7L756.8,433.4Q754.3,431.2 751.8,429.1Q749.3,427 747.2,425.3L745,423.7ZM807.2,397.4Q807.7,394.5 809.3,393.2Q811,392 812.7,392.4Q814.3,392.8 816,391.2Q817.7,389.5 819.3,387.8Q821,386.2 823.1,385.8Q825.2,385.3 826.2,386.6Q827.3,387.8 826.7,389.5Q826,391.2 823.9,392.4Q821.8,393.7 820.2,395.3Q818.5,397 816.8,398.7Q815.2,400.3 813.9,402.4Q812.7,404.5 811.4,405.8Q810.2,407 808.9,406.2Q807.7,405.3 807.2,402.8Q806.8,400.3 807.2,397.4ZM606.7,475.8L606.3,478.3L605.7,480Q605,481.7 602.5,482.9Q600,484.2 597.5,485.4Q595,486.7 592.9,487.9Q590.8,489.2 590.4,490.8Q590,492.5 587.1,491.7L584.2,490.8L582.5,486.7L580,481.7L577.5,475.8ZM708,176.4Q707.7,175.2 708.7,173.7Q709.7,172.2 711.4,170.8Q713.1,169.3 715.8,169.1Q718.5,168.8 721.9,168.7Q725.3,168.5 727.7,168.7Q730.2,168.8 732.1,170Q734.1,171.2 735.6,172.7Q737,174.2 738,175.6Q739,177.1 738.5,178.1Q738,179.1 736.5,179.6Q735.1,180.2 732.6,180.4Q730.2,180.5 729.2,181.7Q728.2,183 727.7,184.4Q727.2,185.9 726,186.9Q724.8,187.9 723.3,188.1Q721.9,188.3 720.2,187.1Q718.5,185.9 716.5,184.4Q714.6,183 712.6,181.5Q710.6,180 709.4,178.8Q708.2,177.6 708,176.4Z"/>
</defs>
<path d="M307.7,93L308.1,101.8Q308.5,110.7 308.1,114.8Q307.7,119 306.8,125.7Q306,132.3 305.2,136.5Q304.3,140.7 305.2,144.8Q306,149 306.4,152.8Q306.8,156.5 305.8,157.9Q304.7,159.3 302.4,157.7Q300.2,156 296.8,155.4Q293.5,154.8 291.6,156.5Q289.7,158.2 288.5,161.1Q287.3,164 286.2,167.1Q285.2,170.2 284.2,169.6Q283.2,169 283.8,166.5Q284.3,164 285.3,160.7Q286.3,157.3 285.8,153.2Q285.2,149 283.5,146.9Q281.8,144.8 278.5,146.2Q275.2,147.7 271.8,148.8Q268.5,149.8 269.8,146.1Q271,142.3 272.2,138.6Q273.5,134.8 273.8,132.3Q274,129.8 274.6,128.2Q275.2,126.5 280.2,126.1Q285.2,125.7 287.2,124Q289.3,122.3 291.4,118.2Q293.5,114 294.3,103.5L295.2,93M349.3,93L350.2,101Q351,109 352.7,112.3Q354.3,115.7 356.8,119.8Q359.3,124 363.5,126.9Q367.7,129.8 370.2,132.8Q372.7,135.7 374.8,139.8Q376.8,144 377.7,147.3Q378.5,150.7 378.1,154Q377.7,157.3 376.4,160.7Q375.2,164 374.8,166.9Q374.3,169.8 371,170.1Q367.7,170.3 363.5,170.7Q359.3,171 355.2,172.5Q351,174 346.8,175.2Q342.7,176.5 338.5,177.3Q334.3,178.2 330.2,177.3Q326,176.5 322.7,174.8Q319.3,173.2 318.1,170.2Q316.8,167.3 317.2,164Q317.7,160.7 318.9,156.5Q320.2,152.3 321.8,149Q323.5,145.7 326.4,143.2Q329.3,140.7 332.7,138.2Q336,135.7 338.5,133.6Q341,131.5 341.4,127.8Q341.8,124 341,120.7Q340.2,117.3 338.9,115.2Q337.7,113.2 335.2,112.8Q332.7,112.3 330.6,114Q328.5,115.7 327.2,116.5Q326,117.3 324.8,115.7Q323.5,114 322.9,111.5Q322.3,109 322.1,101L321.8,93M407,93M407,150.7L404.8,153.2Q402.7,155.7 401.8,156.9Q401,158.2 398.5,156.1Q396,154 392.7,152.8Q389.3,151.5 388.1,149.4Q386.8,147.3 389.8,144.8Q392.7,142.3 393.1,139Q393.5,135.7 392.7,132.3Q391.8,129 389.3,126.1Q386.8,123.2 384.3,120.2Q381.8,117.3 379.3,113.6Q376.8,109.8 375.2,101.4L373.5,93M482.7,93L481.8,99.8Q481,106.5 477.7,109Q474.3,111.5 472.7,114.4Q471,117.3 469.8,119.8Q468.5,122.3 465.6,124.8Q462.7,127.3 460.2,129.4Q457.7,131.5 455.2,132.1Q452.7,132.7 449.3,132.3Q446,132 442.7,132Q439.3,132 435.2,132.2Q431,132.3 428.5,134Q426,135.7 423.5,138.2Q421,140.7 417.7,143.2Q414.3,145.7 411.8,147.8Q409.3,149.8 407.2,151.1L405,152.3M405,93M421,191L421.4,189.2Q421.8,187.3 423.1,186.7Q424.3,186 425.6,186.5Q426.8,187 427.4,189L428,191M664.8,153.2Q665.2,150.7 666,148.2Q666.8,145.7 668.9,144Q671,142.3 673.5,141.5Q676,140.7 678.1,141.5Q680.2,142.3 681.4,144Q682.7,145.7 681,146.9Q679.3,148.2 680.6,149.8Q681.8,151.5 683.1,152.8Q684.3,154 683.5,156.5Q682.7,159 681,160.7Q679.3,162.3 677.2,163.2Q675.2,164 672.2,163.2Q669.3,162.3 667.2,161.5Q665.2,160.7 664.8,158.2Q664.3,155.7 664.8,153.2M943.2,180.7L954,180.3L954.8,176.5L960.7,174.8L964.8,169.8L968.7,166.5L968.7,159L973.2,149L978.2,142L984,134L987.3,134.8L988.7,138.7L996.5,135.3L1000.3,137.3L1003.7,142.3L1004,164L1008.2,169L1009.8,178.2L1014,181.5L1015.7,184.8L1012.3,189L1009,191L943.2,191L943.2,180.7M369.3,287L370.6,282.7Q371.8,278.3 372.7,275Q373.5,271.7 375.6,268.8Q377.7,265.8 378.5,262.5Q379.3,259.2 380,258.3Q380.7,257.5 381.2,258.8Q381.8,260 382.7,262.9Q383.5,265.8 385.2,267.9Q386.8,270 387.7,273.3Q388.5,276.7 389.3,280Q390.2,283.3 390.6,285.2L391,287M532.5,240.8Q532.7,239.2 533.9,238.8Q535.2,238.3 535.6,239.6Q536,240.8 535.2,242.1Q534.3,243.3 533.3,242.9Q532.3,242.5 532.5,240.8M427.7,189L427.2,191.2Q426.8,193.3 427.2,195.8Q427.7,198.3 430.2,199.6Q432.7,200.8 434.8,202.1Q436.8,203.3 437.7,205.8Q438.5,208.3 439.8,210.8Q441,213.3 441.8,215.8Q442.7,218.3 441.8,219.2Q441,220 438.9,217.5Q436.8,215 434.8,215.8Q432.7,216.7 431.8,219.2Q431,221.7 431.4,224.6Q431.8,227.5 433.5,229.6Q435.2,231.7 438.9,232.3Q442.7,233 446,233.2Q449.3,233.3 450.6,234.2Q451.8,235 452.2,237.5Q452.7,240 456,239.6Q459.3,239.2 461.8,239.2Q464.3,239.2 466,240.4Q467.7,241.7 469.3,241.2Q471,240.8 473.5,242.1Q476,243.3 478.5,245Q481,246.7 483.9,249.2Q486.8,251.7 488.1,254.2Q489.3,256.7 491,260Q492.7,263.3 493.9,264.6Q495.2,265.8 496,267.9Q496.8,270 496.4,273.3Q496,276.7 496.4,279.2Q496.8,281.7 496.8,284.3L496.8,287M461,287L461.8,284.8Q462.7,282.5 464.3,279.6Q466,276.7 467.7,274.2Q469.3,271.7 470.6,269.2Q471.8,266.7 473.1,265.4Q474.3,264.2 476,265Q477.7,265.8 479.3,267.1Q481,268.3 481.8,265.8Q482.7,263.3 482.2,260.8Q481.8,258.3 480.6,256.2Q479.3,254.2 476,255Q472.7,255.8 468.5,257.1Q464.3,258.3 460.2,260Q456,261.7 451.8,262.9Q447.7,264.2 443.5,265Q439.3,265.8 435.2,266.2Q431,266.7 428.5,267.5Q426,268.3 424.3,266.7Q422.7,265 422.2,262.5Q421.8,260 422.2,256.7Q422.7,253.3 422.2,250Q421.8,246.7 422.7,244.2Q423.5,241.7 424.3,239.2Q425.2,236.7 423.9,233.3Q422.7,230 421.8,226.7Q421,223.3 421.4,220.4Q421.8,217.5 421,214.6Q420.2,211.7 418.5,209.2Q416.8,206.7 416.4,203.3Q416,200 418.5,197.5Q421,195 421.4,192L421.8,189M409.3,287L409.2,285.2Q409,283.3 408.8,280Q408.7,276.7 409.8,275.4Q411,274.2 412.7,273.8Q414.3,273.3 417.7,273.3Q421,273.3 424.3,274Q427.7,274.7 431.8,275.7Q436,276.7 439.8,276.2Q443.5,275.8 442.7,278.3Q441.8,280.8 440.6,283.9L439.3,287M682.7,281.7Q680.2,280.8 681.4,277.9Q682.7,275 684.8,272.1Q686.8,269.2 689.8,267.1Q692.7,265 695.6,262.5Q698.5,260 701,257.1Q703.5,254.2 704.8,250.4Q706,246.7 705.8,242.5Q705.7,238.3 705.2,234.2Q704.7,230 705.3,227.9Q706,225.8 707.7,225.4Q709.3,225 710.6,227.1Q711.8,229.2 712.2,232.5Q712.7,235.8 713.1,238.8Q713.5,241.7 715.2,244.2Q716.8,246.7 719.8,245.8Q722.7,245 724.8,244.2Q726.8,243.3 727.7,245Q728.5,246.7 727.2,248.8Q726,250.8 728.5,253.3Q731,255.8 732.7,258.8Q734.3,261.7 735.6,265.8Q736.8,270 738.5,274.2Q740.2,278.3 739.3,280Q738.5,281.7 735.6,281.2Q732.7,280.8 729.3,281.2Q726,281.7 723.5,280.8Q721,280 719.3,283.5L717.7,287M700.2,287L699.8,282.7Q699.3,278.3 698.9,275.8Q698.5,273.3 696.8,272.5Q695.2,271.7 693.9,273.8Q692.7,275.8 691,277.9Q689.3,280 687.2,281.2Q685.2,282.5 682.7,281.7M635.2,287L636.8,284.3Q638.5,281.7 640.2,280.4Q641.8,279.2 643.5,279.6Q645.2,280 646,282.1Q646.8,284.2 646.4,285.6L646,287M753.5,207.5Q753.5,205 755.6,204.2Q757.7,203.3 761,202.9Q764.3,202.5 767.7,202.8Q771,203 773.9,203.6Q776.8,204.2 778.1,206.2Q779.3,208.3 778.9,210Q778.5,211.7 776.8,212.1Q775.2,212.5 773.1,210.8Q771,209.2 767.7,209.2Q764.3,209.2 761.4,210Q758.5,210.8 756.8,212.1Q755.2,213.3 754.3,211.7Q753.5,210 753.5,207.5M793.9,206.7Q793.5,205.8 794.3,203.8Q795.2,201.7 796.8,201Q798.5,200.3 799.8,201.4Q801,202.5 800.6,204.2Q800.2,205.8 798.5,206.9Q796.8,208 795.6,207.8Q794.3,207.5 793.9,206.7M748.5,260.4Q748.5,258.3 750.6,257.5Q752.7,256.7 756.8,256Q761,255.3 765.2,254.5Q769.3,253.7 773.5,252.2Q777.7,250.8 781.8,248.8Q786,246.7 790.2,245.2Q794.3,243.7 796.8,244.2Q799.3,244.7 798.1,246.9Q796.8,249.2 794.8,251.2Q792.7,253.3 790.2,255.8Q787.7,258.3 785.2,260.8Q782.7,263.3 780.2,265.4Q777.7,267.5 775.2,268.8Q772.7,270 770.2,270.7Q767.7,271.3 766,269.8Q764.3,268.3 761,267.5Q757.7,266.7 754.3,266.2Q751,265.8 749.8,264.2Q748.5,262.5 748.5,260.4M906,255.1Q905.2,254.2 906,252.8Q906.8,251.3 908.5,250.8Q910.2,250.3 911.4,251.2Q912.7,252 912.7,253.5Q912.7,255 911.4,255.7Q910.2,256.3 908.5,256.2Q906.8,256 906,255.1M849.3,287L850.2,285.8Q851,284.7 852.7,284.2Q854.3,283.7 856,284.3Q857.7,285 858.1,286L858.5,287M905.9,254.2Q905.3,252.5 906.8,251.4Q908.2,250.3 909.8,250.8Q911.5,251.3 912.1,252.8Q912.7,254.2 911.2,255.2Q909.8,256.3 908.2,256.1Q906.5,255.8 905.9,254.2M1010.7,189M1010.7,190M987.3,200M980.7,205M965.7,213.3M964.8,216.3L961.9,215.7Q959,215 954.8,214.2Q950.7,213.3 946.3,212.5L942,211.7M942,189M391.8,285L392.2,288Q392.7,291 391.8,293.5Q391,296 389.3,298.9Q387.7,301.8 388.9,303.9Q390.2,306 391.4,308.5Q392.7,311 393.1,313.5Q393.5,316 394.8,318.5Q396,321 398.5,321.8Q401,322.7 404,322.2L407,321.8M407,383M392.7,383L391,381.2Q389.3,379.3 386,377.7Q382.7,376 380.2,373.5Q377.7,371 376.8,367.7Q376,364.3 376,361Q376,357.7 377.2,354.8Q378.5,351.8 380.6,350.2Q382.7,348.5 384.8,346.4Q386.8,344.3 387.2,341Q387.7,337.7 387.2,334.3Q386.8,331 384.8,328.9Q382.7,326.8 380.2,325.2Q377.7,323.5 375.2,323.1Q372.7,322.7 370.2,323.9Q367.7,325.2 365.6,327.2Q363.5,329.3 361.4,330.6Q359.3,331.8 354.3,330.2Q349.3,328.5 344.3,327.2Q339.3,326 338.9,322.7Q338.5,319.3 337.7,316Q336.8,312.7 337.2,310.2Q337.7,307.7 341,305.6Q344.3,303.5 348.5,301.4Q352.7,299.3 356.8,296.8Q361,294.3 363.5,292.2Q366,290.2 367.2,287.6L368.5,285M572.7,375.6Q571.8,373.5 573.1,372.7Q574.3,371.8 575.7,371.8L577,371.8M577,378.5L575.2,378.1Q573.5,377.7 572.7,375.6M405,285M440.2,285L441,288.8Q441.8,292.7 442.7,296Q443.5,299.3 444.8,301.8Q446,304.3 444.3,306Q442.7,307.7 440.2,308.3Q437.7,309 434.3,309.2Q431,309.3 428.9,309.8Q426.8,310.2 424.8,311.8Q422.7,313.5 422.7,315.2Q422.7,316.8 424.3,318.1Q426,319.3 428.5,319.8Q431,320.2 433.5,321Q436,321.8 438.5,323.1Q441,324.3 444.3,325Q447.7,325.7 451.8,326.2Q456,326.8 460.2,327.1Q464.3,327.3 467.2,327.1Q470.2,326.8 471,328.5Q471.8,330.2 472.2,332.7Q472.7,335.2 473.3,337.7Q474,340.2 472.9,341.8Q471.8,343.5 470.4,344.3Q469,345.2 470.8,344.8Q472.7,344.3 475.2,342.7Q477.7,341 479.3,338.5Q481,336 482.7,333.9Q484.3,331.8 486,330.4Q487.7,329 489.3,329Q491,329 492.2,330.4Q493.5,331.8 493.1,333.9Q492.7,336 491,337.7Q489.3,339.3 488.5,341.8Q487.7,344.3 488.1,346.8Q488.5,349.3 488.1,351.8Q487.7,354.3 488.5,357.7Q489.3,361 490.2,365.2Q491,369.3 491.4,372.7Q491.8,376 492.2,379.5L492.7,383M405,383M484.3,285L483.9,287.2Q483.5,289.3 481.4,291Q479.3,292.7 476.8,292.2Q474.3,291.8 473.9,293.9Q473.5,296 472.7,299.3Q471.8,302.7 470.6,305Q469.3,307.3 468.1,304.6Q466.8,301.8 465.6,298.9Q464.3,296 463.1,293.5Q461.8,291 461.4,288L461,285M649.3,285L650.6,286.3Q651.8,287.7 653.1,289.3Q654.3,291 655.2,293.1Q656,295.2 655.2,297.2Q654.3,299.3 655.2,301.8Q656,304.3 656.8,306.8Q657.7,309.3 659.3,311.4Q661,313.5 662.7,313.9Q664.3,314.3 665.6,316Q666.8,317.7 665.6,319.3Q664.3,321 662.7,322.2Q661,323.5 661.8,325.2Q662.7,326.8 664.3,325.6Q666,324.3 667.7,323.5Q669.3,322.7 671.8,323.1Q674.3,323.5 676,324.8Q677.7,326 680.2,326.8Q682.7,327.7 685.2,326.8Q687.7,326 689.3,324.8Q691,323.5 692.7,323.5Q694.3,323.5 695.2,324.3Q696,325.2 695.6,327.2Q695.2,329.3 694.8,331.4Q694.3,333.5 693.1,335.6Q691.8,337.7 689.8,339.3Q687.7,341 685.2,341.4Q682.7,341.8 680.2,341Q677.7,340.2 676.4,338.1Q675.2,336 673.9,333.9Q672.7,331.8 671,330.6Q669.3,329.3 666.8,328.9Q664.3,328.5 661.8,327.2Q659.3,326 657.7,323.9Q656,321.8 654.3,319.3Q652.7,316.8 651,313.9Q649.3,311 648.5,308.1Q647.7,305.2 646.8,302.7Q646,300.2 644.8,298.1Q643.5,296 641.4,294.8Q639.3,293.5 638.1,291.4Q636.8,289.3 636.4,287.2L636,285M695.6,315.8Q693.5,315.2 694.8,313.1Q696,311 697.2,310.2Q698.5,309.3 699.8,311Q701,312.7 701.4,314.2Q701.8,315.7 699.8,316Q697.7,316.3 695.6,315.8M712.7,285L711.8,286.8Q711,288.5 708.5,288.9Q706,289.3 703.5,288.7Q701,288 700.2,286.5L699.3,285M576.8,358.8Q576.3,356.8 576.8,355.2Q577.3,353.5 578.8,353.1Q580.2,352.7 582.2,353.5Q584.3,354.3 586,356Q587.7,357.7 590.2,358.5Q592.7,359.3 596,358.5Q599.3,357.7 602.7,356.8Q606,356 610.2,355.8Q614.3,355.7 616.8,356.2Q619.3,356.8 618.5,358.5Q617.7,360.2 615.2,361.4Q612.7,362.7 610.2,363.5Q607.7,364.3 605.2,366Q602.7,367.7 600.2,368.1Q597.7,368.5 595.2,367.2Q592.7,366 589.3,365.2Q586,364.3 583.5,363.1Q581,361.8 579.2,361.2Q577.3,360.7 576.8,358.8M575,371.8L577.2,371.6Q579.3,371.3 581.4,372Q583.5,372.7 583.9,374.3Q584.3,376 582.7,377.2Q581,378.5 578.5,378.5Q576,378.5 575.5,378.5L575,378.5M628.1,379.5Q627.7,376 628.1,373.9Q628.5,371.8 630.2,371Q631.8,370.2 634.3,370.6Q636.8,371 638.5,372.2Q640.2,373.5 639.8,375.6Q639.3,377.7 637.7,379.3Q636,381 634.8,382L633.5,383M628.5,383L628.1,379.5M703.8,373.5Q703.5,371 704.3,368.5Q705.2,366 706.8,364.3Q708.5,362.7 709.8,363.5Q711,364.3 711.8,366.4Q712.7,368.5 713.9,370.6Q715.2,372.7 714.8,375.2Q714.3,377.7 712.7,378.9Q711,380.2 708.9,379.8Q706.8,379.3 705.4,377.7Q704,376 703.8,373.5M725.4,358.7Q725.2,357.7 726,356.8Q726.8,356 728.1,356.2Q729.3,356.3 729.8,357.4Q730.2,358.5 729.1,359.3Q728,360.2 726.8,359.9Q725.7,359.7 725.4,358.7M861,285L860.6,287.2Q860.2,289.3 859.3,291.4Q858.5,293.5 857.2,295.6Q856,297.7 854.3,299.8Q852.7,301.8 851,302.7Q849.3,303.5 847.7,302.7Q846,301.8 844.3,300.2Q842.7,298.5 842,296.4Q841.3,294.3 842,292.7Q842.7,291 844.3,289.3Q846,287.7 847.7,286.3L849.3,285M863.1,305.3Q861,304.3 861.8,301.8Q862.7,299.3 863.9,297.2Q865.2,295.2 866.8,293.5Q868.5,291.8 870.6,290.8Q872.7,289.7 874.3,290.3Q876,291 876.4,293.1Q876.8,295.2 876,297.7Q875.2,300.2 874.3,302.2Q873.5,304.3 871.8,305.3Q870.2,306.3 867.7,306.3Q865.2,306.3 863.1,305.3M868.1,345.4Q868,343.5 868.5,341.6Q869,339.7 870.2,338.8Q871.3,338 872.7,338.5Q874,339 874.2,340.8Q874.3,342.7 873.5,344.8Q872.7,346.8 871.4,347.9Q870.2,349 869.2,348.2Q868.2,347.3 868.1,345.4M774.3,383L775.2,380.8Q776,378.5 777.7,376.8Q779.3,375.2 781.4,374.8Q783.5,374.3 784.8,375.6Q786,376.8 785.6,378.9Q785.2,381 784.3,382L783.5,383M407,381M407,412M384.3,402.8L385.2,400.8Q386,398.7 387.2,395.8Q388.5,392.8 389.3,389.9Q390.2,387 391.4,384L392.7,381M405,381M491,381L491.8,384Q492.7,387 493.5,389.9Q494.3,392.8 495.6,394.1Q496.8,395.3 499.8,394.5Q502.7,393.7 505.2,392Q507.7,390.3 510.2,389.5Q512.7,388.7 515.2,389.5Q517.7,390.3 520.2,392.4Q522.7,394.5 523.9,396.6Q525.2,398.7 525.6,401.2Q526,403.7 524.3,405.3Q522.7,407 520.6,407.8Q518.5,408.7 517.2,410.8Q516,412.8 515.6,415.8Q515.2,418.7 515.6,422Q516,425.3 516.8,427.8Q517.7,430.3 518.5,432Q519.3,433.7 522.7,434.1Q526,434.5 529.3,434.2Q532.7,434 535.2,433.8Q537.7,433.7 538.5,435.3Q539.3,437 541.8,437.8Q544.3,438.7 547.7,439.5Q551,440.3 553.5,441.6Q556,442.8 558.5,444.5Q561,446.2 561.8,448.2Q562.7,450.3 564.3,450.8Q566,451.2 569.3,451.6Q572.7,452 574.8,452L577,452M577,479M405,479M575,448.7L576.3,447Q577.7,445.3 580.2,443.7Q582.7,442 586,440.8Q589.3,439.5 591.8,438.2Q594.3,437 596,435.3Q597.7,433.7 600.2,432.4Q602.7,431.2 605.2,431.6Q607.7,432 609.3,433.7Q611,435.3 614.3,435.5Q617.7,435.7 621,434.7Q624.3,433.7 627.7,432.4Q631,431.2 634.3,430.3Q637.7,429.5 641,429.2Q644.3,429 645.6,430.5Q646.8,432 646.8,434.5Q646.8,437 645.6,438.7Q644.3,440.3 642.2,439.9Q640.2,439.5 638.1,438.2Q636,437 633.5,436.6Q631,436.2 628.9,437Q626.8,437.8 626.4,439.5Q626,441.2 627.7,442Q629.3,442.8 631,444.1Q632.7,445.3 632.2,446.6Q631.8,447.8 628.9,449.1Q626,450.3 623.5,451.6Q621,452.8 618.5,454.5Q616,456.2 613.5,457.8Q611,459.5 608.5,460.8Q606,462 604.8,463.2Q603.5,464.5 604.8,465.8Q606,467 607.2,468.2Q608.5,469.5 608.9,471.2Q609.3,472.8 608.9,474.1Q608.5,475.3 607.7,477.2L606.8,479M575,479M649.8,394.9Q648.5,393.7 649.3,391.6Q650.2,389.5 651.4,388.7Q652.7,387.8 654.3,388.7Q656,389.5 655.2,391.6Q654.3,393.7 652.7,394.9Q651,396.2 649.8,394.9M657.6,410.8Q657.2,409.5 657.8,408.2Q658.5,407 661,407Q663.5,407 665.6,407.7Q667.7,408.3 667.2,410Q666.8,411.7 664.3,412.2Q661.8,412.8 659.9,412.4Q658,412 657.6,410.8M642.1,420.8Q640.7,419.5 641.2,417.8Q641.8,416.2 643.9,415.8Q646,415.3 648.1,416.6Q650.2,417.8 651,419.5Q651.8,421.2 650.2,422.2Q648.5,423.3 646,422.7Q643.5,422 642.1,420.8M669.8,431.3Q668.5,430.3 669.3,429.1Q670.2,427.8 673.1,427.6Q676,427.3 678.5,427.8Q681,428.3 681.4,429.5Q681.8,430.7 678.9,431.3Q676,432 673.5,432.2Q671,432.3 669.8,431.3M579.3,404.5Q578.5,403.7 579.3,401.2Q580.2,398.7 581.8,397.4Q583.5,396.2 585.6,396.6Q587.7,397 588.5,398.7Q589.3,400.3 588.9,402.4Q588.5,404.5 586.4,404.9Q584.3,405.3 582.2,405.3Q580.2,405.3 579.3,404.5M636.8,381L636.4,381.9Q636,382.8 634.8,383.7Q633.5,384.5 631.8,384.1Q630.2,383.7 629.3,382.3L628.5,381M729.8,408.2Q726.8,407 727.7,404.5Q728.5,402 729.3,399.5Q730.2,397 729.8,394.5Q729.3,392 730.2,390.2Q731.2,388.3 733.2,387.7Q735.2,387 737.7,387.2Q740.2,387.5 743.6,387.9L747,388.3M747,423.7L745.7,422Q744.3,420.3 742.7,417.8Q741,415.3 739.3,413.7Q737.7,412 735.2,410.8Q732.7,409.5 729.8,408.2M745,388.3L748.8,388.2Q752.7,388 757.6,389Q762.5,390 764.2,388Q766,386 769,383.5L772,381M786,381L785.5,382.3Q785,383.7 784.3,385.6Q783.7,387.5 782.4,388.8Q781.2,390 787.8,392.2Q794.3,394.5 800.9,394.1Q807.5,393.7 808.8,396.2Q810.2,398.7 810.7,401.8Q811.2,405 812.4,406.8Q813.7,408.7 815.6,410.6Q817.5,412.5 818.1,415Q818.7,417.5 818.2,420.2Q817.7,422.8 816.8,425.3Q816,427.8 814.3,429.9Q812.7,432 811,434.1Q809.3,436.2 808.1,438.2Q806.8,440.3 805.6,442Q804.3,443.7 801,444.1Q797.7,444.5 796,442.8Q794.3,441.2 792.7,439.9Q791,438.7 789.3,439.1L787.7,439.5M764.3,440.3M759.3,435.7L756.8,433.4Q754.3,431.2 751.8,429.1Q749.3,427 747.2,425.3L745,423.7M807.2,397.4Q807.7,394.5 809.3,393.2Q811,392 812.7,392.4Q814.3,392.8 816,391.2Q817.7,389.5 819.3,387.8Q821,386.2 823.1,385.8Q825.2,385.3 826.2,386.6Q827.3,387.8 826.7,389.5Q826,391.2 823.9,392.4Q821.8,393.7 820.2,395.3Q818.5,397 816.8,398.7Q815.2,400.3 813.9,402.4Q812.7,404.5 811.4,405.8Q810.2,407 808.9,406.2Q807.7,405.3 807.2,402.8Q806.8,400.3 807.2,397.4M606.7,475.8M606.3,478.3L605.7,480Q605,481.7 602.5,482.9Q600,484.2 597.5,485.4Q595,486.7 592.9,487.9Q590.8,489.2 590.4,490.8Q590,492.5 587.1,491.7L584.2,490.8M582.5,486.7M580,481.7M577.5,475.8M708,176.4Q707.7,175.2 708.7,173.7Q709.7,172.2 711.4,170.8Q713.1,169.3 715.8,169.1Q718.5,168.8 721.9,168.7Q725.3,168.5 727.7,168.7Q730.2,168.8 732.1,170Q734.1,171.2 735.6,172.7Q737,174.2 738,175.6Q739,177.1 738.5,178.1Q738,179.1 736.5,179.6Q735.1,180.2 732.6,180.4Q730.2,180.5 729.2,181.7Q728.2,183 727.7,184.4Q727.2,185.9 726,186.9Q724.8,187.9 723.3,188.1Q721.9,188.3 720.2,187.1Q718.5,185.9 716.5,184.4Q714.6,183 712.6,181.5Q710.6,180 709.4,178.8Q708.2,177.6 708,176.4" fill="none" stroke="#1a1a1a" stroke-width="2.9" stroke-linecap="round"/>
<use href="#p8" fill="#fe9929"/>
<defs>
<path id="p9" d="M577.5,473.8Q576.7,471.7 577.9,470.7Q579.2,469.7 580.6,470.2Q582,470.8 582.2,472.8Q582.5,474.7 581.7,476.1Q580.8,477.5 579.6,476.7Q578.3,475.8 577.5,473.8Z"/>
<path id="p10" d="M381.2,107.1Q379.7,104.3 384.5,104.2Q389.3,104 390.6,106.5Q391.8,109 392.7,111.5Q393.5,114 392.2,115.7Q391,117.3 389.3,117.8Q387.7,118.2 386.4,116.5Q385.2,114.8 383.9,112.3Q382.7,109.8 381.2,107.1ZM989.4,168.3Q978.2,168.2 980.2,164.4Q982.3,160.7 986.5,156.5Q990.7,152.3 994,150.2Q997.3,148.2 1000.7,146.5Q1004,144.8 1004,154.4Q1004,164 1002.3,166.2Q1000.7,168.5 989.4,168.3ZM398.9,361Q397.7,358.5 399.3,357.7Q401,356.8 402.7,358.1Q404.3,359.3 405.7,359.8L407,360.2L407,369.3L404.8,368.5Q402.7,367.7 401.4,365.6Q400.2,363.5 398.9,361ZM405,285L409,285L409.2,288.8Q409.3,292.7 409.8,296Q410.2,299.3 410.6,301Q411,302.7 412.7,304.3Q414.3,306 413.9,309.3Q413.5,312.7 412.2,315.6Q411,318.5 408.5,319.8Q406,321 405.5,321L405,321ZM408.5,383L408.1,379.5Q407.7,376 408.1,371.8Q408.5,367.7 409.3,364.3Q410.2,361 409.8,357.7Q409.3,354.3 408.9,351.8Q408.5,349.3 409.8,346.8Q411,344.3 414.3,343.1Q417.7,341.8 421,340.2Q424.3,338.5 426,338.9Q427.7,339.3 428.9,341.8Q430.2,344.3 431.4,347.7Q432.7,351 433.9,354.3Q435.2,357.7 436.4,361Q437.7,364.3 438.5,367.7Q439.3,371 438.9,374.3Q438.5,377.7 437.7,380.3L436.8,383ZM468.5,363.1Q466.8,361 467.7,358.9Q468.5,356.8 470.2,356Q471.8,355.2 472.7,353.1Q473.5,351 474.8,351.8Q476,352.7 475.6,355.2Q475.2,357.7 476,359.3Q476.8,361 475.6,362.7Q474.3,364.3 474.8,366Q475.2,367.7 473.5,368.1Q471.8,368.5 471,366.8Q470.2,365.2 468.5,363.1ZM483.9,408.2Q481.8,407 483.1,405.3Q484.3,403.7 487.7,402.8Q491,402 494.3,401.6Q497.7,401.2 500.2,401.6Q502.7,402 503.1,404.5Q503.5,407 503.9,410.3Q504.3,413.7 505.2,417Q506,420.3 506,422.8Q506,425.3 504.3,424.5Q502.7,423.7 500.6,422.4Q498.5,421.2 496.4,419.5Q494.3,417.8 492.2,415.8Q490.2,413.7 488.1,411.6Q486,409.5 483.9,408.2ZM418.1,406.6Q416.8,405.3 418.9,404.5Q421,403.7 422.7,402Q424.3,400.3 426,399.1Q427.7,397.8 429.3,398.2Q431,398.7 431.8,401.2Q432.7,403.7 433.9,406.2Q435.2,408.7 436.4,411.2Q437.7,413.7 438.1,415.3L438.5,417L427.7,417L426.8,414.9Q426,412.8 424.3,411.2Q422.7,409.5 421,408.7Q419.3,407.8 418.1,406.6ZM405,381L436,381L435.6,384Q435.2,387 433.9,389.1Q432.7,391.2 430.2,390.3Q427.7,389.5 425.2,388.7Q422.7,387.8 419.3,387.4Q416,387 412.7,385.8Q409.3,384.5 407.2,384.2L405,384ZM763.9,395.3Q763.5,393.7 764.3,392Q765.2,390.3 767.2,389.5Q769.3,388.7 771.8,388.5Q774.3,388.3 775.6,389.3Q776.8,390.3 776,391.6Q775.2,392.8 773.1,393.2Q771,393.7 770.2,395.3Q769.3,397 768.1,397.8Q766.8,398.7 765.6,397.8Q764.3,397 763.9,395.3ZM795.6,413.2Q795.2,410.3 796,408.7Q796.8,407 798.9,405.8Q801,404.5 803.1,404.1Q805.2,403.7 806.2,404.9Q807.3,406.2 807.1,407.8Q806.8,409.5 806,410.8Q805.2,412 803.9,412.8Q802.7,413.7 801.8,415.8Q801,417.8 799.8,418.7Q798.5,419.5 797.2,417.8Q796,416.2 795.6,413.2Z"/>
</defs>
<path d="M381.2,107.1Q379.7,104.3 384.5,104.2Q389.3,104 390.6,106.5Q391.8,109 392.7,111.5Q393.5,114 392.2,115.7Q391,117.3 389.3,117.8Q387.7,118.2 386.4,116.5Q385.2,114.8 383.9,112.3Q382.7,109.8 381.2,107.1M989.4,168.3Q978.2,168.2 980.2,164.4Q982.3,160.7 986.5,156.5Q990.7,152.3 994,150.2Q997.3,148.2 1000.7,146.5Q1004,144.8 1004,154.4Q1004,164 1002.3,166.2Q1000.7,168.5 989.4,168.3M398.9,361Q397.7,358.5 399.3,357.7Q401,356.8 402.7,358.1Q404.3,359.3 405.7,359.8L407,360.2M407,369.3L404.8,368.5Q402.7,367.7 401.4,365.6Q400.2,363.5 398.9,361M405,285M409,285L409.2,288.8Q409.3,292.7 409.8,296Q410.2,299.3 410.6,301Q411,302.7 412.7,304.3Q414.3,306 413.9,309.3Q413.5,312.7 412.2,315.6Q411,318.5 408.5,319.8Q406,321 405.5,321L405,321M408.5,383L408.1,379.5Q407.7,376 408.1,371.8Q408.5,367.7 409.3,364.3Q410.2,361 409.8,357.7Q409.3,354.3 408.9,351.8Q408.5,349.3 409.8,346.8Q411,344.3 414.3,343.1Q417.7,341.8 421,340.2Q424.3,338.5 426,338.9Q427.7,339.3 428.9,341.8Q430.2,344.3 431.4,347.7Q432.7,351 433.9,354.3Q435.2,357.7 436.4,361Q437.7,364.3 438.5,367.7Q439.3,371 438.9,374.3Q438.5,377.7 437.7,380.3L436.8,383M468.5,363.1Q466.8,361 467.7,358.9Q468.5,356.8 470.2,356Q471.8,355.2 472.7,353.1Q473.5,351 474.8,351.8Q476,352.7 475.6,355.2Q475.2,357.7 476,359.3Q476.8,361 475.6,362.7Q474.3,364.3 474.8,366Q475.2,367.7 473.5,368.1Q471.8,368.5 471,366.8Q470.2,365.2 468.5,363.1M483.9,408.2Q481.8,407 483.1,405.3Q484.3,403.7 487.7,402.8Q491,402 494.3,401.6Q497.7,401.2 500.2,401.6Q502.7,402 503.1,404.5Q503.5,407 503.9,410.3Q504.3,413.7 505.2,417Q506,420.3 506,422.8Q506,425.3 504.3,424.5Q502.7,423.7 500.6,422.4Q498.5,421.2 496.4,419.5Q494.3,417.8 492.2,415.8Q490.2,413.7 488.1,411.6Q486,409.5 483.9,408.2M418.1,406.6Q416.8,405.3 418.9,404.5Q421,403.7 422.7,402Q424.3,400.3 426,399.1Q427.7,397.8 429.3,398.2Q431,398.7 431.8,401.2Q432.7,403.7 433.9,406.2Q435.2,408.7 436.4,411.2Q437.7,413.7 438.1,415.3L438.5,417M427.7,417L426.8,414.9Q426,412.8 424.3,411.2Q422.7,409.5 421,408.7Q419.3,407.8 418.1,406.6M405,381M436,381L435.6,384Q435.2,387 433.9,389.1Q432.7,391.2 430.2,390.3Q427.7,389.5 425.2,388.7Q422.7,387.8 419.3,387.4Q416,387 412.7,385.8Q409.3,384.5 407.2,384.2L405,384M763.9,395.3Q763.5,393.7 764.3,392Q765.2,390.3 767.2,389.5Q769.3,388.7 771.8,388.5Q774.3,388.3 775.6,389.3Q776.8,390.3 776,391.6Q775.2,392.8 773.1,393.2Q771,393.7 770.2,395.3Q769.3,397 768.1,397.8Q766.8,398.7 765.6,397.8Q764.3,397 763.9,395.3M795.6,413.2Q795.2,410.3 796,408.7Q796.8,407 798.9,405.8Q801,404.5 803.1,404.1Q805.2,403.7 806.2,404.9Q807.3,406.2 807.1,407.8Q806.8,409.5 806,410.8Q805.2,412 803.9,412.8Q802.7,413.7 801.8,415.8Q801,417.8 799.8,418.7Q798.5,419.5 797.2,417.8Q796,416.2 795.6,413.2M577.5,473.8Q576.7,471.7 577.9,470.7Q579.2,469.7 580.6,470.2Q582,470.8 582.2,472.8Q582.5,474.7 581.7,476.1Q580.8,477.5 579.6,476.7Q578.3,475.8 577.5,473.8" fill="none" stroke="#1a1a1a" stroke-width="2.9" stroke-linecap="round"/>
<use href="#p9" fill="#ffffd4"/>
<use href="#p10" fill="#fed98e"/>
<defs>
<path id="p11" d="M412.7,366.8Q412.7,364.3 413.5,361Q414.3,357.7 416,355.2Q417.7,352.7 420.2,351.8Q422.7,351 425.2,351.8Q427.7,352.7 428.5,355.2Q429.3,357.7 428.5,360.2Q427.7,362.7 426.8,365.2Q426,367.7 425.2,370.2Q424.3,372.7 420.2,372.7Q416,372.7 414.3,371Q412.7,369.3 412.7,366.8ZM488.1,411.2Q487.7,409.5 489.3,408.2Q491,407 493.1,407.4Q495.2,407.8 496.8,409.5Q498.5,411.2 499.8,413.2Q501,415.3 501.4,417.8Q501.8,420.3 500.6,421.2Q499.3,422 497.7,420.8Q496,419.5 493.9,417.4Q491.8,415.3 490.2,414.1Q488.5,412.8 488.1,411.2Z"/>
</defs>
<path d="M412.7,366.8Q412.7,364.3 413.5,361Q414.3,357.7 416,355.2Q417.7,352.7 420.2,351.8Q422.7,351 425.2,351.8Q427.7,352.7 428.5,355.2Q429.3,357.7 428.5,360.2Q427.7,362.7 426.8,365.2Q426,367.7 425.2,370.2Q424.3,372.7 420.2,372.7Q416,372.7 414.3,371Q412.7,369.3 412.7,366.8M488.1,411.2Q487.7,409.5 489.3,408.2Q491,407 493.1,407.4Q495.2,407.8 496.8,409.5Q498.5,411.2 499.8,413.2Q501,415.3 501.4,417.8Q501.8,420.3 500.6,421.2Q499.3,422 497.7,420.8Q496,419.5 493.9,417.4Q491.8,415.3 490.2,414.1Q488.5,412.8 488.1,411.2" fill="none" stroke="#1a1a1a" stroke-width="2.9" stroke-linecap="round"/>
<use href="#p11" fill="#ffffd4"/>
<defs>
<path id="p12" d="M325.2,161.1Q325.2,159 326.4,157.3Q327.7,155.7 331,153.6Q334.3,151.5 336.8,149.4Q339.3,147.3 341.4,144Q343.5,140.7 345.2,138.6Q346.8,136.5 349.8,135.2Q352.7,134 354.8,134.4Q356.8,134.8 358.1,136.9Q359.3,139 359.8,141.5Q360.2,144 361,145.7Q361.8,147.3 361,149.4Q360.2,151.5 358.9,152.8Q357.7,154 357.2,155.2Q356.8,156.5 354.8,155.7Q352.7,154.8 350.6,155.7Q348.5,156.5 347.2,157.8Q346,159 345.6,160.7Q345.2,162.3 343.1,163.2Q341,164 338.5,165.2Q336,166.5 333.5,167.3Q331,168.2 328.9,167.3Q326.8,166.5 326,164.8Q325.2,163.2 325.2,161.1ZM401.4,127.3Q401.8,124.8 404.4,124.4L407,124L407,134L404.8,134Q402.7,134 401.8,131.9Q401,129.8 401.4,127.3ZM405,124L407.2,124Q409.3,124 410.6,125.2Q411.8,126.5 412.4,129Q413,131.5 412.4,132.9Q411.8,134.3 409.8,134.6Q407.7,134.8 406.3,134.4L405,134ZM448.5,123.2Q449,121.5 450.4,121.5Q451.8,121.5 452.7,123.2Q453.5,124.8 453.8,126.9Q454,129 453.3,130.2Q452.7,131.5 450.8,131.5Q449,131.5 448.5,129.8Q448,128.2 448,126.5Q448,124.8 448.5,123.2ZM430.8,238.8Q431,235.8 433.5,235.4Q436,235 437.2,237.1Q438.5,239.2 439.8,241.2Q441,243.3 445.2,243.2Q449.3,243 451.4,244.4Q453.5,245.8 454.8,247.9Q456,250 457.2,252.1Q458.5,254.2 456.4,255Q454.3,255.8 451,256.2Q447.7,256.7 444.3,257.5Q441,258.3 438.5,257.9Q436,257.5 433.9,255.8Q431.8,254.2 431.4,251.2Q431,248.3 430.8,245Q430.7,241.7 430.8,238.8ZM475.2,287L475.4,285.2Q475.7,283.3 476.7,281.7Q477.7,280 480.2,279.6Q482.7,279.2 484.8,280.4Q486.8,281.7 487.7,284.3L488.5,287ZM428.3,284.7Q427.7,283.3 428.9,282.3Q430.2,281.3 431.6,281.5Q433,281.7 433.3,282.9Q433.7,284.2 432.8,285.2Q431.8,286.3 430.4,286.2Q429,286 428.3,284.7ZM724.8,281.2Q722.7,280.8 723.5,276.2Q724.3,271.7 725.2,269.2Q726,266.7 728.1,266.2Q730.2,265.8 731.4,267.9Q732.7,270 733.1,273.3Q733.5,276.7 732.7,278.8Q731.8,280.8 729.3,281.2Q726.8,281.7 724.8,281.2ZM769.8,259.2Q770.2,256.7 772.2,255Q774.3,253.3 776.8,251.7Q779.3,250 782.7,248.3Q786,246.7 789.8,245.4Q793.5,244.2 794.8,244.6Q796,245 795.2,247.1Q794.3,249.2 792.7,251.1Q791,253 788.9,255.2Q786.8,257.5 784.3,259.8Q781.8,262 779.3,263.9Q776.8,265.8 774.3,267.5Q771.8,269.2 770.2,269.4Q768.5,269.7 768.1,267.8Q767.7,265.8 768.5,263.8Q769.3,261.7 769.8,259.2ZM752.1,262.2Q751.8,260.8 753.1,260Q754.3,259.2 756.4,259.6Q758.5,260 759.3,261.2Q760.2,262.5 759.3,263.8Q758.5,265 756.4,265.2Q754.3,265.3 753.3,264.5Q752.3,263.7 752.1,262.2ZM342.7,317.2Q341.8,313.5 343.1,311.8Q344.3,310.2 347.7,308.9Q351,307.7 355.2,306.8Q359.3,306 362.7,305.8Q366,305.7 367.2,307.1Q368.5,308.5 368.5,311.4Q368.5,314.3 367.2,316.8Q366,319.3 363.5,321.4Q361,323.5 357.7,324.3Q354.3,325.2 351,324.9Q347.7,324.7 345.6,322.8Q343.5,321 342.7,317.2ZM388.7,327.8Q388,326 389.5,325.6Q391,325.2 393.5,325.4Q396,325.7 397.2,326.7Q398.5,327.7 398.1,329.2Q397.7,330.7 395.6,331Q393.5,331.3 391.4,330.5Q389.3,329.7 388.7,327.8ZM484.7,285L484.5,285.9Q484.3,286.8 482.7,287.9Q481,289 478.9,288.3Q476.8,287.7 476,286.3L475.2,285ZM435.2,304.3Q434.3,302.7 435.6,300.6Q436.8,298.5 438.5,297.7Q440.2,296.8 441.4,297.7Q442.7,298.5 442.2,300.6Q441.8,302.7 440.6,304.2Q439.3,305.7 437.7,305.8Q436,306 435.2,304.3ZM415.2,294.9Q414.3,293.5 415.6,292.2Q416.8,291 418.5,291.4Q420.2,291.8 419.8,293.5Q419.3,295.2 417.7,295.8Q416,296.3 415.2,294.9ZM459.8,333.5Q457.7,331.8 459.3,330.8Q461,329.7 463.5,329.3Q466,329 468.5,329.3Q471,329.7 470.6,331.6Q470.2,333.5 468.5,334.6Q466.8,335.7 464.3,335.4Q461.8,335.2 459.8,333.5ZM441.8,383L443.1,380.3Q444.3,377.7 446.4,375.2Q448.5,372.7 449.3,368.5Q450.2,364.3 450.6,360.2Q451,356 451.8,352.2Q452.7,348.5 453.5,347.7Q454.3,346.8 455.2,348.5Q456,350.2 456.4,353.9Q456.8,357.7 456.4,361.8Q456,366 456.8,369.3Q457.7,372.7 459.3,375.6Q461,378.5 461.8,380.8L462.7,383ZM579.3,358.8Q579.3,356.8 581,356Q582.7,355.2 584.3,356Q586,356.8 586.8,358.5Q587.7,360.2 586.8,361.4Q586,362.7 583.9,362.8Q581.8,363 580.6,361.8Q579.3,360.7 579.3,358.8ZM600.6,363.5Q599.3,361.8 600.2,360.2Q601,358.5 603.5,357.9Q606,357.3 609.3,357.1Q612.7,356.8 615.2,357.2Q617.7,357.7 616.8,358.9Q616,360.2 613.5,361Q611,361.8 608.5,362.7Q606,363.5 603.9,364.3Q601.8,365.2 600.6,363.5ZM390.2,404.5L393.1,403.1Q396,401.7 399.3,400.6Q402.7,399.5 404.8,399.1L407,398.7L407,412ZM461.8,381L461.4,383.2Q461,385.3 461.4,388.7Q461.8,392 462.2,396.2Q462.7,400.3 462.2,404.5Q461.8,408.7 461.8,412.8L461.8,417L442.7,417L443.1,414.5Q443.5,412 444.3,409.5Q445.2,407 446,403.7Q446.8,400.3 446.4,397Q446,393.7 444.8,390.3Q443.5,387 443.1,384L442.7,381ZM511.4,440.7Q511,440.3 515.2,439.9Q519.3,439.5 522.7,438.7Q526,437.8 529.3,436.4Q532.7,435 535.2,435.6Q537.7,436.2 538.5,437.8Q539.3,439.5 537.7,440.8Q536,442 534.3,444.9Q532.7,447.8 531,450.8L529.3,453.7L522.7,449L516.8,444.8L511.8,441L511.4,440.7ZM405,399.5L406.3,399.9Q407.7,400.3 408.1,402.4Q408.5,404.5 407.7,406.2Q406.8,407.8 405.9,408.1L405,408.3ZM417.7,413.2Q416.8,412 418.5,411.2Q420.2,410.3 421.8,410.8Q423.5,411.2 423.8,413.6L424,416L418.5,414.5L417.7,413.2ZM581.4,449.2Q581,447.8 582.2,445.8Q583.5,443.7 586.4,442.4Q589.3,441.2 592.7,439.9Q596,438.7 598.1,439.1Q600.2,439.5 599.8,441.6Q599.3,443.7 597.7,445.8Q596,447.8 593.5,449.1Q591,450.3 588.1,451Q585.2,451.7 583.5,451.2Q581.8,450.7 581.4,449.2ZM598.5,453Q597.7,452 599.3,449.5Q601,447 603.5,444.5Q606,442 608.9,439.9Q611.8,437.8 614.8,437Q617.7,436.2 619.8,437Q621.8,437.8 621.4,440.3Q621,442.8 621.8,444.9Q622.7,447 620.2,447.8Q617.7,448.7 614.3,449.5Q611,450.3 607.7,451.6Q604.3,452.8 601.8,453.4Q599.3,454 598.5,453ZM731,404.9Q730.2,403.7 731,401.6Q731.8,399.5 733.1,398.7Q734.3,397.8 735.2,399.1Q736,400.3 735.2,402.4Q734.3,404.5 733.1,405.3Q731.8,406.2 731,404.9ZM758.5,424.9Q756.8,422.8 758.9,422Q761,421.2 763.5,420.3Q766,419.5 766.4,417.4Q766.8,415.3 768.9,414.5Q771,413.7 774.3,413.2Q777.7,412.8 781,412Q784.3,411.2 786.8,411.6Q789.3,412 791.8,413.2Q794.3,414.5 796,416.2Q797.7,417.8 799.8,417Q801.8,416.2 803.1,414.9Q804.3,413.7 806.8,413.7Q809.3,413.7 811.8,414.9Q814.3,416.2 815.2,418.2Q816,420.3 815.6,422.8Q815.2,425.3 813.9,427.4Q812.7,429.5 811,430.8Q809.3,432 808.5,433.7Q807.7,435.3 805.2,436.2Q802.7,437 800.2,437Q797.7,437 796.4,435.3Q795.2,433.7 793.1,432.8Q791,432 788.5,432.4Q786,432.8 782.7,433.2Q779.3,433.7 776.4,434.5Q773.5,435.3 771,434.5Q768.5,433.7 766.4,432Q764.3,430.3 762.2,428.7Q760.2,427 758.5,424.9ZM777.9,386.7Q777.3,385.7 777.9,384.7Q778.5,383.7 779.6,383.5Q780.7,383.3 781.2,384.3Q781.8,385.3 781.2,386.3Q780.7,387.3 779.6,387.5Q778.5,387.7 777.9,386.7ZM589.6,480.2Q589.2,478.3 590.4,476.7Q591.7,475 593.8,473.3Q595.8,471.7 596.7,469.6Q597.5,467.5 598.8,467.1Q600,466.7 600.8,468.3Q601.7,470 602.1,472.1Q602.5,474.2 603.3,475.4Q604.2,476.7 602.9,477.9Q601.7,479.2 599.2,480Q596.7,480.8 594.6,481.9Q592.5,483 591.2,482.5Q590,482 589.6,480.2Z"/>
</defs>
<path d="M325.2,161.1Q325.2,159 326.4,157.3Q327.7,155.7 331,153.6Q334.3,151.5 336.8,149.4Q339.3,147.3 341.4,144Q343.5,140.7 345.2,138.6Q346.8,136.5 349.8,135.2Q352.7,134 354.8,134.4Q356.8,134.8 358.1,136.9Q359.3,139 359.8,141.5Q360.2,144 361,145.7Q361.8,147.3 361,149.4Q360.2,151.5 358.9,152.8Q357.7,154 357.2,155.2Q356.8,156.5 354.8,155.7Q352.7,154.8 350.6,155.7Q348.5,156.5 347.2,157.8Q346,159 345.6,160.7Q345.2,162.3 343.1,163.2Q341,164 338.5,165.2Q336,166.5 333.5,167.3Q331,168.2 328.9,167.3Q326.8,166.5 326,164.8Q325.2,163.2 325.2,161.1M401.4,127.3Q401.8,124.8 404.4,124.4L407,124M407,134L404.8,134Q402.7,134 401.8,131.9Q401,129.8 401.4,127.3M405,124L407.2,124Q409.3,124 410.6,125.2Q411.8,126.5 412.4,129Q413,131.5 412.4,132.9Q411.8,134.3 409.8,134.6Q407.7,134.8 406.3,134.4L405,134M448.5,123.2Q449,121.5 450.4,121.5Q451.8,121.5 452.7,123.2Q453.5,124.8 453.8,126.9Q454,129 453.3,130.2Q452.7,131.5 450.8,131.5Q449,131.5 448.5,129.8Q448,128.2 448,126.5Q448,124.8 448.5,123.2M430.8,238.8Q431,235.8 433.5,235.4Q436,235 437.2,237.1Q438.5,239.2 439.8,241.2Q441,243.3 445.2,243.2Q449.3,243 451.4,244.4Q453.5,245.8 454.8,247.9Q456,250 457.2,252.1Q458.5,254.2 456.4,255Q454.3,255.8 451,256.2Q447.7,256.7 444.3,257.5Q441,258.3 438.5,257.9Q436,257.5 433.9,255.8Q431.8,254.2 431.4,251.2Q431,248.3 430.8,245Q430.7,241.7 430.8,238.8M475.2,287L475.4,285.2Q475.7,283.3 476.7,281.7Q477.7,280 480.2,279.6Q482.7,279.2 484.8,280.4Q486.8,281.7 487.7,284.3L488.5,287M428.3,284.7Q427.7,283.3 428.9,282.3Q430.2,281.3 431.6,281.5Q433,281.7 433.3,282.9Q433.7,284.2 432.8,285.2Q431.8,286.3 430.4,286.2Q429,286 428.3,284.7M724.8,281.2Q722.7,280.8 723.5,276.2Q724.3,271.7 725.2,269.2Q726,266.7 728.1,266.2Q730.2,265.8 731.4,267.9Q732.7,270 733.1,273.3Q733.5,276.7 732.7,278.8Q731.8,280.8 729.3,281.2Q726.8,281.7 724.8,281.2M769.8,259.2Q770.2,256.7 772.2,255Q774.3,253.3 776.8,251.7Q779.3,250 782.7,248.3Q786,246.7 789.8,245.4Q793.5,244.2 794.8,244.6Q796,245 795.2,247.1Q794.3,249.2 792.7,251.1Q791,253 788.9,255.2Q786.8,257.5 784.3,259.8Q781.8,262 779.3,263.9Q776.8,265.8 774.3,267.5Q771.8,269.2 770.2,269.4Q768.5,269.7 768.1,267.8Q767.7,265.8 768.5,263.8Q769.3,261.7 769.8,259.2M752.1,262.2Q751.8,260.8 753.1,260Q754.3,259.2 756.4,259.6Q758.5,260 759.3,261.2Q760.2,262.5 759.3,263.8Q758.5,265 756.4,265.2Q754.3,265.3 753.3,264.5Q752.3,263.7 752.1,262.2M342.7,317.2Q341.8,313.5 343.1,311.8Q344.3,310.2 347.7,308.9Q351,307.7 355.2,306.8Q359.3,306 362.7,305.8Q366,305.7 367.2,307.1Q368.5,308.5 368.5,311.4Q368.5,314.3 367.2,316.8Q366,319.3 363.5,321.4Q361,323.5 357.7,324.3Q354.3,325.2 351,324.9Q347.7,324.7 345.6,322.8Q343.5,321 342.7,317.2M388.7,327.8Q388,326 389.5,325.6Q391,325.2 393.5,325.4Q396,325.7 397.2,326.7Q398.5,327.7 398.1,329.2Q397.7,330.7 395.6,331Q393.5,331.3 391.4,330.5Q389.3,329.7 388.7,327.8M484.7,285L484.5,285.9Q484.3,286.8 482.7,287.9Q481,289 478.9,288.3Q476.8,287.7 476,286.3L475.2,285M435.2,304.3Q434.3,302.7 435.6,300.6Q436.8,298.5 438.5,297.7Q440.2,296.8 441.4,297.7Q442.7,298.5 442.2,300.6Q441.8,302.7 440.6,304.2Q439.3,305.7 437.7,305.8Q436,306 435.2,304.3M415.2,294.9Q414.3,293.5 415.6,292.2Q416.8,291 418.5,291.4Q420.2,291.8 419.8,293.5Q419.3,295.2 417.7,295.8Q416,296.3 415.2,294.9M459.8,333.5Q457.7,331.8 459.3,330.8Q461,329.7 463.5,329.3Q466,329 468.5,329.3Q471,329.7 470.6,331.6Q470.2,333.5 468.5,334.6Q466.8,335.7 464.3,335.4Q461.8,335.2 459.8,333.5M441.8,383L443.1,380.3Q444.3,377.7 446.4,375.2Q448.5,372.7 449.3,368.5Q450.2,364.3 450.6,360.2Q451,356 451.8,352.2Q452.7,348.5 453.5,347.7Q454.3,346.8 455.2,348.5Q456,350.2 456.4,353.9Q456.8,357.7 456.4,361.8Q456,366 456.8,369.3Q457.7,372.7 459.3,375.6Q461,378.5 461.8,380.8L462.7,383M579.3,358.8Q579.3,356.8 581,356Q582.7,355.2 584.3,356Q586,356.8 586.8,358.5Q587.7,360.2 586.8,361.4Q586,362.7 583.9,362.8Q581.8,363 580.6,361.8Q579.3,360.7 579.3,358.8M600.6,363.5Q599.3,361.8 600.2,360.2Q601,358.5 603.5,357.9Q606,357.3 609.3,357.1Q612.7,356.8 615.2,357.2Q617.7,357.7 616.8,358.9Q616,360.2 613.5,361Q611,361.8 608.5,362.7Q606,363.5 603.9,364.3Q601.8,365.2 600.6,363.5M390.2,404.5L393.1,403.1Q396,401.7 399.3,400.6Q402.7,399.5 404.8,399.1L407,398.7M407,412M461.8,381L461.4,383.2Q461,385.3 461.4,388.7Q461.8,392 462.2,396.2Q462.7,400.3 462.2,404.5Q461.8,408.7 461.8,412.8L461.8,417M442.7,417L443.1,414.5Q443.5,412 444.3,409.5Q445.2,407 446,403.7Q446.8,400.3 446.4,397Q446,393.7 444.8,390.3Q443.5,387 443.1,384L442.7,381M511.4,440.7Q511,440.3 515.2,439.9Q519.3,439.5 522.7,438.7Q526,437.8 529.3,436.4Q532.7,435 535.2,435.6Q537.7,436.2 538.5,437.8Q539.3,439.5 537.7,440.8Q536,442 534.3,444.9Q532.7,447.8 531,450.8L529.3,453.7M522.7,449M516.8,444.8M511.8,441L511.4,440.7M405,399.5L406.3,399.9Q407.7,400.3 408.1,402.4Q408.5,404.5 407.7,406.2Q406.8,407.8 405.9,408.1L405,408.3M417.7,413.2Q416.8,412 418.5,411.2Q420.2,410.3 421.8,410.8Q423.5,411.2 423.8,413.6L424,416M418.5,414.5L417.7,413.2M581.4,449.2Q581,447.8 582.2,445.8Q583.5,443.7 586.4,442.4Q589.3,441.2 592.7,439.9Q596,438.7 598.1,439.1Q600.2,439.5 599.8,441.6Q599.3,443.7 597.7,445.8Q596,447.8 593.5,449.1Q591,450.3 588.1,451Q585.2,451.7 583.5,451.2Q581.8,450.7 581.4,449.2M598.5,453Q597.7,452 599.3,449.5Q601,447 603.5,444.5Q606,442 608.9,439.9Q611.8,437.8 614.8,437Q617.7,436.2 619.8,437Q621.8,437.8 621.4,440.3Q621,442.8 621.8,444.9Q622.7,447 620.2,447.8Q617.7,448.7 614.3,449.5Q611,450.3 607.7,451.6Q604.3,452.8 601.8,453.4Q599.3,454 598.5,453M731,404.9Q730.2,403.7 731,401.6Q731.8,399.5 733.1,398.7Q734.3,397.8 735.2,399.1Q736,400.3 735.2,402.4Q734.3,404.5 733.1,405.3Q731.8,406.2 731,404.9M758.5,424.9Q756.8,422.8 758.9,422Q761,421.2 763.5,420.3Q766,419.5 766.4,417.4Q766.8,415.3 768.9,414.5Q771,413.7 774.3,413.2Q777.7,412.8 781,412Q784.3,411.2 786.8,411.6Q789.3,412 791.8,413.2Q794.3,414.5 796,416.2Q797.7,417.8 799.8,417Q801.8,416.2 803.1,414.9Q804.3,413.7 806.8,413.7Q809.3,413.7 811.8,414.9Q814.3,416.2 815.2,418.2Q816,420.3 815.6,422.8Q815.2,425.3 813.9,427.4Q812.7,429.5 811,430.8Q809.3,432 808.5,433.7Q807.7,435.3 805.2,436.2Q802.7,437 800.2,437Q797.7,437 796.4,435.3Q795.2,433.7 793.1,432.8Q791,432 788.5,432.4Q786,432.8 782.7,433.2Q779.3,433.7 776.4,434.5Q773.5,435.3 771,434.5Q768.5,433.7 766.4,432Q764.3,430.3 762.2,428.7Q760.2,427 758.5,424.9M777.9,386.7Q777.3,385.7 777.9,384.7Q778.5,383.7 779.6,383.5Q780.7,383.3 781.2,384.3Q781.8,385.3 781.2,386.3Q780.7,387.3 779.6,387.5Q778.5,387.7 777.9,386.7M589.6,480.2Q589.2,478.3 590.4,476.7Q591.7,475 593.8,473.3Q595.8,471.7 596.7,469.6Q597.5,467.5 598.8,467.1Q600,466.7 600.8,468.3Q601.7,470 602.1,472.1Q602.5,474.2 603.3,475.4Q604.2,476.7 602.9,477.9Q601.7,479.2 599.2,480Q596.7,480.8 594.6,481.9Q592.5,483 591.2,482.5Q590,482 589.6,480.2" fill="none" stroke="#1a1a1a" stroke-width="2.9" stroke-linecap="round"/>
<use href="#p12" fill="#d95f0e"/>
<defs>
<path id="p13" d="M776.8,427.6Q776,426.2 776.4,424.9Q776.8,423.7 778.5,422.8Q780.2,422 783.1,421.8Q786,421.5 788.5,421.8Q791,422 791.8,423.7Q792.7,425.3 792.2,427.4Q791.8,429.5 789.8,430.1Q787.7,430.7 784.8,430.5Q781.8,430.3 779.8,429.7Q777.7,429 776.8,427.6Z"/>
</defs>
<path d="M776.8,427.6Q776,426.2 776.4,424.9Q776.8,423.7 778.5,422.8Q780.2,422 783.1,421.8Q786,421.5 788.5,421.8Q791,422 791.8,423.7Q792.7,425.3 792.2,427.4Q791.8,429.5 789.8,430.1Q787.7,430.7 784.8,430.5Q781.8,430.3 779.8,429.7Q777.7,429 776.8,427.6" fill="none" stroke="#1a1a1a" stroke-width="2.9" stroke-linecap="round"/>
<use href="#p13" fill="#993404"/>
<defs>
<path id="p14" d="M732.9,190.3Q732.6,189.8 733.4,188.3Q734.1,186.9 735.6,184.9Q737,183 738.5,180.8Q739.9,178.6 741.4,176.4Q742.9,174.2 744.3,172.2Q745.8,170.3 746.8,168.6Q747.8,166.9 748.7,166.4Q749.7,165.9 750.4,166.9Q751.2,167.8 750.4,169.5Q749.7,171.2 748.2,173.2Q746.8,175.2 745.3,177.1Q743.9,179.1 742.4,181Q740.9,183 739.5,184.9Q738,186.9 736.5,188.3Q735.1,189.8 734.1,190.3Q733.1,190.8 732.9,190.3ZM752.6,174.2Q753.6,174.7 754.6,175.9Q755.6,177.1 754.1,179.6Q752.6,182 751.7,184.9Q750.7,187.9 750,192.5L749.2,197.1L746.3,197.1L746.5,194Q746.8,190.8 747.3,187.9Q747.8,184.9 748.5,182Q749.2,179.1 750.4,176.4Q751.7,173.7 752.6,174.2Z"/>
</defs>
<path d="M732.9,190.3Q732.6,189.8 733.4,188.3Q734.1,186.9 735.6,184.9Q737,183 738.5,180.8Q739.9,178.6 741.4,176.4Q742.9,174.2 744.3,172.2Q745.8,170.3 746.8,168.6Q747.8,166.9 748.7,166.4Q749.7,165.9 750.4,166.9Q751.2,167.8 750.4,169.5Q749.7,171.2 748.2,173.2Q746.8,175.2 745.3,177.1Q743.9,179.1 742.4,181Q740.9,183 739.5,184.9Q738,186.9 736.5,188.3Q735.1,189.8 734.1,190.3Q733.1,190.8 732.9,190.3M752.6,174.2Q753.6,174.7 754.6,175.9Q755.6,177.1 754.1,179.6Q752.6,182 751.7,184.9Q750.7,187.9 750,192.5L749.2,197.1M746.3,197.1L746.5,194Q746.8,190.8 747.3,187.9Q747.8,184.9 748.5,182Q749.2,179.1 750.4,176.4Q751.7,173.7 752.6,174.2" fill="none" stroke="#1a1a1a" stroke-width="2.9" stroke-linecap="round"/>
<use href="#p14" fill="#fff"/>
</g>
<path d="M260,103 L636,103.2 L636.3,96.5 L640.2,96 L641.8,100.7 L643.5,108.2 L648.5,110.2 L654.3,111.2 L661.8,110.7 L666.8,111.2 L671,114 L675.2,116.5 L677.7,115.7 L682.7,119 L689.3,121.5 L693.5,119 L696,120.7 L702.7,123.2 L711,124.3 L726.7,117.5 L775,145 L778.3,153.3 L783.3,152.5 L785.8,160 L791.7,161.7 L793.3,166.7 L806.7,175.8 L810.8,198.3 L811.7,208.3 L808.3,216.7 L805,223.3 L801.7,228.3 L798.3,233.3 L795.8,236.7 L800,241.7 L803.3,243 L816.7,236.7 L831.7,231.7 L843.3,228.3 L853.3,222.5 L851.7,211.7 L856.7,208.3 L889.5,206.2 L892,195 L907,183.8 L908.5,181.9 L953.5,181.9 L954.1,178.1 L958.5,176.2 L964.1,173.8 L966,170 L969.8,166.2 L969.8,158.8 L974.1,148.8 L978.5,142.5 L983.5,135 L986,135.6 L987.9,139.4 L996,136.2 L999.8,138.1 L1002.9,142.5 L1003.5,163.8 L1007.2,170 L1009.1,175 L1009.8,178.8 L1013.5,182.5 L1014.8,185 L1012.2,188.1 L1006,190 L998.1,192.5 L992.5,196.7 L988.3,200.9 L982.7,205.2 L978.4,208 L971.4,212.2 L965.8,216.4 L967.2,219.2 L964.4,222 L965.1,224.8 L963,231 L958,238 L953,244 L950,247 L940,250 L930,252 L925,256 L922.5,258.8 L920,262.5 L915,266.2 L913.1,271.2 L911.2,277.5 L910.6,282.5 L911.9,287.5 L908.5,291.9 L907.5,300 L905,305 L901.2,310 L898.8,316.2 L898.1,316.2 L895,323.8 L895.6,331.2 L898.1,336.2 L900.6,342.5 L901.2,350 L900,353.8 L895,356.9 L890,361.2 L886.2,364.4 L881.2,362.5 L876.2,363.8 L872.5,367.5 L868.8,370 L863.8,372 L859.5,378 L852,385.5 L842,393 L834.5,398 L829.5,403 L824.5,410.5 L822,418 L821.2,428 L822.5,433.3 L826.7,445 L831.7,455 L833.3,460.8 L834.2,465 L838.3,476.7 L840,485 L840,493.3 L840,490.5 L838.2,503 L834.5,510.5 L827,515.5 L819.5,518 L812,519.2 L810,516.8 L817,514.2 L823.2,509.2 L822,504.2 L817,498 L812,490.5 L810,490 L805.8,483.3 L801.7,475 L799.2,468.3 L798.3,451.7 L795.8,447.5 L791.7,441.7 L788.3,437.5 L783.3,437.5 L778.3,443.3 L771.7,445.8 L766.7,443.3 L763.3,438.3 L756.7,434.2 L748.3,433.3 L740,434.2 L760,432.5 L753.3,430 L746.7,430.8 L740,431.7 L736.7,427.5 L731.7,428.3 L726.7,430.8 L718.3,433.3 L721.7,436.7 L721.7,441.7 L718.3,447.5 L719.2,451.7 L714.2,453.7 L713.3,450 L710,447.5 L706.7,450 L700,450.8 L694.2,451.7 L691.7,449.2 L686.7,447.5 L680.8,445 L676.7,444.2 L668.3,442.5 L661.7,441.7 L655,441.7 L646.7,443.3 L640.8,444.2 L638.3,448.3 L631.7,452.5 L625,456.7 L618.3,460.8 L612.5,466.7 L609.2,471.7 L606.7,480 L609.2,488.3 L610.8,496.7 L608.3,499.2 L602.2,498 L593.5,495.5 L584.8,490.5 L579.8,483 L576,475.5 L571,465.5 L566,458 L561,450.5 L553.5,441.8 L546,438 L537.2,439.2 L533.5,445.5 L528.5,451.8 L518.5,446.8 L511,440.5 L507.2,433 L501,425.5 L493.5,415.5 L486,408.5 L484.8,408.9 L462.2,408.9 L462.2,416 L423.9,416 L373.8,397.7 L375,394 L342.8,397 L340,393.8 L338.8,390 L336.2,385 L332.5,381.2 L328.8,378.1 L325,377.5 L323.8,373.1 L320,373.8 L315,372.5 L312.5,369.4 L307.5,366.9 L300,366.9 L295.6,365 L295,360 L293.8,355 L290.6,350.6 L286.2,345 L281.2,340 L278.8,334 L275,326.5 L272.5,319 L267.5,314 L265,309 L261.2,304 L255,294 L252.5,284 L248.8,271.5 L245.5,262.8 L248,256.5 L246.2,246.5 L245,239 L241.8,230 L243.8,220 L246.2,210 L248,197.5 L249.5,185 L250.5,172.5 L251.2,160 L250,160 L248.8,153.8 L248.8,148.8 L248.1,143.8 L246.2,137.5 L244.4,131.2 L241.9,126.2 L239.4,120 L240,115 L240.6,113.8 L248.8,116.9 L258.8,118.8 L261.2,116.9 L260.6,110 L261.9,106.2 L260,103.1Z" fill="none" stroke="#1a1a1a" stroke-width="1.5" stroke-linejoin="round"/>
<path d="M240.6,113.8L248.8,116.5L258.1,118.8L263.1,119.4L267.5,116.2L266.2,113.8L261.2,115.6L258.8,117.5L250,115.6L242.5,113.1Z" fill="#fff" stroke="#1a1a1a" stroke-width="1.1" stroke-linejoin="round"/>
<path d="M261.2,103.8L267.5,104L268.8,106.9L265,107.5L261.9,106.2Z" fill="#fff" stroke="#1a1a1a" stroke-width="1.1" stroke-linejoin="round"/>
<path d="M251.9,125L254.4,124.4L256.9,128.8L259.4,132.5L258.1,135L255.6,132.5L253.1,128.8Z" fill="#fff" stroke="#1a1a1a" stroke-width="1.1" stroke-linejoin="round"/>
<path d="M261.2,107.5L263.8,110L267.5,108.8L270,111.2L266.9,113.8L271.2,115.6L268.8,118.8L272.5,121.2L270.6,124.4L273.1,126.9L271.2,130L267.5,131.2L271.2,133.8L268.8,136.9L265,138.1L263.8,140.6L267.5,140" fill="none" stroke="#1a1a1a" stroke-width="2.2" stroke-linejoin="round" stroke-linecap="round"/>
<path d="M262.5,110.6L265.6,111.9L264.4,113.8L267.5,115L271.9,118.1L269.4,121.9L271.9,125L269.8,127.8L272.5,131.2L269,132.5L270.2,136.2L266.2,138.8" fill="none" stroke="#1a1a1a" stroke-width="1.6" stroke-linejoin="round" stroke-linecap="round"/>
<path d="M252.5,158.8L257.5,160L262.5,161.2L267.5,165L270,169.5L277.5,170.5" fill="none" stroke="#1a1a1a" stroke-width="1.3" stroke-linejoin="round" stroke-linecap="round"/>
<path d="M248.8,153.8L251.9,155L250,157.5L248.8,160" fill="none" stroke="#1a1a1a" stroke-width="1.5" stroke-linejoin="round" stroke-linecap="round"/>
<path d="M296.5,371.9L300,371.2L302.8,372.8L303.8,374.4L301.2,375.6L298.1,374.4Z" fill="#222" stroke="#222" stroke-width="1" stroke-linejoin="round"/>
<path d="M303.1,373.5L307.5,372.8L312.5,372.8L313.1,374L308.8,374.8L303.8,375" fill="none" stroke="#1a1a1a" stroke-width="1.2" stroke-linejoin="round" stroke-linecap="round"/>
<path d="M308.8,384.8L310.6,384L312.5,385.2L312.2,387.2L310,387.8L308.5,386.5Z" fill="#222" stroke="#222" stroke-width="1" stroke-linejoin="round"/>
<path d="M315.6,381.2L317.2,380.8L318.2,382.2L317.2,383.5L315.8,383Z" fill="#222" stroke="#222" stroke-width="1" stroke-linejoin="round"/>
<path d="M321.9,381.9L324,381L326.9,383.1L327.5,385.2L325.6,385.8L323.1,384Z" fill="#222" stroke="#222" stroke-width="1" stroke-linejoin="round"/>
<path d="M321.5,389.4L323.1,388.5L326,391.2L327,393.5L325.2,394L322.5,391.9Z" fill="#222" stroke="#222" stroke-width="1" stroke-linejoin="round"/>
<path d="M260.5,310.2L263.5,310.2L264.5,312.8L262,314.5L260,312.8Z" fill="#222" stroke="#222" stroke-width="1" stroke-linejoin="round"/>
<path d="M679.3,147.7L684.3,143.2L692.7,136.5L701,129.8L710.2,124.8L711.8,124.8L705.2,138.2L699.3,137.3L696,140.7L689.3,145.7L680.2,148.7Z" fill="#fff" stroke="#1a1a1a" stroke-width="1.1" stroke-linejoin="round"/>
<path d="M692.3,144L694.7,143.3L696.3,145.3L695.7,147.7L693.3,147.7L692,146Z" fill="#222" stroke="#222" stroke-width="1" stroke-linejoin="round"/>
<path d="M711.8,124.8L707.7,135.7L702.7,145.7L700.2,150.7" fill="none" stroke="#1a1a1a" stroke-width="1.3" stroke-linejoin="round" stroke-linecap="round"/>
<path d="M698.5,137.7L705.2,138.2" fill="none" stroke="#1a1a1a" stroke-width="1.3" stroke-linejoin="round" stroke-linecap="round"/>
<path d="M741,184L737.5,192.5L736,204L735,212.5L735.6,227.5L735.6,240.5L743.7,241L744.4,223.7L743.7,205L747.5,190L753.7,180L750,178Z" fill="#fff" stroke="#1a1a1a" stroke-width="1.1" stroke-linejoin="round"/>
<path d="M739,241.3L758.5,241.3L758.5,252L739,252Z" fill="#fff" stroke="#1a1a1a" stroke-width="1.1" stroke-linejoin="round"/>
<path d="M790,234.2L795.8,233.3L800,236.7L806.7,240.8L804.2,243.3L798.3,241.3L792.5,239.2Z" fill="#fff" stroke="#1a1a1a" stroke-width="1.1" stroke-linejoin="round"/>
<path d="M790,236.7L793.3,235L795.8,238.3L800,239.2L803.3,242.5L800,243.3" fill="none" stroke="#1a1a1a" stroke-width="1.8" stroke-linejoin="round" stroke-linecap="round"/>
<path d="M853,208L882.3,207L885.7,202L889.8,197.5L892.3,198.3L888.2,205.8L884.8,210.8L874,212L864,212.8L853,212.8Z" fill="#fff" stroke="#1a1a1a" stroke-width="1.1" stroke-linejoin="round"/>
<path d="M915,261.9L918.1,260.6L921.9,259.4L920,262.5L923.1,261.9L927.5,261.2L922.5,263.8L920,265.6L921.2,267.5" fill="none" stroke="#1a1a1a" stroke-width="1.4" stroke-linejoin="round" stroke-linecap="round"/>
<path d="M890,282.5L893.8,281.2L897.5,283.1L896.2,287.5L893.8,291.2L893.1,296.2L895,300L893.8,305L890,308.8L888.1,305L888.8,300L887.5,295L886.5,290L887.2,285.6Z" fill="#fff" stroke="#1a1a1a" stroke-width="1.1" stroke-linejoin="round"/>
<path d="M898.8,283.8L902.5,285L906.2,288.8L907.5,295L906.2,302.5L903.1,308.8L900,306.9L901.9,302.5L903.1,297.5L902.5,292.5L900.6,288.8Z" fill="#fff" stroke="#1a1a1a" stroke-width="1.1" stroke-linejoin="round"/>
<path d="M886.2,286.2L889.4,283.8L892.5,281.9L895.6,282.8L898.8,285.6L902.5,287.5L905.6,291.2L906.9,296.2L905.6,301.2L903.1,305.6L900.6,308.8L896.9,310.6L895,308.8" fill="none" stroke="#1a1a1a" stroke-width="1.5" stroke-linejoin="round" stroke-linecap="round"/>
<path d="M877.5,295L880,298.8L883.1,302.5L886.2,305L889.4,306.9L887.5,309.4L883.8,308.1L881.2,305L878.8,301.9L876.2,299.4" fill="none" stroke="#1a1a1a" stroke-width="1.8" stroke-linejoin="round" stroke-linecap="round"/>
<path d="M888.1,287.5L887.5,292.5L889,297.5L888.1,302.5L890,306.2L893.1,308.8L896.9,310" fill="none" stroke="#1a1a1a" stroke-width="1.3" stroke-linejoin="round" stroke-linecap="round"/>
<path d="M900,293.8L905,294" fill="none" stroke="#1a1a1a" stroke-width="1.0" stroke-linejoin="round" stroke-linecap="round"/>
<path d="M898.8,300L904.4,300.2" fill="none" stroke="#1a1a1a" stroke-width="1.0" stroke-linejoin="round" stroke-linecap="round"/>
<path d="M897.5,305.6L902.5,306" fill="none" stroke="#1a1a1a" stroke-width="1.0" stroke-linejoin="round" stroke-linecap="round"/>
<path d="M873.8,302.5L878.8,306.2L882.5,310L886.2,313.8L890,311.9L893.8,308.8L897.5,305L901.2,302.5" fill="none" stroke="#1a1a1a" stroke-width="1.8" stroke-linejoin="round" stroke-linecap="round"/>
<path d="M880,303.8L883.8,307.5L888.1,310.6L891.9,307.5L895,303.8" fill="none" stroke="#1a1a1a" stroke-width="1.3" stroke-linejoin="round" stroke-linecap="round"/>
<path d="M880,335.6L883.8,337.5L882.5,340.6L886.2,340L890,337.5L893.1,336.2L895,340L892.5,343.1L889.4,344.4L891.9,347.5L895,345.6L897.5,342.5" fill="none" stroke="#1a1a1a" stroke-width="1.6" stroke-linejoin="round" stroke-linecap="round"/>
<path d="M881.2,350L885,348.8L888.1,350.6L885.6,353.1L882.5,353.8L880.6,356.2L883.8,357.5" fill="none" stroke="#1a1a1a" stroke-width="1.5" stroke-linejoin="round" stroke-linecap="round"/>
<path d="M875,362.5L878.8,360L881.9,358.8L885,356.9" fill="none" stroke="#1a1a1a" stroke-width="1.5" stroke-linejoin="round" stroke-linecap="round"/>
<path d="M1013.6,184.8L1010.8,186.9L1008.7,189L1005.9,188.3L1003.8,191.1L1000.9,190.4L998.8,193.2L996,192.5L993.2,196L991.1,195.3L989,199.5L986.9,198.8L984.8,203L982.7,205.2" fill="none" stroke="#1a1a1a" stroke-width="2.0" stroke-linejoin="round" stroke-linecap="round"/>
<path d="M989.7,189.7L989,193.9L986.9,196.7" fill="none" stroke="#1a1a1a" stroke-width="1.5" stroke-linejoin="round" stroke-linecap="round"/>
<path d="M995.3,191.1L994.6,194.6" fill="none" stroke="#1a1a1a" stroke-width="1.5" stroke-linejoin="round" stroke-linecap="round"/>
<path d="M965.8,216.1L967.9,217.1L966.5,219.2L964.4,221.3L966.1,223.4L964.1,224.8" fill="none" stroke="#1a1a1a" stroke-width="2.0" stroke-linejoin="round" stroke-linecap="round"/>
<path d="M690,448.7L692.5,450.8L695,451.7L698.3,450.5L701.7,451.3L705,449.7L707.5,450.8L710,448L713,450L714.2,453.7L718.3,452" fill="none" stroke="#1a1a1a" stroke-width="2.4" stroke-linejoin="round" stroke-linecap="round"/>
<path d="M714.2,435L718.3,434.2L721.7,436.7L721.7,441.7L719.2,445.8L716.7,447L714.7,444.2L716.7,440Z" fill="#fff" stroke="#1a1a1a" stroke-width="1.1" stroke-linejoin="round"/>
<path d="M712.5,435L715,437.5L713.3,440.8L715.3,444.2L713.7,447.5" fill="none" stroke="#1a1a1a" stroke-width="1.6" stroke-linejoin="round" stroke-linecap="round"/>
<path d="M731.7,428L735,427L737.5,428.7L735.8,431.3L733,430.8" fill="none" stroke="#1a1a1a" stroke-width="1.4" stroke-linejoin="round" stroke-linecap="round"/>
<path d="M740,431.3L744.2,430.3" fill="none" stroke="#1a1a1a" stroke-width="1.4" stroke-linejoin="round" stroke-linecap="round"/>
<path d="M750,429.7L755,430.3" fill="none" stroke="#1a1a1a" stroke-width="1.4" stroke-linejoin="round" stroke-linecap="round"/>
<path d="M656.7,438.3L660.8,437.5L662.5,440L660,441.7L657,441Z" fill="#fff" stroke="#1a1a1a" stroke-width="1.1" stroke-linejoin="round"/>
<path d="M679.2,441.7L682.5,441.3L683.3,444.7L680.8,445.8L678.7,444.2Z" fill="#fff" stroke="#1a1a1a" stroke-width="1.1" stroke-linejoin="round"/>
<path d="M640,441.3L642,443.3L640.8,445.8" fill="none" stroke="#1a1a1a" stroke-width="1.5" stroke-linejoin="round" stroke-linecap="round"/>
<path d="M655.3,437.5L656.7,440.8" fill="none" stroke="#1a1a1a" stroke-width="1.5" stroke-linejoin="round" stroke-linecap="round"/>
<path d="M608.3,498.3L610,491.7L608,485L607.3,480L609.3,472.5L612.7,467.5L618,461.7L624.7,457.3L631.3,453L637.7,449.2" fill="none" stroke="#1a1a1a" stroke-width="2.0" stroke-linejoin="round" stroke-linecap="round"/>
<path d="M797.7,517.5L799,515.8L801.8,515.3L804.3,516.3L804.7,518.3L802.7,519.7L799.7,520L798,519Z" fill="#fff" stroke="#1a1a1a" stroke-width="1.1" stroke-linejoin="round"/>
<path d="M810.2,518.7L814.3,517.5L819.3,515.8L822.7,516.7L817.7,518.7L813.5,520" fill="none" stroke="#1a1a1a" stroke-width="2.0" stroke-linejoin="round" stroke-linecap="round"/>
<path d="M824.3,507.5L826.8,509.2L825.7,510.8" fill="none" stroke="#1a1a1a" stroke-width="2.0" stroke-linejoin="round" stroke-linecap="round"/>
<path d="M803.5,470L804.7,474.2L804,477.5" fill="none" stroke="#1a1a1a" stroke-width="1.8" stroke-linejoin="round" stroke-linecap="round"/>
<path d="M810.2,483.3L811.8,487.5L810.7,490.8L812.7,489.2" fill="none" stroke="#1a1a1a" stroke-width="1.8" stroke-linejoin="round" stroke-linecap="round"/>
<path d="M815.2,492.5L816.8,495.8" fill="none" stroke="#1a1a1a" stroke-width="1.8" stroke-linejoin="round" stroke-linecap="round"/>
<path d="M822,404.2L825.8,408L823.2,413L820.8,419.2L822,425.5L820,430.5" fill="none" stroke="#1a1a1a" stroke-width="1.6" stroke-linejoin="round" stroke-linecap="round"/>
<g font-family="'Liberation Serif','DejaVu Serif',serif" font-weight="bold" font-size="19.2" fill="#2b2b2b" stroke="#2b2b2b" stroke-width="0.45" text-anchor="middle" filter="url(#halo)">
<text transform="translate(296.5,140.8) scale(0.86,1)">WA</text>
<text transform="translate(296.3,207.0) scale(0.86,1)">OR</text>
<text transform="translate(376.3,197.5) scale(0.86,1)">ID</text>
<text transform="translate(442.5,147.5) scale(0.86,1)">MT</text>
<text transform="translate(470.5,224.0) scale(0.86,1)">WY</text>
<text transform="translate(566.5,139.5) scale(0.86,1)">ND</text>
<text transform="translate(569.0,197.5) scale(0.86,1)">SD</text>
<text transform="translate(649.8,160.5) scale(0.86,1)">MN</text>
<text transform="translate(709.8,193.8) scale(0.86,1)">WI</text>
<text transform="translate(773.3,178.8) scale(0.86,1)">MI</text>
<text transform="translate(930.8,194.5) scale(0.86,1)">VT</text>
<text transform="translate(966.5,212.0) scale(0.86,1)">NH</text>
<text transform="translate(984.5,182.0) scale(0.86,1)">ME</text>
<text transform="translate(898.3,225.0) scale(0.86,1)">NY</text>
<text transform="translate(348.8,289.5) scale(0.86,1)">NV</text>
<text transform="translate(307.5,323.3) scale(0.86,1)">CA</text>
<text transform="translate(415.0,289.5) scale(0.86,1)">UT</text>
<text transform="translate(417.0,374.0) scale(0.86,1)">AZ</text>
<text transform="translate(575.3,251.0) scale(0.86,1)">NE</text>
<text transform="translate(497.8,296.0) scale(0.86,1)">CO</text>
<text transform="translate(593.8,304.4) scale(0.86,1)">KS</text>
<text transform="translate(673.5,306.5) scale(0.86,1)">MO</text>
<text transform="translate(717.3,276.0) scale(0.86,1)">IL</text>
<text transform="translate(658.5,241.5) scale(0.86,1)">IA</text>
<text transform="translate(605.5,352.8) scale(0.86,1)">OK</text>
<text transform="translate(673.5,364.0) scale(0.86,1)">AR</text>
<text transform="translate(491.5,371.5) scale(0.86,1)">NM</text>
<text transform="translate(756.3,279.0) scale(0.86,1)">IN</text>
<text transform="translate(803.3,270.3) scale(0.86,1)">OH</text>
<text transform="translate(783.3,313.5) scale(0.86,1)">KY</text>
<text transform="translate(833.3,310.3) scale(0.86,1)">WV</text>
<text transform="translate(869.0,262.0) scale(0.86,1)">PA</text>
<text transform="translate(870.8,321.5) scale(0.86,1)">VA</text>
<text transform="translate(852.0,354.5) scale(0.86,1)">NC</text>
<text transform="translate(755.0,348.5) scale(0.86,1)">TN</text>
<text transform="translate(829.5,378.5) scale(0.86,1)">SC</text>
<text transform="translate(922.0,282.8) scale(0.86,1)">NJ</text>
<text transform="translate(937.0,259.8) scale(0.86,1)">CT</text>
<text transform="translate(965.0,259.8) scale(0.86,1)">RI</text>
<text transform="translate(968.3,240.3) scale(0.86,1)">MA</text>
<text transform="translate(580.5,418.5) scale(0.86,1)">TX</text>
<text transform="translate(710.5,399.3) scale(0.86,1)">MS</text>
<text transform="translate(693.5,438.0) scale(0.86,1)">LA</text>
<text transform="translate(750.8,399.3) scale(0.86,1)">AL</text>
<text transform="translate(793.3,401.0) scale(0.86,1)">GA</text>
<text transform="translate(806.5,466.0) scale(0.86,1)">FL</text>
</g>
<g font-family="'Liberation Sans',Arial,sans-serif" fill="#111">
<text y="48.2" font-size="28"><tspan x="202.6" textLength="101" lengthAdjust="spacingAndGlyphs">Drought</tspan> <tspan x="311.9" textLength="135.9" lengthAdjust="spacingAndGlyphs">conditions,</tspan> <tspan x="462.4" textLength="66.8" lengthAdjust="spacingAndGlyphs">week</tspan> <tspan x="536.5" textLength="22.6" lengthAdjust="spacingAndGlyphs">of</tspan> <tspan x="568.1" textLength="131.2" lengthAdjust="spacingAndGlyphs">November</tspan> <tspan x="707.6" textLength="38.9" lengthAdjust="spacingAndGlyphs">25,</tspan> <tspan x="754.2" textLength="61.4" lengthAdjust="spacingAndGlyphs">2025</tspan></text>
<text y="155" font-size="24"><tspan x="9.2" textLength="87" lengthAdjust="spacingAndGlyphs">Drought</tspan> <tspan x="103.2" textLength="92.2" lengthAdjust="spacingAndGlyphs">intensity</tspan></text>
<text y="195" font-size="18"><tspan x="67" textLength="93" lengthAdjust="spacingAndGlyphs">Abnormally</tspan> <tspan x="165.5" textLength="25.8" lengthAdjust="spacingAndGlyphs">dry</tspan></text>
<text y="231.9" font-size="18"><tspan x="67" textLength="77.5" lengthAdjust="spacingAndGlyphs">Moderate</tspan> <tspan x="149.5" textLength="63.5" lengthAdjust="spacingAndGlyphs">drought</tspan></text>
<text y="268.7" font-size="18"><tspan x="67" textLength="54.8" lengthAdjust="spacingAndGlyphs">Severe</tspan> <tspan x="127.5" textLength="62.5" lengthAdjust="spacingAndGlyphs">drought</tspan></text>
<text y="305.6" font-size="18"><tspan x="67" textLength="66.8" lengthAdjust="spacingAndGlyphs">Extreme</tspan> <tspan x="139.2" textLength="63.2" lengthAdjust="spacingAndGlyphs">drought</tspan></text>
<text y="342.4" font-size="18"><tspan x="67" textLength="95.5" lengthAdjust="spacingAndGlyphs">Exceptional</tspan> <tspan x="168" textLength="63.2" lengthAdjust="spacingAndGlyphs">drought</tspan></text>
<text y="567.2" font-size="16"><tspan x="8.3" textLength="55.5" lengthAdjust="spacingAndGlyphs">Source:</tspan> <tspan x="69.8" textLength="28.2" lengthAdjust="spacingAndGlyphs">U.S.</tspan> <tspan x="103.7" textLength="59.1" lengthAdjust="spacingAndGlyphs">Drought</tspan> <tspan x="167.1" textLength="57.2" lengthAdjust="spacingAndGlyphs">Monitor,</tspan> <tspan x="229.9" textLength="34.2" lengthAdjust="spacingAndGlyphs">Evan</tspan> <tspan x="269.8" textLength="51.8" lengthAdjust="spacingAndGlyphs">Comen</tspan></text>
</g>
<rect x="15" y="168.75" width="38.2" height="32.5" fill="#ffffd4"/>
<rect x="15" y="205.50" width="38.2" height="32.5" fill="#fed98e"/>
<rect x="15" y="242.50" width="38.2" height="32.5" fill="#fe9929"/>
<rect x="15" y="279.50" width="38.2" height="32.5" fill="#d95f0e"/>
<rect x="15" y="316.25" width="38.2" height="32.5" fill="#993404"/>
</svg>
</body></html>
